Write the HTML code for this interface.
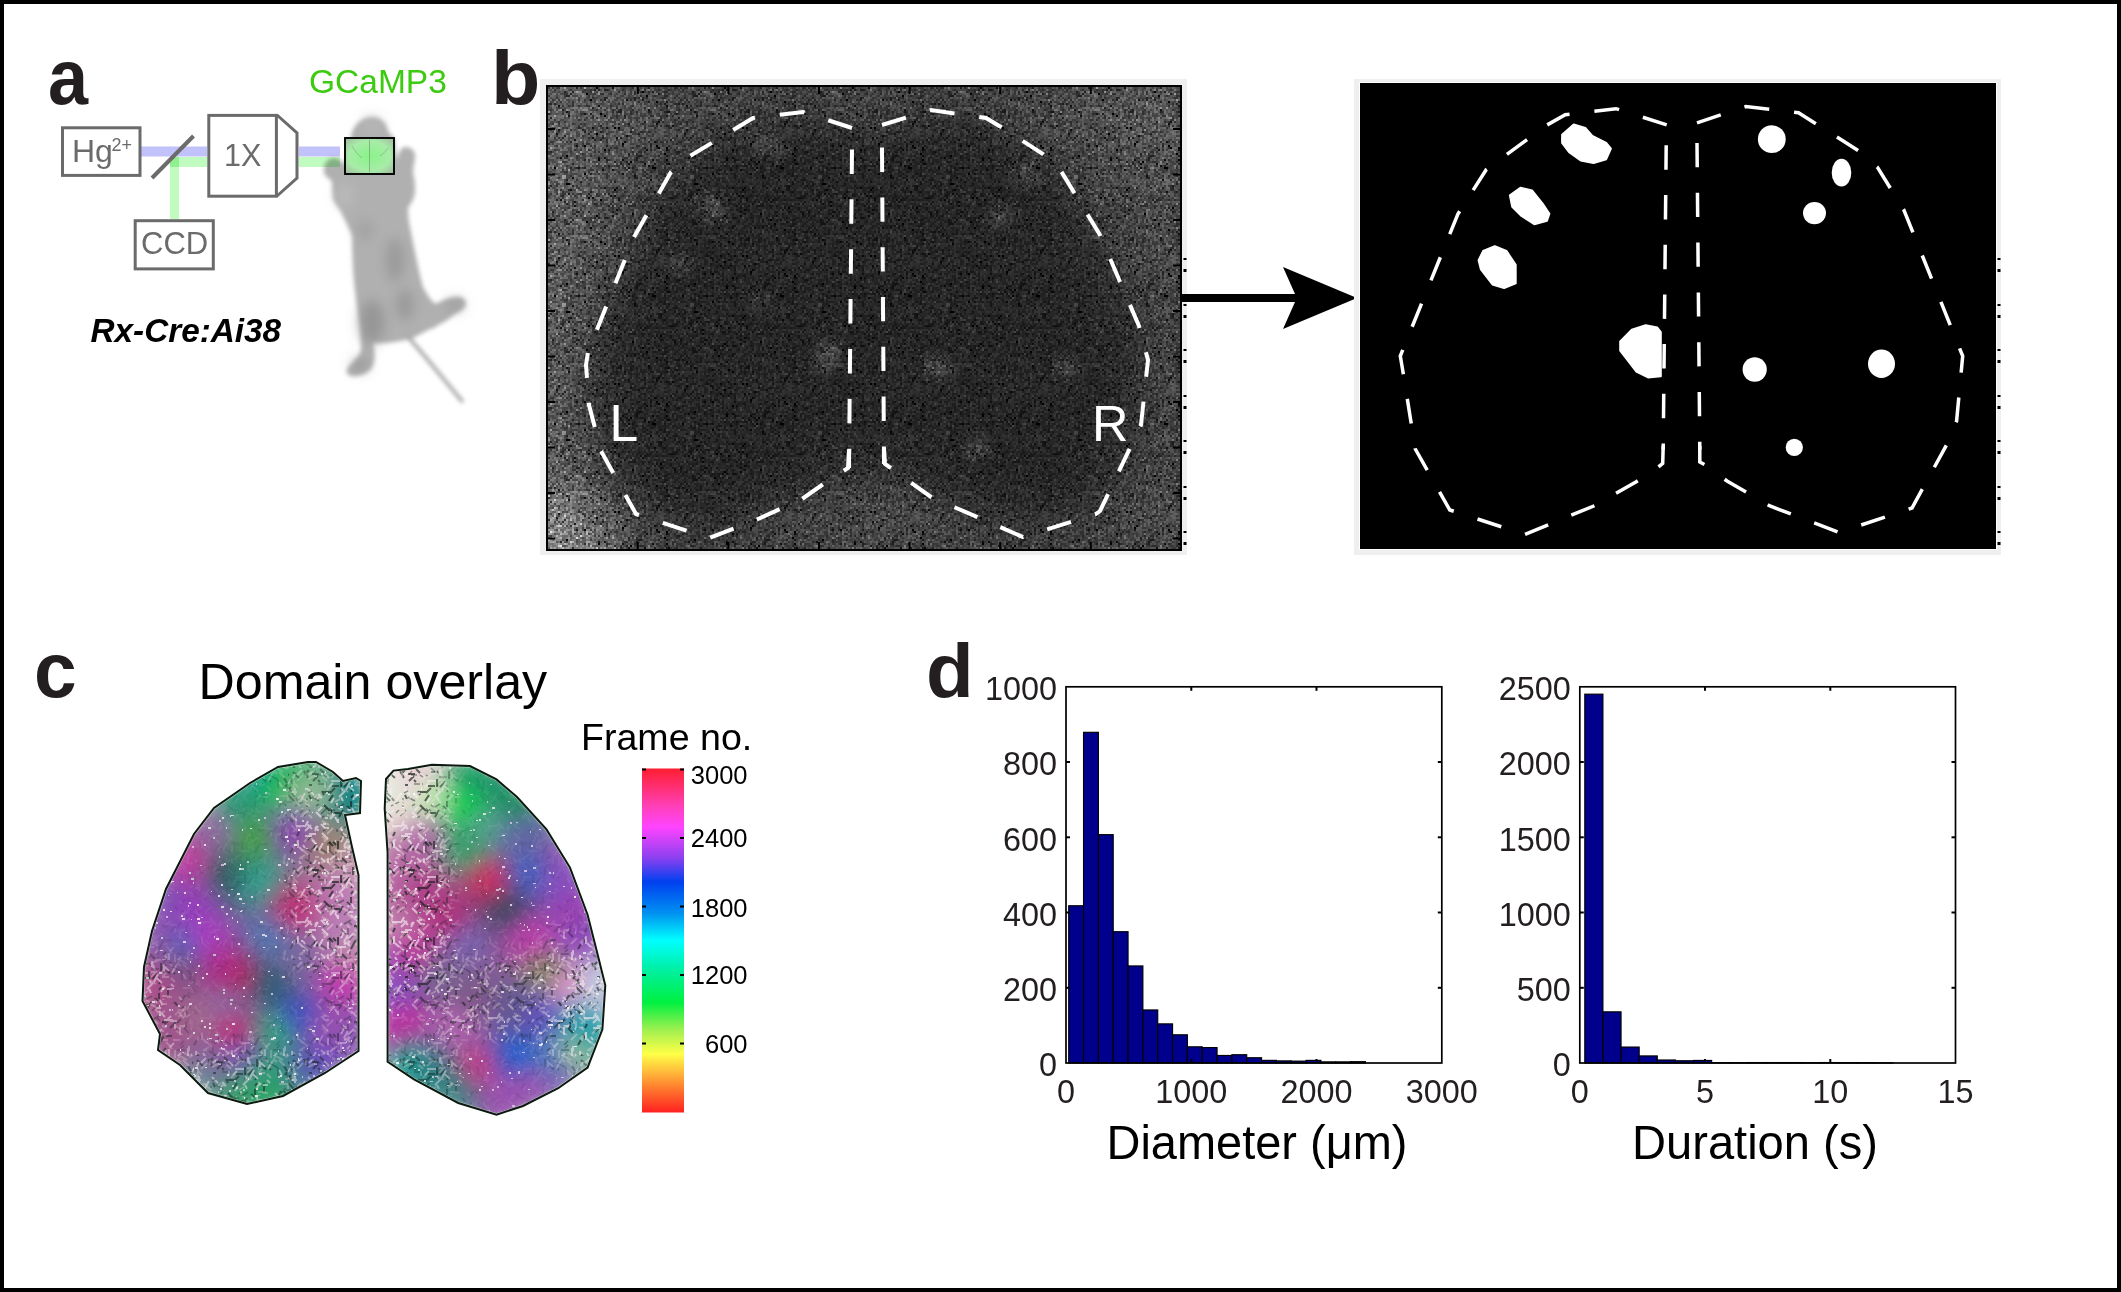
<!DOCTYPE html><html><head><meta charset="utf-8"><style>html,body{margin:0;padding:0;background:#fff;width:2121px;height:1292px;overflow:hidden}svg{display:block}text{font-family:"Liberation Sans",sans-serif}</style></head><body>
<svg width="2121" height="1292" viewBox="0 0 2121 1292">
<defs>
<filter id="blur3" x="-20%" y="-20%" width="140%" height="140%"><feGaussianBlur stdDeviation="2.5"/></filter>
</defs>
<rect x="0" y="0" width="2121" height="1292" fill="#fff"/>
<rect x="2" y="2" width="2117" height="1288" fill="none" stroke="#000" stroke-width="4"/>
<text transform="translate(48,103.5) scale(0.93,1)" font-size="77.5" font-weight="bold" fill="#231f20">a</text>
<filter id="mblur" x="-30%" y="-30%" width="160%" height="160%"><feGaussianBlur stdDeviation="2.2"/></filter>
<filter id="mblur2" x="-50%" y="-50%" width="200%" height="200%"><feGaussianBlur stdDeviation="6"/></filter>
<g filter="url(#mblur)"><path d="M372,117 C381,117 387,123 388,131 L394,138 L397,160 C399,152 401,147 405,147 C411,147 416,151 415,158 C414,164 413,168 413,173 C415,180 416,190 414,197 C412,203 409,206 408,208 C408,216 409,224 411,232 C414,248 419,272 423,287 C428,296 432,302 436,304 C442,300 450,297 456,297 C462,296 466,299 466,304 C465,309 460,312 457,313 C450,318 445,322 440,324 C436,327 432,329 430,329 L413,338 C400,342 385,344 373,343 C375,350 376,360 372,368 C367,374 358,377 352,376 C346,375 345,371 349,366 C355,360 360,355 361,350 C361,340 360,332 360,328 C358,315 356,300 355,292 C353,275 352,255 352,236 C348,225 344,219 341,212 C337,206 334,202 333,199 C332,192 332,186 332,181 C328,178 323,175 324,170 C324,165 326,161 330,159 C336,156 341,160 345,165 L352,132 C355,124 362,117 372,117 Z" fill="#b0b0b0"/><path d="M408,337 C422,352 440,375 462,401" fill="none" stroke="#a4a4a4" stroke-width="3.5" stroke-linecap="round"/><g filter="url(#mblur2)"><ellipse cx="372" cy="322" rx="12" ry="22" fill="#959595"/><ellipse cx="405" cy="305" rx="9" ry="16" fill="#9a9a9a"/><ellipse cx="360" cy="365" rx="8" ry="6" fill="#959595"/><ellipse cx="455" cy="305" rx="8" ry="5" fill="#989898"/><ellipse cx="345" cy="195" rx="7" ry="12" fill="#bcbcbc"/><ellipse cx="372" cy="125" rx="9" ry="7" fill="#b8b8b8"/><ellipse cx="395" cy="260" rx="9" ry="22" fill="#9a9a9a"/><ellipse cx="365" cy="230" rx="8" ry="10" fill="#a0a0a0"/></g></g>
<rect x="141" y="146.5" width="66" height="10" fill="#c2c2fa"/>
<rect x="299" y="146.5" width="41" height="10" fill="#c2c2fa" style="mix-blend-mode:multiply"/>
<rect x="170" y="157" width="37" height="10" fill="#c0fcc0"/>
<rect x="299" y="157" width="41" height="10" fill="#c0fcc0" style="mix-blend-mode:multiply"/>
<rect x="170" y="157" width="9" height="62" fill="#c0fcc0"/>
<rect x="170" y="157" width="9" height="10" fill="#90f090"/>
<rect x="62.5" y="127.8" width="77.5" height="47.6" fill="none" stroke="#6b6b6b" stroke-width="3"/>
<line x1="152" y1="178" x2="193.5" y2="136" stroke="#6b6b6b" stroke-width="4"/>
<rect x="208.8" y="115.4" width="67.6" height="80.8" fill="#fff" stroke="#6b6b6b" stroke-width="3"/>
<path d="M277,115 L297,133 L297,178 L277,196" fill="none" stroke="#6b6b6b" stroke-width="3" stroke-linejoin="miter"/>
<rect x="135.2" y="220.7" width="78.1" height="48.2" fill="#fff" stroke="#6b6b6b" stroke-width="3"/>
<text x="72" y="162" font-size="32" fill="#6b6b6b">Hg</text>
<text x="111.5" y="151" font-size="18" fill="#6b6b6b">2+</text>
<text x="224" y="165.8" font-size="30.5" fill="#6b6b6b">1X</text>
<text x="141" y="253.5" font-size="31" fill="#6b6b6b">CCD</text>
<defs><radialGradient id="bbox" cx="0.5" cy="0.5" r="0.7"><stop offset="0" stop-color="#88f488"/><stop offset="0.6" stop-color="#a8eca8"/><stop offset="1" stop-color="#a0b4a0"/></radialGradient></defs>
<rect x="345" y="138" width="49" height="36" fill="url(#bbox)"/>
<line x1="369.5" y1="140" x2="369.5" y2="172" stroke="#7a9a7a" stroke-width="0.7"/><path d="M352,146 C355,151 358,155 362,158 M388,148 C385,152 383,154 380,156" stroke="#80a080" stroke-width="0.6" fill="none"/>
<rect x="345" y="138" width="49" height="36" fill="none" stroke="#000" stroke-width="1.9"/>
<text x="309" y="92.7" font-size="33.5" fill="#3ccb10">GCaMP3</text>
<text x="90.5" y="342" font-size="33.3" font-weight="bold" font-style="italic" fill="#000">Rx-Cre:Ai38</text>
<text transform="translate(491,103.5) scale(1.07,1)" font-size="75.5" font-weight="bold" fill="#231f20">b</text>
<defs><pattern id="npat" x="548" y="87" width="128" height="128" patternUnits="userSpaceOnUse"><rect width="128" height="128" fill="#808080"/><path fill="rgb(0,0,0)" d="M48 0h2v2h-2zM94 4h2v2h-2zM38 6h2v2h-2zM98 8h2v2h-2zM42 12h2v2h-2zM108 14h2v2h-2zM52 26h2v2h-2zM56 28h2v2h-2zM66 40h2v2h-2zM70 40h2v2h-2zM48 46h2v2h-2zM74 56h2v2h-2zM36 58h2v2h-2zM108 58h2v2h-2zM110 60h2v2h-2zM118 60h2v2h-2zM56 62h2v2h-2zM116 66h2v2h-2zM18 68h2v2h-2zM50 72h2v2h-2zM118 72h2v2h-2zM82 74h2v2h-2zM6 80h2v2h-2zM104 80h4v2h-4zM36 86h2v2h-2zM18 96h4v2h-4zM66 102h2v2h-2zM40 110h2v2h-2zM52 112h2v2h-2zM112 120h2v2h-2zM84 126h2v2h-2z"/><path fill="rgb(26,26,26)" d="M64 0h2v2h-2zM78 12h2v2h-2zM10 18h2v2h-2zM50 18h2v2h-2zM118 18h2v2h-2zM100 22h2v2h-2zM18 24h2v2h-2zM120 24h2v2h-2zM36 26h2v2h-2zM20 28h2v2h-2zM110 34h2v2h-2zM108 36h2v2h-2zM124 38h2v2h-2zM44 40h2v2h-2zM58 40h2v2h-2zM10 42h2v2h-2zM8 46h2v2h-2zM78 48h2v2h-2zM44 50h2v2h-2zM68 50h2v2h-2zM26 52h2v2h-2zM76 54h2v2h-2zM106 54h2v2h-2zM28 58h2v2h-2zM98 62h2v2h-2zM118 62h2v2h-2zM12 70h2v2h-2zM50 70h2v2h-2zM56 70h2v2h-2zM74 72h2v2h-2zM104 72h2v2h-2zM80 76h2v2h-2zM96 76h2v2h-2zM120 76h2v2h-2zM100 78h2v2h-2zM30 80h2v2h-2zM80 80h2v2h-2zM54 82h2v2h-2zM64 82h2v2h-2zM74 86h2v2h-2zM86 88h2v2h-2zM24 90h2v2h-2zM102 92h2v2h-2zM56 100h2v2h-2zM68 100h2v2h-2zM22 102h2v2h-2zM106 104h2v2h-2zM20 106h2v2h-2zM62 108h2v2h-2zM66 108h2v2h-2zM44 110h2v2h-2zM12 112h2v2h-2zM70 112h2v2h-2zM26 114h2v2h-2zM26 118h2v2h-2zM68 122h2v2h-2zM126 126h2v2h-2z"/><path fill="rgb(51,51,51)" d="M28 0h2v2h-2zM100 0h2v2h-2zM46 2h2v2h-2zM50 2h2v2h-2zM56 2h4v2h-4zM16 4h2v2h-2zM24 4h2v2h-2zM104 4h2v2h-2zM22 6h2v2h-2zM110 6h2v2h-2zM18 8h4v2h-4zM56 10h2v2h-2zM86 10h2v2h-2zM56 12h2v2h-2zM86 12h2v2h-2zM94 12h2v2h-2zM100 14h2v2h-2zM118 14h2v2h-2zM2 16h2v2h-2zM6 16h2v2h-2zM116 16h2v2h-2zM44 20h2v2h-2zM14 22h2v2h-2zM72 22h2v2h-2zM70 24h4v2h-4zM100 24h2v2h-2zM118 24h2v2h-2zM0 26h2v2h-2zM42 26h2v2h-2zM76 28h2v2h-2zM118 28h2v2h-2zM2 30h2v2h-2zM96 34h2v2h-2zM80 36h2v2h-2zM52 38h2v2h-2zM118 38h2v2h-2zM30 40h2v2h-2zM34 42h2v2h-2zM36 44h2v2h-2zM52 44h2v2h-2zM82 44h2v2h-2zM40 46h2v2h-2zM90 46h2v2h-2zM0 48h2v2h-2zM16 48h2v2h-2zM14 50h2v2h-2zM54 50h2v2h-2zM72 50h2v2h-2zM46 52h2v2h-2zM52 52h2v2h-2zM122 52h2v2h-2zM22 54h2v2h-2zM58 58h2v2h-2zM74 58h2v2h-2zM102 58h2v2h-2zM96 60h2v2h-2zM60 62h2v2h-2zM2 64h2v2h-2zM80 66h2v2h-2zM90 68h4v2h-4zM118 68h2v2h-2zM88 70h2v2h-2zM36 72h2v2h-2zM58 72h2v2h-2zM88 72h2v2h-2zM66 74h2v2h-2zM78 74h2v2h-2zM24 76h2v2h-2zM72 76h2v2h-2zM106 76h2v2h-2zM118 76h2v2h-2zM60 78h2v2h-2zM104 78h2v2h-2zM22 80h2v2h-2zM28 80h2v2h-2zM36 80h2v2h-2zM84 80h2v2h-2zM42 86h2v2h-2zM86 90h4v2h-4zM18 92h2v2h-2zM32 94h2v2h-2zM66 94h2v2h-2zM116 96h2v2h-2zM2 98h2v2h-2zM24 98h2v2h-2zM112 98h2v2h-2zM76 100h2v2h-2zM90 100h2v2h-2zM102 100h2v2h-2zM112 100h2v2h-2zM20 102h2v2h-2zM42 104h2v2h-2zM116 104h2v2h-2zM40 106h2v2h-2zM60 106h2v2h-2zM14 108h2v2h-2zM70 110h2v2h-2zM122 110h4v2h-4zM8 112h2v2h-2zM92 112h2v2h-2zM96 112h2v2h-2zM16 114h2v2h-2zM94 114h2v2h-2zM18 116h2v2h-2zM46 116h2v2h-2zM76 116h2v2h-2zM60 118h2v2h-2zM72 118h2v2h-2zM108 120h2v2h-2zM4 124h2v2h-2zM28 124h4v2h-4zM40 124h2v2h-2zM64 124h2v2h-2zM112 124h2v2h-2zM68 126h2v2h-2z"/><path fill="rgb(76,76,76)" d="M0 0h2v2h-2zM4 0h2v2h-2zM8 0h4v2h-4zM32 0h2v2h-2zM84 0h2v2h-2zM126 0h2v2h-2zM6 2h2v2h-2zM22 2h2v2h-2zM36 2h2v2h-2zM42 2h2v2h-2zM60 2h2v2h-2zM74 2h2v2h-2zM90 2h2v2h-2zM96 2h2v2h-2zM110 2h2v2h-2zM120 2h2v2h-2zM34 4h2v2h-2zM42 4h2v2h-2zM70 4h2v2h-2zM86 4h2v2h-2zM92 4h2v2h-2zM100 4h2v2h-2zM116 4h4v2h-4zM16 6h4v2h-4zM46 6h2v2h-2zM52 6h4v2h-4zM62 6h2v2h-2zM76 6h2v2h-2zM86 6h2v2h-2zM0 8h2v2h-2zM16 8h2v2h-2zM40 8h2v2h-2zM92 8h2v2h-2zM106 8h2v2h-2zM116 8h4v2h-4zM8 10h2v2h-2zM44 10h2v2h-2zM58 10h2v2h-2zM90 10h2v2h-2zM94 10h2v2h-2zM98 10h2v2h-2zM114 10h4v2h-4zM126 10h2v2h-2zM4 12h2v2h-2zM10 12h2v2h-2zM30 12h2v2h-2zM36 12h2v2h-2zM52 12h2v2h-2zM82 12h2v2h-2zM12 14h2v2h-2zM24 14h2v2h-2zM90 14h2v2h-2zM0 16h2v2h-2zM24 16h2v2h-2zM70 16h2v2h-2zM74 16h2v2h-2zM112 16h2v2h-2zM126 16h2v2h-2zM14 18h2v2h-2zM20 18h2v2h-2zM24 18h2v2h-2zM30 18h2v2h-2zM38 18h4v2h-4zM62 18h2v2h-2zM84 18h2v2h-2zM108 18h2v2h-2zM10 20h2v2h-2zM68 20h2v2h-2zM96 20h2v2h-2zM118 20h2v2h-2zM2 22h2v2h-2zM48 22h2v2h-2zM56 22h2v2h-2zM64 22h2v2h-2zM70 22h2v2h-2zM84 22h2v2h-2zM112 22h2v2h-2zM20 24h2v2h-2zM64 24h2v2h-2zM68 24h2v2h-2zM82 24h2v2h-2zM88 24h2v2h-2zM102 24h2v2h-2zM116 24h2v2h-2zM14 26h2v2h-2zM20 26h2v2h-2zM32 26h4v2h-4zM82 26h2v2h-2zM126 26h2v2h-2zM44 28h2v2h-2zM68 28h2v2h-2zM102 28h4v2h-4zM124 28h2v2h-2zM38 30h2v2h-2zM44 30h2v2h-2zM48 30h2v2h-2zM62 30h2v2h-2zM68 30h2v2h-2zM76 30h2v2h-2zM112 30h2v2h-2zM6 32h2v2h-2zM30 32h2v2h-2zM36 32h2v2h-2zM88 32h2v2h-2zM110 32h4v2h-4zM126 32h2v2h-2zM10 34h2v2h-2zM16 34h2v2h-2zM104 34h2v2h-2zM108 34h2v2h-2zM114 34h2v2h-2zM4 36h2v2h-2zM10 36h2v2h-2zM24 36h2v2h-2zM32 36h2v2h-2zM36 36h2v2h-2zM70 36h2v2h-2zM94 36h2v2h-2zM30 38h2v2h-2zM64 38h2v2h-2zM80 38h2v2h-2zM104 38h2v2h-2zM108 38h2v2h-2zM112 38h2v2h-2zM120 38h2v2h-2zM14 40h2v2h-2zM18 40h2v2h-2zM32 40h2v2h-2zM54 40h2v2h-2zM84 40h2v2h-2zM96 40h2v2h-2zM106 40h2v2h-2zM120 40h4v2h-4zM2 42h2v2h-2zM22 42h2v2h-2zM36 42h2v2h-2zM70 42h2v2h-2zM10 44h2v2h-2zM42 44h2v2h-2zM54 44h2v2h-2zM92 44h4v2h-4zM100 44h2v2h-2zM58 46h2v2h-2zM8 48h2v2h-2zM34 48h2v2h-2zM48 48h2v2h-2zM54 48h2v2h-2zM80 48h2v2h-2zM6 50h2v2h-2zM10 50h2v2h-2zM40 50h2v2h-2zM96 50h2v2h-2zM12 52h2v2h-2zM58 52h2v2h-2zM68 52h2v2h-2zM90 52h2v2h-2zM2 54h4v2h-4zM18 54h2v2h-2zM58 54h2v2h-2zM100 54h2v2h-2zM108 54h2v2h-2zM112 54h2v2h-2zM118 54h2v2h-2zM0 56h2v2h-2zM28 56h2v2h-2zM34 56h2v2h-2zM38 56h4v2h-4zM102 56h2v2h-2zM8 58h2v2h-2zM26 58h2v2h-2zM34 58h2v2h-2zM42 58h2v2h-2zM46 58h2v2h-2zM88 58h4v2h-4zM120 58h2v2h-2zM62 60h2v2h-2zM66 60h4v2h-4zM84 60h2v2h-2zM108 60h2v2h-2zM6 62h2v2h-2zM26 62h2v2h-2zM32 62h2v2h-2zM40 62h2v2h-2zM102 62h2v2h-2zM120 62h2v2h-2zM126 62h2v2h-2zM0 64h2v2h-2zM22 64h2v2h-2zM46 64h2v2h-2zM50 64h2v2h-2zM56 64h2v2h-2zM60 64h2v2h-2zM84 64h2v2h-2zM90 64h4v2h-4zM96 64h2v2h-2zM0 66h2v2h-2zM34 66h2v2h-2zM88 66h2v2h-2zM14 68h2v2h-2zM28 68h2v2h-2zM42 68h2v2h-2zM80 68h2v2h-2zM88 68h2v2h-2zM110 68h2v2h-2zM8 70h2v2h-2zM16 70h4v2h-4zM28 70h2v2h-2zM76 70h4v2h-4zM40 72h2v2h-2zM60 72h2v2h-2zM86 72h2v2h-2zM108 72h2v2h-2zM124 72h2v2h-2zM14 74h4v2h-4zM58 74h2v2h-2zM72 74h2v2h-2zM92 74h4v2h-4zM116 74h2v2h-2zM0 76h2v2h-2zM18 78h2v2h-2zM48 78h2v2h-2zM56 78h2v2h-2zM68 78h4v2h-4zM74 78h2v2h-2zM86 78h2v2h-2zM96 78h2v2h-2zM26 80h2v2h-2zM34 80h2v2h-2zM54 80h2v2h-2zM60 80h2v2h-2zM76 80h2v2h-2zM116 80h2v2h-2zM14 82h2v2h-2zM24 82h2v2h-2zM42 82h4v2h-4zM78 82h2v2h-2zM88 82h2v2h-2zM94 82h2v2h-2zM106 82h2v2h-2zM126 82h2v2h-2zM16 84h4v2h-4zM40 84h2v2h-2zM48 84h2v2h-2zM70 84h2v2h-2zM84 84h2v2h-2zM96 84h2v2h-2zM102 84h2v2h-2zM50 86h2v2h-2zM58 86h2v2h-2zM86 86h2v2h-2zM98 86h2v2h-2zM112 86h2v2h-2zM116 86h2v2h-2zM22 88h2v2h-2zM58 88h2v2h-2zM96 88h2v2h-2zM102 88h2v2h-2zM108 88h2v2h-2zM116 88h2v2h-2zM120 88h2v2h-2zM10 90h2v2h-2zM38 90h2v2h-2zM58 90h2v2h-2zM80 90h2v2h-2zM98 90h2v2h-2zM0 92h2v2h-2zM28 92h2v2h-2zM42 92h2v2h-2zM110 92h2v2h-2zM118 92h2v2h-2zM126 92h2v2h-2zM62 94h2v2h-2zM116 94h2v2h-2zM8 96h2v2h-2zM40 96h2v2h-2zM126 96h2v2h-2zM8 98h2v2h-2zM28 98h2v2h-2zM50 98h2v2h-2zM86 98h4v2h-4zM94 98h2v2h-2zM110 98h2v2h-2zM0 100h2v2h-2zM30 100h2v2h-2zM52 100h2v2h-2zM64 100h2v2h-2zM110 100h2v2h-2zM8 102h2v2h-2zM12 102h2v2h-2zM98 102h2v2h-2zM110 102h4v2h-4zM118 102h2v2h-2zM14 104h2v2h-2zM64 104h2v2h-2zM68 104h2v2h-2zM76 104h2v2h-2zM100 104h2v2h-2zM114 104h2v2h-2zM2 106h2v2h-2zM8 106h2v2h-2zM14 106h4v2h-4zM24 106h2v2h-2zM30 106h4v2h-4zM48 106h2v2h-2zM56 106h2v2h-2zM0 108h2v2h-2zM12 108h2v2h-2zM26 108h2v2h-2zM38 108h2v2h-2zM42 108h2v2h-2zM48 108h4v2h-4zM74 108h2v2h-2zM80 108h2v2h-2zM90 108h2v2h-2zM108 108h2v2h-2zM126 108h2v2h-2zM14 110h2v2h-2zM64 110h2v2h-2zM88 110h2v2h-2zM98 110h2v2h-2zM102 110h2v2h-2zM120 110h2v2h-2zM126 110h2v2h-2zM34 112h2v2h-2zM46 112h2v2h-2zM98 112h4v2h-4zM108 112h2v2h-2zM114 112h2v2h-2zM0 114h2v2h-2zM24 114h2v2h-2zM64 114h2v2h-2zM78 114h2v2h-2zM82 114h2v2h-2zM24 116h2v2h-2zM48 116h2v2h-2zM52 116h2v2h-2zM62 116h2v2h-2zM86 116h2v2h-2zM122 116h2v2h-2zM126 116h2v2h-2zM10 118h2v2h-2zM34 118h4v2h-4zM48 118h2v2h-2zM64 118h2v2h-2zM80 118h8v2h-8zM94 118h2v2h-2zM100 118h2v2h-2zM114 118h2v2h-2zM20 120h2v2h-2zM64 120h2v2h-2zM70 120h2v2h-2zM94 120h2v2h-2zM104 120h2v2h-2zM122 120h2v2h-2zM16 122h2v2h-2zM24 122h2v2h-2zM32 122h2v2h-2zM54 122h2v2h-2zM60 122h2v2h-2zM70 122h4v2h-4zM106 122h2v2h-2zM110 122h2v2h-2zM122 122h2v2h-2zM14 124h2v2h-2zM34 124h2v2h-2zM98 124h4v2h-4zM114 124h2v2h-2zM124 124h4v2h-4zM4 126h2v2h-2zM24 126h4v2h-4zM50 126h2v2h-2zM56 126h2v2h-2zM74 126h2v2h-2zM106 126h2v2h-2z"/><path fill="rgb(102,102,102)" d="M46 0h2v2h-2zM50 0h2v2h-2zM56 0h2v2h-2zM74 0h4v2h-4zM82 0h2v2h-2zM92 0h2v2h-2zM96 0h4v2h-4zM106 0h2v2h-2zM110 0h2v2h-2zM116 0h4v2h-4zM2 2h2v2h-2zM20 2h2v2h-2zM34 2h2v2h-2zM38 2h4v2h-4zM44 2h2v2h-2zM52 2h2v2h-2zM76 2h2v2h-2zM82 2h2v2h-2zM106 2h4v2h-4zM112 2h2v2h-2zM118 2h2v2h-2zM122 2h2v2h-2zM126 2h2v2h-2zM4 4h4v2h-4zM10 4h2v2h-2zM18 4h2v2h-2zM36 4h6v2h-6zM48 4h2v2h-2zM62 4h2v2h-2zM76 4h2v2h-2zM82 4h2v2h-2zM96 4h2v2h-2zM108 4h2v2h-2zM114 4h2v2h-2zM124 4h2v2h-2zM2 6h2v2h-2zM8 6h2v2h-2zM12 6h4v2h-4zM40 6h6v2h-6zM60 6h2v2h-2zM68 6h2v2h-2zM82 6h2v2h-2zM100 6h2v2h-2zM112 6h2v2h-2zM116 6h2v2h-2zM120 6h2v2h-2zM124 6h2v2h-2zM8 8h2v2h-2zM24 8h6v2h-6zM44 8h2v2h-2zM50 8h2v2h-2zM66 8h2v2h-2zM72 8h4v2h-4zM80 8h2v2h-2zM104 8h2v2h-2zM108 8h2v2h-2zM2 10h2v2h-2zM16 10h2v2h-2zM30 10h2v2h-2zM38 10h4v2h-4zM46 10h4v2h-4zM68 10h4v2h-4zM78 10h8v2h-8zM88 10h2v2h-2zM96 10h2v2h-2zM112 10h2v2h-2zM6 12h2v2h-2zM18 12h4v2h-4zM40 12h2v2h-2zM46 12h2v2h-2zM54 12h2v2h-2zM66 12h4v2h-4zM74 12h2v2h-2zM104 12h2v2h-2zM120 12h2v2h-2zM2 14h4v2h-4zM8 14h2v2h-2zM20 14h2v2h-2zM36 14h2v2h-2zM42 14h2v2h-2zM46 14h2v2h-2zM54 14h2v2h-2zM60 14h2v2h-2zM64 14h2v2h-2zM74 14h2v2h-2zM96 14h4v2h-4zM112 14h4v2h-4zM122 14h4v2h-4zM8 16h2v2h-2zM18 16h2v2h-2zM38 16h2v2h-2zM48 16h2v2h-2zM52 16h4v2h-4zM62 16h2v2h-2zM66 16h2v2h-2zM92 16h2v2h-2zM96 16h2v2h-2zM106 16h6v2h-6zM0 18h2v2h-2zM22 18h2v2h-2zM32 18h2v2h-2zM36 18h2v2h-2zM64 18h2v2h-2zM68 18h2v2h-2zM76 18h2v2h-2zM82 18h2v2h-2zM112 18h2v2h-2zM122 18h2v2h-2zM0 20h4v2h-4zM8 20h2v2h-2zM12 20h2v2h-2zM16 20h2v2h-2zM52 20h2v2h-2zM58 20h2v2h-2zM62 20h2v2h-2zM76 20h2v2h-2zM80 20h4v2h-4zM114 20h4v2h-4zM0 22h2v2h-2zM4 22h2v2h-2zM8 22h2v2h-2zM16 22h2v2h-2zM24 22h2v2h-2zM42 22h6v2h-6zM66 22h2v2h-2zM78 22h2v2h-2zM82 22h2v2h-2zM90 22h2v2h-2zM114 22h2v2h-2zM118 22h2v2h-2zM2 24h2v2h-2zM14 24h2v2h-2zM28 24h2v2h-2zM32 24h4v2h-4zM52 24h2v2h-2zM58 24h2v2h-2zM76 24h2v2h-2zM84 24h2v2h-2zM126 24h2v2h-2zM2 26h2v2h-2zM8 26h2v2h-2zM38 26h2v2h-2zM54 26h2v2h-2zM58 26h2v2h-2zM64 26h2v2h-2zM68 26h2v2h-2zM72 26h2v2h-2zM76 26h4v2h-4zM84 26h2v2h-2zM88 26h2v2h-2zM92 26h2v2h-2zM96 26h2v2h-2zM100 26h4v2h-4zM108 26h4v2h-4zM116 26h2v2h-2zM122 26h2v2h-2zM28 28h2v2h-2zM32 28h2v2h-2zM52 28h2v2h-2zM64 28h4v2h-4zM70 28h2v2h-2zM80 28h2v2h-2zM92 28h6v2h-6zM110 28h8v2h-8zM16 30h2v2h-2zM20 30h2v2h-2zM28 30h2v2h-2zM42 30h2v2h-2zM64 30h2v2h-2zM80 30h4v2h-4zM86 30h6v2h-6zM94 30h2v2h-2zM100 30h2v2h-2zM116 30h2v2h-2zM0 32h2v2h-2zM12 32h4v2h-4zM32 32h2v2h-2zM60 32h2v2h-2zM70 32h2v2h-2zM74 32h2v2h-2zM82 32h2v2h-2zM104 32h2v2h-2zM122 32h2v2h-2zM2 34h4v2h-4zM8 34h2v2h-2zM58 34h2v2h-2zM62 34h6v2h-6zM74 34h2v2h-2zM82 34h2v2h-2zM90 34h2v2h-2zM106 34h2v2h-2zM124 34h4v2h-4zM0 36h4v2h-4zM26 36h2v2h-2zM34 36h2v2h-2zM50 36h2v2h-2zM54 36h2v2h-2zM58 36h2v2h-2zM66 36h2v2h-2zM76 36h4v2h-4zM92 36h2v2h-2zM96 36h2v2h-2zM126 36h2v2h-2zM0 38h2v2h-2zM10 38h2v2h-2zM16 38h2v2h-2zM20 38h2v2h-2zM34 38h4v2h-4zM46 38h2v2h-2zM50 38h2v2h-2zM76 38h2v2h-2zM88 38h2v2h-2zM96 38h2v2h-2zM100 38h4v2h-4zM116 38h2v2h-2zM126 38h2v2h-2zM4 40h4v2h-4zM16 40h2v2h-2zM28 40h2v2h-2zM38 40h4v2h-4zM46 40h4v2h-4zM52 40h2v2h-2zM60 40h2v2h-2zM82 40h2v2h-2zM0 42h2v2h-2zM12 42h2v2h-2zM26 42h2v2h-2zM40 42h2v2h-2zM44 42h2v2h-2zM48 42h2v2h-2zM54 42h4v2h-4zM72 42h4v2h-4zM82 42h2v2h-2zM86 42h2v2h-2zM4 44h2v2h-2zM8 44h2v2h-2zM28 44h2v2h-2zM60 44h6v2h-6zM68 44h2v2h-2zM84 44h4v2h-4zM96 44h2v2h-2zM102 44h2v2h-2zM106 44h2v2h-2zM116 44h2v2h-2zM18 46h4v2h-4zM28 46h4v2h-4zM46 46h2v2h-2zM60 46h2v2h-2zM74 46h2v2h-2zM84 46h6v2h-6zM98 46h2v2h-2zM104 46h2v2h-2zM28 48h4v2h-4zM36 48h2v2h-2zM42 48h2v2h-2zM66 48h2v2h-2zM76 48h2v2h-2zM82 48h2v2h-2zM90 48h2v2h-2zM100 48h2v2h-2zM104 48h2v2h-2zM116 48h4v2h-4zM20 50h6v2h-6zM34 50h2v2h-2zM42 50h2v2h-2zM48 50h6v2h-6zM56 50h4v2h-4zM78 50h2v2h-2zM82 50h2v2h-2zM92 50h4v2h-4zM124 50h4v2h-4zM6 52h4v2h-4zM20 52h2v2h-2zM40 52h2v2h-2zM48 52h4v2h-4zM78 52h2v2h-2zM96 52h2v2h-2zM102 52h2v2h-2zM108 52h4v2h-4zM126 52h2v2h-2zM14 54h2v2h-2zM34 54h2v2h-2zM38 54h2v2h-2zM54 54h2v2h-2zM66 54h2v2h-2zM70 54h2v2h-2zM78 54h2v2h-2zM92 54h2v2h-2zM114 54h2v2h-2zM124 54h2v2h-2zM4 56h2v2h-2zM16 56h2v2h-2zM20 56h2v2h-2zM26 56h2v2h-2zM58 56h2v2h-2zM70 56h2v2h-2zM82 56h4v2h-4zM94 56h4v2h-4zM114 56h2v2h-2zM124 56h2v2h-2zM6 58h2v2h-2zM12 58h4v2h-4zM64 58h2v2h-2zM68 58h2v2h-2zM114 58h2v2h-2zM0 60h2v2h-2zM14 60h2v2h-2zM20 60h4v2h-4zM28 60h2v2h-2zM36 60h2v2h-2zM44 60h4v2h-4zM54 60h2v2h-2zM82 60h2v2h-2zM88 60h2v2h-2zM94 60h2v2h-2zM102 60h2v2h-2zM122 60h2v2h-2zM8 62h4v2h-4zM20 62h4v2h-4zM28 62h2v2h-2zM42 62h2v2h-2zM46 62h2v2h-2zM68 62h2v2h-2zM72 62h2v2h-2zM76 62h2v2h-2zM92 62h4v2h-4zM106 62h2v2h-2zM4 64h2v2h-2zM14 64h6v2h-6zM30 64h2v2h-2zM68 64h2v2h-2zM76 64h2v2h-2zM82 64h2v2h-2zM112 64h2v2h-2zM118 64h4v2h-4zM126 64h2v2h-2zM2 66h2v2h-2zM6 66h2v2h-2zM14 66h4v2h-4zM22 66h4v2h-4zM32 66h2v2h-2zM36 66h2v2h-2zM42 66h2v2h-2zM52 66h4v2h-4zM60 66h2v2h-2zM72 66h2v2h-2zM84 66h2v2h-2zM92 66h2v2h-2zM98 66h2v2h-2zM112 66h2v2h-2zM122 66h2v2h-2zM4 68h2v2h-2zM16 68h2v2h-2zM22 68h2v2h-2zM30 68h2v2h-2zM34 68h4v2h-4zM46 68h2v2h-2zM50 68h2v2h-2zM54 68h2v2h-2zM70 68h2v2h-2zM74 68h2v2h-2zM94 68h2v2h-2zM106 68h2v2h-2zM120 68h2v2h-2zM10 70h2v2h-2zM30 70h8v2h-8zM48 70h2v2h-2zM52 70h2v2h-2zM58 70h2v2h-2zM74 70h2v2h-2zM86 70h2v2h-2zM90 70h2v2h-2zM96 70h4v2h-4zM112 70h2v2h-2zM116 70h2v2h-2zM124 70h4v2h-4zM0 72h6v2h-6zM20 72h2v2h-2zM24 72h2v2h-2zM28 72h4v2h-4zM34 72h2v2h-2zM62 72h2v2h-2zM68 72h2v2h-2zM76 72h2v2h-2zM96 72h2v2h-2zM110 72h2v2h-2zM116 72h2v2h-2zM0 74h2v2h-2zM4 74h4v2h-4zM18 74h2v2h-2zM40 74h2v2h-2zM44 74h6v2h-6zM76 74h2v2h-2zM86 74h6v2h-6zM96 74h2v2h-2zM102 74h2v2h-2zM110 74h4v2h-4zM118 74h4v2h-4zM8 76h2v2h-2zM50 76h2v2h-2zM68 76h2v2h-2zM74 76h2v2h-2zM78 76h2v2h-2zM112 76h4v2h-4zM122 76h2v2h-2zM126 76h2v2h-2zM6 78h4v2h-4zM20 78h2v2h-2zM30 78h2v2h-2zM36 78h2v2h-2zM44 78h2v2h-2zM50 78h4v2h-4zM58 78h2v2h-2zM62 78h6v2h-6zM78 78h2v2h-2zM84 78h2v2h-2zM94 78h2v2h-2zM102 78h2v2h-2zM110 78h2v2h-2zM116 78h2v2h-2zM2 80h2v2h-2zM18 80h2v2h-2zM32 80h2v2h-2zM42 80h2v2h-2zM50 80h4v2h-4zM58 80h2v2h-2zM70 80h2v2h-2zM74 80h2v2h-2zM86 80h2v2h-2zM100 80h4v2h-4zM108 80h2v2h-2zM120 80h4v2h-4zM4 82h4v2h-4zM18 82h2v2h-2zM22 82h2v2h-2zM30 82h2v2h-2zM40 82h2v2h-2zM48 82h2v2h-2zM56 82h2v2h-2zM60 82h2v2h-2zM66 82h4v2h-4zM76 82h2v2h-2zM84 82h4v2h-4zM98 82h8v2h-8zM110 82h2v2h-2zM114 82h6v2h-6zM124 82h2v2h-2zM0 84h4v2h-4zM12 84h4v2h-4zM22 84h2v2h-2zM36 84h2v2h-2zM60 84h2v2h-2zM80 84h2v2h-2zM86 84h2v2h-2zM94 84h2v2h-2zM104 84h2v2h-2zM110 84h4v2h-4zM116 84h2v2h-2zM124 84h2v2h-2zM4 86h6v2h-6zM16 86h4v2h-4zM22 86h8v2h-8zM46 86h2v2h-2zM54 86h4v2h-4zM66 86h2v2h-2zM70 86h4v2h-4zM78 86h2v2h-2zM82 86h2v2h-2zM94 86h2v2h-2zM110 86h2v2h-2zM114 86h2v2h-2zM18 88h4v2h-4zM30 88h4v2h-4zM38 88h2v2h-2zM60 88h2v2h-2zM78 88h2v2h-2zM84 88h2v2h-2zM88 88h2v2h-2zM94 88h2v2h-2zM114 88h2v2h-2zM0 90h2v2h-2zM18 90h4v2h-4zM34 90h2v2h-2zM42 90h2v2h-2zM46 90h2v2h-2zM74 90h2v2h-2zM92 90h2v2h-2zM100 90h2v2h-2zM108 90h2v2h-2zM112 90h2v2h-2zM118 90h4v2h-4zM126 90h2v2h-2zM16 92h2v2h-2zM36 92h2v2h-2zM40 92h2v2h-2zM46 92h2v2h-2zM62 92h2v2h-2zM66 92h2v2h-2zM92 92h2v2h-2zM124 92h2v2h-2zM2 94h2v2h-2zM6 94h4v2h-4zM16 94h4v2h-4zM26 94h2v2h-2zM46 94h6v2h-6zM86 94h2v2h-2zM90 94h2v2h-2zM100 94h2v2h-2zM120 94h4v2h-4zM126 94h2v2h-2zM4 96h2v2h-2zM10 96h2v2h-2zM16 96h2v2h-2zM22 96h2v2h-2zM32 96h2v2h-2zM60 96h2v2h-2zM74 96h2v2h-2zM80 96h2v2h-2zM86 96h2v2h-2zM90 96h4v2h-4zM96 96h2v2h-2zM100 96h2v2h-2zM6 98h2v2h-2zM16 98h2v2h-2zM32 98h2v2h-2zM38 98h4v2h-4zM58 98h2v2h-2zM70 98h2v2h-2zM78 98h2v2h-2zM104 98h2v2h-2zM108 98h2v2h-2zM114 98h2v2h-2zM124 98h2v2h-2zM4 100h4v2h-4zM28 100h2v2h-2zM42 100h2v2h-2zM46 100h4v2h-4zM54 100h2v2h-2zM58 100h6v2h-6zM66 100h2v2h-2zM72 100h2v2h-2zM98 100h2v2h-2zM6 102h2v2h-2zM24 102h4v2h-4zM32 102h2v2h-2zM42 102h2v2h-2zM50 102h2v2h-2zM58 102h4v2h-4zM68 102h6v2h-6zM96 102h2v2h-2zM102 102h2v2h-2zM6 104h4v2h-4zM16 104h6v2h-6zM34 104h4v2h-4zM44 104h2v2h-2zM50 104h2v2h-2zM58 104h4v2h-4zM66 104h2v2h-2zM78 104h2v2h-2zM84 104h2v2h-2zM90 104h2v2h-2zM98 104h2v2h-2zM104 104h2v2h-2zM122 104h4v2h-4zM0 106h2v2h-2zM12 106h2v2h-2zM28 106h2v2h-2zM50 106h4v2h-4zM74 106h2v2h-2zM82 106h2v2h-2zM90 106h2v2h-2zM100 106h2v2h-2zM106 106h2v2h-2zM114 106h2v2h-2zM118 106h2v2h-2zM124 106h2v2h-2zM6 108h2v2h-2zM22 108h2v2h-2zM28 108h2v2h-2zM32 108h2v2h-2zM64 108h2v2h-2zM72 108h2v2h-2zM76 108h2v2h-2zM86 108h2v2h-2zM92 108h2v2h-2zM96 108h2v2h-2zM102 108h4v2h-4zM114 108h2v2h-2zM118 108h2v2h-2zM124 108h2v2h-2zM0 110h2v2h-2zM10 110h2v2h-2zM28 110h2v2h-2zM38 110h2v2h-2zM54 110h2v2h-2zM58 110h2v2h-2zM68 110h2v2h-2zM72 110h2v2h-2zM84 110h2v2h-2zM90 110h6v2h-6zM100 110h2v2h-2zM112 110h2v2h-2zM16 112h2v2h-2zM22 112h4v2h-4zM44 112h2v2h-2zM54 112h6v2h-6zM64 112h2v2h-2zM78 112h4v2h-4zM88 112h2v2h-2zM104 112h4v2h-4zM110 112h2v2h-2zM116 112h4v2h-4zM122 112h4v2h-4zM20 114h2v2h-2zM28 114h2v2h-2zM44 114h2v2h-2zM52 114h4v2h-4zM72 114h4v2h-4zM88 114h4v2h-4zM96 114h2v2h-2zM20 116h2v2h-2zM28 116h2v2h-2zM32 116h2v2h-2zM38 116h2v2h-2zM44 116h2v2h-2zM54 116h6v2h-6zM66 116h4v2h-4zM84 116h2v2h-2zM90 116h2v2h-2zM106 116h6v2h-6zM118 116h2v2h-2zM6 118h2v2h-2zM20 118h2v2h-2zM24 118h2v2h-2zM28 118h2v2h-2zM46 118h2v2h-2zM50 118h4v2h-4zM58 118h2v2h-2zM68 118h2v2h-2zM92 118h2v2h-2zM96 118h2v2h-2zM102 118h2v2h-2zM108 118h2v2h-2zM112 118h2v2h-2zM116 118h2v2h-2zM2 120h2v2h-2zM8 120h2v2h-2zM12 120h8v2h-8zM32 120h2v2h-2zM36 120h2v2h-2zM42 120h2v2h-2zM54 120h2v2h-2zM62 120h2v2h-2zM80 120h2v2h-2zM90 120h2v2h-2zM100 120h2v2h-2zM118 120h4v2h-4zM2 122h6v2h-6zM26 122h4v2h-4zM50 122h2v2h-2zM56 122h2v2h-2zM62 122h4v2h-4zM82 122h4v2h-4zM102 122h2v2h-2zM112 122h6v2h-6zM6 124h2v2h-2zM24 124h2v2h-2zM52 124h2v2h-2zM62 124h2v2h-2zM66 124h2v2h-2zM72 124h2v2h-2zM78 124h2v2h-2zM84 124h2v2h-2zM118 124h2v2h-2zM10 126h2v2h-2zM14 126h2v2h-2zM32 126h4v2h-4zM42 126h2v2h-2zM66 126h2v2h-2zM92 126h2v2h-2zM98 126h2v2h-2zM112 126h2v2h-2z"/><path fill="rgb(153,153,153)" d="M2 0h2v2h-2zM14 0h2v2h-2zM26 0h2v2h-2zM30 0h2v2h-2zM42 0h2v2h-2zM52 0h2v2h-2zM68 0h2v2h-2zM88 0h2v2h-2zM94 0h2v2h-2zM102 0h4v2h-4zM112 0h2v2h-2zM120 0h2v2h-2zM124 0h2v2h-2zM4 2h2v2h-2zM12 2h2v2h-2zM16 2h4v2h-4zM48 2h2v2h-2zM54 2h2v2h-2zM62 2h2v2h-2zM78 2h2v2h-2zM86 2h4v2h-4zM92 2h2v2h-2zM0 4h2v2h-2zM20 4h2v2h-2zM52 4h4v2h-4zM64 4h6v2h-6zM72 4h2v2h-2zM80 4h2v2h-2zM112 4h2v2h-2zM120 4h2v2h-2zM126 4h2v2h-2zM4 6h2v2h-2zM10 6h2v2h-2zM20 6h2v2h-2zM24 6h2v2h-2zM28 6h4v2h-4zM36 6h2v2h-2zM48 6h2v2h-2zM56 6h4v2h-4zM64 6h2v2h-2zM70 6h4v2h-4zM88 6h2v2h-2zM94 6h4v2h-4zM102 6h4v2h-4zM2 8h4v2h-4zM12 8h4v2h-4zM30 8h2v2h-2zM42 8h2v2h-2zM46 8h2v2h-2zM56 8h2v2h-2zM64 8h2v2h-2zM68 8h4v2h-4zM76 8h4v2h-4zM90 8h2v2h-2zM100 8h4v2h-4zM124 8h2v2h-2zM0 10h2v2h-2zM12 10h2v2h-2zM20 10h4v2h-4zM26 10h2v2h-2zM34 10h4v2h-4zM42 10h2v2h-2zM62 10h2v2h-2zM66 10h2v2h-2zM74 10h2v2h-2zM100 10h2v2h-2zM106 10h2v2h-2zM120 10h4v2h-4zM2 12h2v2h-2zM28 12h2v2h-2zM32 12h4v2h-4zM48 12h4v2h-4zM64 12h2v2h-2zM70 12h2v2h-2zM88 12h2v2h-2zM96 12h2v2h-2zM102 12h2v2h-2zM108 12h4v2h-4zM118 12h2v2h-2zM126 12h2v2h-2zM14 14h2v2h-2zM18 14h2v2h-2zM40 14h2v2h-2zM50 14h4v2h-4zM62 14h2v2h-2zM68 14h2v2h-2zM76 14h8v2h-8zM92 14h4v2h-4zM102 14h4v2h-4zM116 14h2v2h-2zM120 14h2v2h-2zM16 16h2v2h-2zM26 16h2v2h-2zM30 16h2v2h-2zM34 16h4v2h-4zM40 16h2v2h-2zM58 16h2v2h-2zM72 16h2v2h-2zM80 16h2v2h-2zM90 16h2v2h-2zM104 16h2v2h-2zM120 16h2v2h-2zM8 18h2v2h-2zM12 18h2v2h-2zM16 18h2v2h-2zM26 18h2v2h-2zM52 18h2v2h-2zM70 18h4v2h-4zM80 18h2v2h-2zM88 18h2v2h-2zM114 18h2v2h-2zM120 18h2v2h-2zM4 20h4v2h-4zM22 20h2v2h-2zM34 20h2v2h-2zM48 20h2v2h-2zM60 20h2v2h-2zM78 20h2v2h-2zM90 20h6v2h-6zM124 20h4v2h-4zM26 22h2v2h-2zM32 22h2v2h-2zM54 22h2v2h-2zM58 22h2v2h-2zM68 22h2v2h-2zM74 22h2v2h-2zM86 22h4v2h-4zM98 22h2v2h-2zM104 22h2v2h-2zM108 22h2v2h-2zM126 22h2v2h-2zM22 24h2v2h-2zM30 24h2v2h-2zM38 24h4v2h-4zM46 24h2v2h-2zM56 24h2v2h-2zM60 24h2v2h-2zM66 24h2v2h-2zM78 24h2v2h-2zM90 24h2v2h-2zM108 24h2v2h-2zM16 26h4v2h-4zM24 26h4v2h-4zM44 26h2v2h-2zM48 26h2v2h-2zM60 26h2v2h-2zM66 26h2v2h-2zM86 26h2v2h-2zM98 26h2v2h-2zM104 26h4v2h-4zM124 26h2v2h-2zM0 28h6v2h-6zM8 28h6v2h-6zM22 28h2v2h-2zM36 28h4v2h-4zM42 28h2v2h-2zM46 28h2v2h-2zM62 28h2v2h-2zM74 28h2v2h-2zM78 28h2v2h-2zM86 28h2v2h-2zM90 28h2v2h-2zM100 28h2v2h-2zM120 28h2v2h-2zM0 30h2v2h-2zM6 30h2v2h-2zM10 30h6v2h-6zM34 30h2v2h-2zM50 30h2v2h-2zM56 30h2v2h-2zM96 30h2v2h-2zM102 30h4v2h-4zM118 30h2v2h-2zM126 30h2v2h-2zM2 32h4v2h-4zM8 32h4v2h-4zM20 32h4v2h-4zM34 32h2v2h-2zM52 32h2v2h-2zM80 32h2v2h-2zM84 32h4v2h-4zM90 32h2v2h-2zM96 32h2v2h-2zM100 32h4v2h-4zM108 32h2v2h-2zM118 32h4v2h-4zM0 34h2v2h-2zM22 34h2v2h-2zM32 34h2v2h-2zM36 34h2v2h-2zM54 34h2v2h-2zM92 34h4v2h-4zM100 34h4v2h-4zM112 34h2v2h-2zM12 36h2v2h-2zM22 36h2v2h-2zM42 36h2v2h-2zM48 36h2v2h-2zM56 36h2v2h-2zM60 36h2v2h-2zM68 36h2v2h-2zM84 36h4v2h-4zM98 36h4v2h-4zM112 36h4v2h-4zM120 36h2v2h-2zM2 38h2v2h-2zM6 38h2v2h-2zM14 38h2v2h-2zM18 38h2v2h-2zM22 38h4v2h-4zM32 38h2v2h-2zM40 38h4v2h-4zM54 38h4v2h-4zM60 38h4v2h-4zM66 38h2v2h-2zM70 38h2v2h-2zM84 38h4v2h-4zM98 38h2v2h-2zM114 38h2v2h-2zM122 38h2v2h-2zM0 40h2v2h-2zM8 40h2v2h-2zM12 40h2v2h-2zM24 40h2v2h-2zM62 40h4v2h-4zM76 40h2v2h-2zM80 40h2v2h-2zM86 40h4v2h-4zM98 40h6v2h-6zM114 40h2v2h-2zM18 42h2v2h-2zM32 42h2v2h-2zM38 42h2v2h-2zM52 42h2v2h-2zM58 42h2v2h-2zM62 42h2v2h-2zM78 42h2v2h-2zM90 42h2v2h-2zM108 42h2v2h-2zM112 42h2v2h-2zM124 42h2v2h-2zM22 44h6v2h-6zM34 44h2v2h-2zM38 44h2v2h-2zM58 44h2v2h-2zM66 44h2v2h-2zM70 44h2v2h-2zM74 44h2v2h-2zM78 44h4v2h-4zM88 44h2v2h-2zM104 44h2v2h-2zM114 44h2v2h-2zM124 44h2v2h-2zM2 46h2v2h-2zM6 46h2v2h-2zM16 46h2v2h-2zM24 46h2v2h-2zM32 46h2v2h-2zM42 46h4v2h-4zM52 46h4v2h-4zM62 46h2v2h-2zM66 46h2v2h-2zM70 46h4v2h-4zM92 46h2v2h-2zM100 46h4v2h-4zM106 46h4v2h-4zM116 46h4v2h-4zM126 46h2v2h-2zM4 48h2v2h-2zM10 48h6v2h-6zM26 48h2v2h-2zM40 48h2v2h-2zM52 48h2v2h-2zM68 48h2v2h-2zM72 48h2v2h-2zM86 48h2v2h-2zM96 48h2v2h-2zM108 48h8v2h-8zM122 48h6v2h-6zM2 50h4v2h-4zM8 50h2v2h-2zM16 50h4v2h-4zM26 50h2v2h-2zM30 50h2v2h-2zM64 50h4v2h-4zM86 50h2v2h-2zM98 50h4v2h-4zM106 50h4v2h-4zM112 50h2v2h-2zM10 52h2v2h-2zM14 52h2v2h-2zM18 52h2v2h-2zM22 52h2v2h-2zM28 52h4v2h-4zM36 52h2v2h-2zM44 52h2v2h-2zM64 52h2v2h-2zM72 52h2v2h-2zM98 52h2v2h-2zM106 52h2v2h-2zM112 52h2v2h-2zM120 52h2v2h-2zM26 54h2v2h-2zM42 54h2v2h-2zM50 54h2v2h-2zM62 54h2v2h-2zM88 54h2v2h-2zM94 54h2v2h-2zM98 54h2v2h-2zM102 54h4v2h-4zM110 54h2v2h-2zM120 54h2v2h-2zM126 54h2v2h-2zM6 56h2v2h-2zM24 56h2v2h-2zM36 56h2v2h-2zM48 56h8v2h-8zM60 56h2v2h-2zM72 56h2v2h-2zM76 56h2v2h-2zM80 56h2v2h-2zM90 56h2v2h-2zM100 56h2v2h-2zM112 56h2v2h-2zM120 56h4v2h-4zM0 58h6v2h-6zM18 58h4v2h-4zM32 58h2v2h-2zM38 58h4v2h-4zM44 58h2v2h-2zM50 58h2v2h-2zM54 58h2v2h-2zM78 58h10v2h-10zM106 58h2v2h-2zM110 58h4v2h-4zM118 58h2v2h-2zM124 58h2v2h-2zM6 60h2v2h-2zM10 60h4v2h-4zM26 60h2v2h-2zM30 60h2v2h-2zM34 60h2v2h-2zM40 60h2v2h-2zM48 60h2v2h-2zM72 60h2v2h-2zM78 60h4v2h-4zM92 60h2v2h-2zM100 60h2v2h-2zM112 60h2v2h-2zM116 60h2v2h-2zM120 60h2v2h-2zM124 60h4v2h-4zM0 62h4v2h-4zM14 62h6v2h-6zM24 62h2v2h-2zM34 62h2v2h-2zM52 62h2v2h-2zM66 62h2v2h-2zM80 62h2v2h-2zM88 62h2v2h-2zM100 62h2v2h-2zM104 62h2v2h-2zM108 62h2v2h-2zM122 62h2v2h-2zM26 64h2v2h-2zM34 64h2v2h-2zM42 64h2v2h-2zM48 64h2v2h-2zM52 64h2v2h-2zM62 64h2v2h-2zM80 64h2v2h-2zM86 64h4v2h-4zM94 64h2v2h-2zM98 64h4v2h-4zM122 64h2v2h-2zM10 66h2v2h-2zM20 66h2v2h-2zM30 66h2v2h-2zM44 66h2v2h-2zM50 66h2v2h-2zM56 66h2v2h-2zM66 66h2v2h-2zM74 66h4v2h-4zM102 66h2v2h-2zM110 66h2v2h-2zM32 68h2v2h-2zM68 68h2v2h-2zM96 68h2v2h-2zM100 68h2v2h-2zM114 68h2v2h-2zM122 68h2v2h-2zM2 70h6v2h-6zM14 70h2v2h-2zM42 70h2v2h-2zM60 70h2v2h-2zM68 70h4v2h-4zM80 70h2v2h-2zM92 70h2v2h-2zM100 70h2v2h-2zM104 70h2v2h-2zM110 70h2v2h-2zM118 70h2v2h-2zM10 72h2v2h-2zM18 72h2v2h-2zM22 72h2v2h-2zM26 72h2v2h-2zM32 72h2v2h-2zM42 72h4v2h-4zM56 72h2v2h-2zM66 72h2v2h-2zM90 72h2v2h-2zM94 72h2v2h-2zM98 72h2v2h-2zM106 72h2v2h-2zM112 72h2v2h-2zM120 72h2v2h-2zM20 74h4v2h-4zM34 74h2v2h-2zM38 74h2v2h-2zM54 74h2v2h-2zM64 74h2v2h-2zM122 74h2v2h-2zM126 74h2v2h-2zM2 76h2v2h-2zM6 76h2v2h-2zM12 76h2v2h-2zM18 76h4v2h-4zM32 76h2v2h-2zM38 76h6v2h-6zM54 76h2v2h-2zM64 76h2v2h-2zM76 76h2v2h-2zM90 76h6v2h-6zM102 76h4v2h-4zM108 76h2v2h-2zM116 76h2v2h-2zM2 78h2v2h-2zM10 78h2v2h-2zM26 78h2v2h-2zM34 78h2v2h-2zM82 78h2v2h-2zM88 78h2v2h-2zM92 78h2v2h-2zM118 78h2v2h-2zM0 80h2v2h-2zM38 80h4v2h-4zM44 80h2v2h-2zM66 80h2v2h-2zM72 80h2v2h-2zM94 80h6v2h-6zM118 80h2v2h-2zM8 82h4v2h-4zM16 82h2v2h-2zM28 82h2v2h-2zM32 82h4v2h-4zM46 82h2v2h-2zM62 82h2v2h-2zM82 82h2v2h-2zM90 82h4v2h-4zM108 82h2v2h-2zM8 84h4v2h-4zM20 84h2v2h-2zM24 84h6v2h-6zM32 84h2v2h-2zM38 84h2v2h-2zM42 84h2v2h-2zM46 84h2v2h-2zM52 84h2v2h-2zM56 84h2v2h-2zM62 84h4v2h-4zM72 84h6v2h-6zM88 84h4v2h-4zM98 84h4v2h-4zM108 84h2v2h-2zM122 84h2v2h-2zM126 84h2v2h-2zM12 86h2v2h-2zM52 86h2v2h-2zM60 86h2v2h-2zM64 86h2v2h-2zM68 86h2v2h-2zM84 86h2v2h-2zM102 86h6v2h-6zM0 88h2v2h-2zM4 88h4v2h-4zM28 88h2v2h-2zM46 88h4v2h-4zM54 88h2v2h-2zM66 88h2v2h-2zM76 88h2v2h-2zM90 88h4v2h-4zM98 88h2v2h-2zM106 88h2v2h-2zM112 88h2v2h-2zM4 90h4v2h-4zM26 90h2v2h-2zM30 90h4v2h-4zM62 90h2v2h-2zM70 90h2v2h-2zM76 90h2v2h-2zM90 90h2v2h-2zM110 90h2v2h-2zM114 90h2v2h-2zM122 90h2v2h-2zM4 92h4v2h-4zM10 92h6v2h-6zM20 92h2v2h-2zM26 92h2v2h-2zM50 92h2v2h-2zM56 92h2v2h-2zM72 92h4v2h-4zM82 92h2v2h-2zM86 92h2v2h-2zM90 92h2v2h-2zM120 92h4v2h-4zM20 94h4v2h-4zM36 94h2v2h-2zM44 94h2v2h-2zM52 94h2v2h-2zM60 94h2v2h-2zM72 94h2v2h-2zM76 94h6v2h-6zM88 94h2v2h-2zM98 94h2v2h-2zM102 94h2v2h-2zM110 94h2v2h-2zM26 96h2v2h-2zM34 96h4v2h-4zM48 96h2v2h-2zM56 96h4v2h-4zM66 96h4v2h-4zM84 96h2v2h-2zM94 96h2v2h-2zM98 96h2v2h-2zM108 96h4v2h-4zM122 96h2v2h-2zM10 98h2v2h-2zM14 98h2v2h-2zM20 98h2v2h-2zM30 98h2v2h-2zM60 98h4v2h-4zM76 98h2v2h-2zM80 98h6v2h-6zM92 98h2v2h-2zM98 98h2v2h-2zM102 98h2v2h-2zM126 98h2v2h-2zM2 100h2v2h-2zM8 100h6v2h-6zM20 100h2v2h-2zM32 100h2v2h-2zM36 100h6v2h-6zM80 100h2v2h-2zM88 100h2v2h-2zM92 100h2v2h-2zM96 100h2v2h-2zM114 100h2v2h-2zM122 100h2v2h-2zM2 102h4v2h-4zM16 102h2v2h-2zM52 102h4v2h-4zM64 102h2v2h-2zM92 102h2v2h-2zM106 102h4v2h-4zM116 102h2v2h-2zM126 102h2v2h-2zM4 104h2v2h-2zM12 104h2v2h-2zM46 104h2v2h-2zM52 104h2v2h-2zM56 104h2v2h-2zM74 104h2v2h-2zM82 104h2v2h-2zM110 104h2v2h-2zM4 106h4v2h-4zM22 106h2v2h-2zM44 106h2v2h-2zM62 106h2v2h-2zM70 106h2v2h-2zM78 106h4v2h-4zM86 106h2v2h-2zM94 106h2v2h-2zM110 106h4v2h-4zM10 108h2v2h-2zM18 108h2v2h-2zM46 108h2v2h-2zM56 108h2v2h-2zM60 108h2v2h-2zM98 108h2v2h-2zM106 108h2v2h-2zM110 108h4v2h-4zM120 108h4v2h-4zM4 110h2v2h-2zM12 110h2v2h-2zM16 110h2v2h-2zM30 110h8v2h-8zM42 110h2v2h-2zM52 110h2v2h-2zM56 110h2v2h-2zM82 110h2v2h-2zM86 110h2v2h-2zM96 110h2v2h-2zM104 110h2v2h-2zM116 110h2v2h-2zM0 112h6v2h-6zM18 112h2v2h-2zM26 112h6v2h-6zM42 112h2v2h-2zM68 112h2v2h-2zM2 114h2v2h-2zM8 114h4v2h-4zM14 114h2v2h-2zM22 114h2v2h-2zM32 114h2v2h-2zM40 114h2v2h-2zM46 114h2v2h-2zM60 114h2v2h-2zM80 114h2v2h-2zM106 114h2v2h-2zM112 114h12v2h-12zM126 114h2v2h-2zM0 116h8v2h-8zM12 116h2v2h-2zM26 116h2v2h-2zM34 116h2v2h-2zM50 116h2v2h-2zM60 116h2v2h-2zM64 116h2v2h-2zM72 116h2v2h-2zM78 116h2v2h-2zM94 116h2v2h-2zM100 116h2v2h-2zM112 116h2v2h-2zM42 118h2v2h-2zM54 118h2v2h-2zM78 118h2v2h-2zM98 118h2v2h-2zM104 118h2v2h-2zM122 118h6v2h-6zM6 120h2v2h-2zM22 120h4v2h-4zM28 120h4v2h-4zM34 120h2v2h-2zM40 120h2v2h-2zM58 120h2v2h-2zM72 120h4v2h-4zM82 120h4v2h-4zM96 120h4v2h-4zM110 120h2v2h-2zM114 120h2v2h-2zM0 122h2v2h-2zM8 122h2v2h-2zM34 122h2v2h-2zM38 122h4v2h-4zM46 122h2v2h-2zM58 122h2v2h-2zM74 122h2v2h-2zM94 122h2v2h-2zM98 122h4v2h-4zM118 122h2v2h-2zM8 124h2v2h-2zM18 124h4v2h-4zM32 124h2v2h-2zM36 124h2v2h-2zM56 124h6v2h-6zM74 124h2v2h-2zM82 124h2v2h-2zM90 124h2v2h-2zM94 124h2v2h-2zM102 124h2v2h-2zM106 124h6v2h-6zM116 124h2v2h-2zM122 124h2v2h-2zM20 126h2v2h-2zM28 126h2v2h-2zM38 126h2v2h-2zM46 126h4v2h-4zM52 126h2v2h-2zM60 126h2v2h-2zM64 126h2v2h-2zM70 126h4v2h-4zM80 126h2v2h-2zM90 126h2v2h-2zM96 126h2v2h-2zM104 126h2v2h-2zM124 126h2v2h-2z"/><path fill="rgb(178,178,178)" d="M12 0h2v2h-2zM66 0h2v2h-2zM70 0h2v2h-2zM86 0h2v2h-2zM98 2h2v2h-2zM104 2h2v2h-2zM114 2h2v2h-2zM22 4h2v2h-2zM26 4h2v2h-2zM32 4h2v2h-2zM78 4h2v2h-2zM84 4h2v2h-2zM88 4h2v2h-2zM106 4h2v2h-2zM6 6h2v2h-2zM32 6h4v2h-4zM78 6h2v2h-2zM84 6h2v2h-2zM90 6h2v2h-2zM106 6h2v2h-2zM22 8h2v2h-2zM36 8h2v2h-2zM86 8h2v2h-2zM18 10h2v2h-2zM24 10h2v2h-2zM60 10h2v2h-2zM64 10h2v2h-2zM102 10h2v2h-2zM8 12h2v2h-2zM12 12h2v2h-2zM16 12h2v2h-2zM58 12h2v2h-2zM62 12h2v2h-2zM112 12h2v2h-2zM122 12h2v2h-2zM0 14h2v2h-2zM6 14h2v2h-2zM28 14h2v2h-2zM32 14h2v2h-2zM56 14h2v2h-2zM72 14h2v2h-2zM44 16h2v2h-2zM60 16h2v2h-2zM82 16h2v2h-2zM94 16h2v2h-2zM100 16h2v2h-2zM122 16h2v2h-2zM4 18h2v2h-2zM44 18h4v2h-4zM78 18h2v2h-2zM86 18h2v2h-2zM90 18h2v2h-2zM94 18h4v2h-4zM110 18h2v2h-2zM24 20h6v2h-6zM36 20h4v2h-4zM54 20h4v2h-4zM64 20h4v2h-4zM70 20h2v2h-2zM84 20h2v2h-2zM88 20h2v2h-2zM98 20h2v2h-2zM6 22h2v2h-2zM10 22h2v2h-2zM20 22h2v2h-2zM30 22h2v2h-2zM94 22h2v2h-2zM8 24h2v2h-2zM24 24h2v2h-2zM42 24h2v2h-2zM54 24h2v2h-2zM80 24h2v2h-2zM94 24h4v2h-4zM104 24h2v2h-2zM112 24h2v2h-2zM22 26h2v2h-2zM40 26h2v2h-2zM46 26h2v2h-2zM62 26h2v2h-2zM70 26h2v2h-2zM90 26h2v2h-2zM112 26h2v2h-2zM14 28h2v2h-2zM48 28h4v2h-4zM60 28h2v2h-2zM84 28h2v2h-2zM126 28h2v2h-2zM4 30h2v2h-2zM22 30h2v2h-2zM26 30h2v2h-2zM30 30h2v2h-2zM40 30h2v2h-2zM46 30h2v2h-2zM78 30h2v2h-2zM92 30h2v2h-2zM106 30h2v2h-2zM42 32h2v2h-2zM48 32h2v2h-2zM56 32h2v2h-2zM78 32h2v2h-2zM92 32h2v2h-2zM98 32h2v2h-2zM68 34h4v2h-4zM78 34h2v2h-2zM122 34h2v2h-2zM8 36h2v2h-2zM18 36h2v2h-2zM52 36h2v2h-2zM64 36h2v2h-2zM82 36h2v2h-2zM90 36h2v2h-2zM106 36h2v2h-2zM124 36h2v2h-2zM68 38h2v2h-2zM94 38h2v2h-2zM110 38h2v2h-2zM22 40h2v2h-2zM36 40h2v2h-2zM50 40h2v2h-2zM78 40h2v2h-2zM92 40h2v2h-2zM104 40h2v2h-2zM110 40h4v2h-4zM124 40h2v2h-2zM6 42h2v2h-2zM16 42h2v2h-2zM20 42h2v2h-2zM30 42h2v2h-2zM64 42h4v2h-4zM76 42h2v2h-2zM80 42h2v2h-2zM92 42h2v2h-2zM114 42h4v2h-4zM122 42h2v2h-2zM32 44h2v2h-2zM110 44h4v2h-4zM122 44h2v2h-2zM126 44h2v2h-2zM4 46h2v2h-2zM14 46h2v2h-2zM22 46h2v2h-2zM26 46h2v2h-2zM34 46h2v2h-2zM56 46h2v2h-2zM64 46h2v2h-2zM78 46h2v2h-2zM82 46h2v2h-2zM112 46h4v2h-4zM124 46h2v2h-2zM2 48h2v2h-2zM18 48h2v2h-2zM32 48h2v2h-2zM46 48h2v2h-2zM62 48h2v2h-2zM84 48h2v2h-2zM88 48h2v2h-2zM94 48h2v2h-2zM106 48h2v2h-2zM80 50h2v2h-2zM88 50h4v2h-4zM104 50h2v2h-2zM116 50h4v2h-4zM122 50h2v2h-2zM60 52h2v2h-2zM66 52h2v2h-2zM84 52h2v2h-2zM88 52h2v2h-2zM94 52h2v2h-2zM8 54h2v2h-2zM16 54h2v2h-2zM24 54h2v2h-2zM28 54h2v2h-2zM36 54h2v2h-2zM60 54h2v2h-2zM64 54h2v2h-2zM68 54h2v2h-2zM72 54h2v2h-2zM80 54h2v2h-2zM84 54h2v2h-2zM44 56h2v2h-2zM64 56h2v2h-2zM68 56h2v2h-2zM78 56h2v2h-2zM10 58h2v2h-2zM24 58h2v2h-2zM48 58h2v2h-2zM76 58h2v2h-2zM100 58h2v2h-2zM104 58h2v2h-2zM126 58h2v2h-2zM4 60h2v2h-2zM16 60h2v2h-2zM24 60h2v2h-2zM42 60h2v2h-2zM52 60h2v2h-2zM104 60h2v2h-2zM114 60h2v2h-2zM12 62h2v2h-2zM44 62h2v2h-2zM110 62h2v2h-2zM8 64h2v2h-2zM40 64h2v2h-2zM74 64h2v2h-2zM104 64h4v2h-4zM4 66h2v2h-2zM12 66h2v2h-2zM38 66h2v2h-2zM78 66h2v2h-2zM82 66h2v2h-2zM94 66h2v2h-2zM104 66h2v2h-2zM108 66h2v2h-2zM0 68h2v2h-2zM76 68h4v2h-4zM112 68h2v2h-2zM24 70h2v2h-2zM38 70h4v2h-4zM66 70h2v2h-2zM72 70h2v2h-2zM84 70h2v2h-2zM108 70h2v2h-2zM122 70h2v2h-2zM16 72h2v2h-2zM38 72h2v2h-2zM46 72h2v2h-2zM72 72h2v2h-2zM122 72h2v2h-2zM28 74h2v2h-2zM60 74h4v2h-4zM80 74h2v2h-2zM84 74h2v2h-2zM106 74h2v2h-2zM14 76h2v2h-2zM44 76h2v2h-2zM52 76h2v2h-2zM70 76h2v2h-2zM98 76h2v2h-2zM0 78h2v2h-2zM4 78h2v2h-2zM28 78h2v2h-2zM32 78h2v2h-2zM42 78h2v2h-2zM54 78h2v2h-2zM72 78h2v2h-2zM98 78h2v2h-2zM120 78h2v2h-2zM4 80h2v2h-2zM68 80h2v2h-2zM78 80h2v2h-2zM114 80h2v2h-2zM124 80h2v2h-2zM12 82h2v2h-2zM36 82h2v2h-2zM96 82h2v2h-2zM122 82h2v2h-2zM44 84h2v2h-2zM66 84h2v2h-2zM92 84h2v2h-2zM34 86h2v2h-2zM38 86h2v2h-2zM76 86h2v2h-2zM88 86h2v2h-2zM108 86h2v2h-2zM120 86h2v2h-2zM124 86h2v2h-2zM8 88h2v2h-2zM26 88h2v2h-2zM34 88h2v2h-2zM40 88h4v2h-4zM50 88h2v2h-2zM62 88h2v2h-2zM104 88h2v2h-2zM2 90h2v2h-2zM36 90h2v2h-2zM78 90h2v2h-2zM94 90h4v2h-4zM104 90h2v2h-2zM116 90h2v2h-2zM124 90h2v2h-2zM32 92h2v2h-2zM38 92h2v2h-2zM44 92h2v2h-2zM52 92h2v2h-2zM70 92h2v2h-2zM76 92h2v2h-2zM98 92h2v2h-2zM106 92h4v2h-4zM116 92h2v2h-2zM0 94h2v2h-2zM10 94h2v2h-2zM14 94h2v2h-2zM24 94h2v2h-2zM64 94h2v2h-2zM84 94h2v2h-2zM94 94h2v2h-2zM106 94h4v2h-4zM6 96h2v2h-2zM12 96h2v2h-2zM24 96h2v2h-2zM46 96h2v2h-2zM54 96h2v2h-2zM62 96h2v2h-2zM70 96h2v2h-2zM78 96h2v2h-2zM102 96h6v2h-6zM22 98h2v2h-2zM48 98h2v2h-2zM72 98h4v2h-4zM90 98h2v2h-2zM106 98h2v2h-2zM26 100h2v2h-2zM84 100h2v2h-2zM94 100h2v2h-2zM100 100h2v2h-2zM106 100h4v2h-4zM124 100h2v2h-2zM10 102h2v2h-2zM38 102h2v2h-2zM46 102h4v2h-4zM56 102h2v2h-2zM82 102h2v2h-2zM90 102h2v2h-2zM120 102h6v2h-6zM28 104h2v2h-2zM48 104h2v2h-2zM88 104h2v2h-2zM96 104h2v2h-2zM126 104h2v2h-2zM10 106h2v2h-2zM18 106h2v2h-2zM58 106h2v2h-2zM84 106h2v2h-2zM98 106h2v2h-2zM102 106h2v2h-2zM108 106h2v2h-2zM8 108h2v2h-2zM24 108h2v2h-2zM30 108h2v2h-2zM44 108h2v2h-2zM20 110h2v2h-2zM48 110h4v2h-4zM62 110h2v2h-2zM114 110h2v2h-2zM14 112h2v2h-2zM38 112h2v2h-2zM50 112h2v2h-2zM60 112h2v2h-2zM76 112h2v2h-2zM94 112h2v2h-2zM6 114h2v2h-2zM30 114h2v2h-2zM34 114h4v2h-4zM56 114h4v2h-4zM68 114h2v2h-2zM92 114h2v2h-2zM108 114h2v2h-2zM8 116h2v2h-2zM22 116h2v2h-2zM42 116h2v2h-2zM74 116h2v2h-2zM80 116h2v2h-2zM88 116h2v2h-2zM96 116h2v2h-2zM38 118h2v2h-2zM62 118h2v2h-2zM74 118h2v2h-2zM4 120h2v2h-2zM10 120h2v2h-2zM26 120h2v2h-2zM50 120h4v2h-4zM106 120h2v2h-2zM14 122h2v2h-2zM20 122h4v2h-4zM30 122h2v2h-2zM108 122h2v2h-2zM126 122h2v2h-2zM2 124h2v2h-2zM16 124h2v2h-2zM38 124h2v2h-2zM96 124h2v2h-2zM104 124h2v2h-2zM8 126h2v2h-2zM36 126h2v2h-2zM40 126h2v2h-2zM44 126h2v2h-2zM62 126h2v2h-2zM78 126h2v2h-2zM82 126h2v2h-2zM110 126h2v2h-2zM118 126h4v2h-4z"/><path fill="rgb(204,204,204)" d="M94 2h2v2h-2zM100 2h2v2h-2zM30 4h2v2h-2zM50 4h2v2h-2zM108 6h2v2h-2zM34 8h2v2h-2zM122 8h2v2h-2zM28 10h2v2h-2zM92 10h2v2h-2zM76 12h2v2h-2zM48 14h2v2h-2zM86 14h2v2h-2zM76 16h2v2h-2zM126 18h2v2h-2zM32 20h2v2h-2zM42 20h2v2h-2zM50 20h2v2h-2zM120 20h2v2h-2zM12 22h2v2h-2zM18 22h2v2h-2zM34 22h6v2h-6zM60 22h2v2h-2zM122 22h4v2h-4zM74 24h2v2h-2zM74 26h2v2h-2zM18 28h2v2h-2zM106 28h2v2h-2zM60 30h2v2h-2zM98 30h2v2h-2zM108 30h2v2h-2zM120 30h2v2h-2zM58 32h2v2h-2zM64 32h2v2h-2zM72 32h2v2h-2zM114 32h2v2h-2zM84 34h2v2h-2zM6 36h2v2h-2zM46 36h2v2h-2zM62 36h2v2h-2zM4 38h2v2h-2zM10 40h2v2h-2zM94 40h2v2h-2zM98 42h2v2h-2zM6 44h2v2h-2zM80 46h2v2h-2zM96 46h2v2h-2zM22 48h2v2h-2zM56 48h2v2h-2zM74 48h2v2h-2zM70 50h2v2h-2zM100 52h2v2h-2zM10 54h4v2h-4zM116 54h2v2h-2zM62 56h2v2h-2zM94 58h2v2h-2zM38 60h2v2h-2zM38 62h2v2h-2zM84 62h2v2h-2zM112 62h2v2h-2zM64 64h2v2h-2zM114 64h2v2h-2zM58 66h2v2h-2zM86 66h2v2h-2zM124 68h2v2h-2zM22 70h2v2h-2zM102 70h2v2h-2zM126 72h2v2h-2zM10 74h2v2h-2zM42 74h2v2h-2zM56 76h2v2h-2zM100 76h2v2h-2zM12 78h2v2h-2zM76 78h2v2h-2zM114 78h2v2h-2zM8 80h2v2h-2zM16 80h2v2h-2zM64 80h2v2h-2zM90 80h2v2h-2zM50 84h2v2h-2zM78 84h2v2h-2zM44 88h2v2h-2zM16 90h2v2h-2zM50 90h2v2h-2zM8 92h2v2h-2zM100 92h2v2h-2zM104 92h2v2h-2zM112 92h2v2h-2zM12 94h2v2h-2zM118 94h2v2h-2zM0 96h2v2h-2zM96 98h2v2h-2zM14 100h2v2h-2zM0 102h2v2h-2zM36 102h2v2h-2zM44 102h2v2h-2zM94 102h2v2h-2zM30 104h4v2h-4zM46 106h2v2h-2zM66 106h2v2h-2zM104 106h2v2h-2zM126 106h2v2h-2zM20 108h2v2h-2zM34 108h2v2h-2zM58 108h2v2h-2zM78 110h2v2h-2zM66 112h2v2h-2zM18 114h2v2h-2zM42 114h2v2h-2zM66 114h2v2h-2zM100 114h2v2h-2zM14 116h2v2h-2zM124 116h2v2h-2zM106 118h2v2h-2zM86 122h4v2h-4zM104 122h2v2h-2zM86 124h2v2h-2zM86 126h2v2h-2z"/><path fill="rgb(230,230,230)" d="M16 0h2v2h-2zM66 2h2v2h-2zM28 4h2v2h-2zM44 4h2v2h-2zM50 6h2v2h-2zM114 6h2v2h-2zM116 12h2v2h-2zM86 16h2v2h-2zM100 20h2v2h-2zM106 20h2v2h-2zM0 24h2v2h-2zM120 26h2v2h-2zM6 28h2v2h-2zM110 30h2v2h-2zM50 32h2v2h-2zM76 32h2v2h-2zM98 34h2v2h-2zM74 36h2v2h-2zM122 36h2v2h-2zM84 42h2v2h-2zM16 44h2v2h-2zM46 44h2v2h-2zM72 44h2v2h-2zM32 52h2v2h-2zM124 52h2v2h-2zM52 54h2v2h-2zM2 60h2v2h-2zM32 64h2v2h-2zM28 66h2v2h-2zM64 66h2v2h-2zM12 74h2v2h-2zM100 74h2v2h-2zM48 76h2v2h-2zM66 76h2v2h-2zM92 80h2v2h-2zM20 82h2v2h-2zM80 82h2v2h-2zM2 86h2v2h-2zM118 86h2v2h-2zM14 88h4v2h-4zM14 90h2v2h-2zM112 96h2v2h-2zM74 100h2v2h-2zM28 102h2v2h-2zM10 104h2v2h-2zM54 106h2v2h-2zM36 108h2v2h-2zM18 110h2v2h-2zM36 112h2v2h-2zM84 114h2v2h-2zM82 116h2v2h-2zM116 116h2v2h-2zM8 118h2v2h-2zM66 118h2v2h-2z"/><path fill="rgb(255,255,255)" d="M36 0h2v2h-2zM40 116h2v2h-2z"/></pattern></defs>
<defs>
<clipPath id="clipG"><rect x="548" y="87" width="632" height="462"/></clipPath>
<filter id="bigblur" x="-50%" y="-50%" width="200%" height="200%"><feGaussianBlur stdDeviation="24"/></filter>
<filter id="hugeblur" x="-50%" y="-50%" width="200%" height="200%"><feGaussianBlur stdDeviation="45"/></filter>
<filter id="midblur" x="-100%" y="-100%" width="300%" height="300%"><feGaussianBlur stdDeviation="7"/></filter>
</defs>
<rect x="540" y="79" width="647" height="476" fill="#efefef"/>
<rect x="546" y="85" width="636" height="466" fill="#000"/>
<g clip-path="url(#clipG)" style="isolation:isolate">
<defs><linearGradient id="lband" x1="0" y1="0" x2="1" y2="0"><stop offset="0" stop-color="#5c5c5c"/><stop offset="1" stop-color="#5c5c5c" stop-opacity="0"/></linearGradient><radialGradient id="blc" cx="548" cy="549" r="90" gradientUnits="userSpaceOnUse"><stop offset="0" stop-color="#8e8e8e"/><stop offset="1" stop-color="#8e8e8e" stop-opacity="0"/></radialGradient><radialGradient id="trc" cx="1180" cy="87" r="160" gradientUnits="userSpaceOnUse"><stop offset="0" stop-color="#565656"/><stop offset="1" stop-color="#565656" stop-opacity="0"/></radialGradient></defs>
<rect x="548" y="87" width="632" height="462" fill="#464646"/>
<rect x="548" y="87" width="120" height="462" fill="url(#lband)"/>
<rect x="548" y="87" width="632" height="462" fill="url(#trc)"/>
<rect x="548" y="87" width="632" height="462" fill="url(#blc)"/>
<g filter="url(#bigblur)"><path d="M852,128 L803,112 L753,118 L690,156 L671,172 L634,237 L588,352 L586,365 L589,405 L601,451 L636,514 L709,538 L757,519.5 L802,499 L822,485 L848,468 L849,450 L852,147 Z" fill="#282828"/><path d="M882,125 L931,110 L986,118 L1001,127 L1043,154 L1061,171 L1100,235 L1139,326 L1148,360 L1141,425 L1100,511 L1096,514 L1023,537 L931,497 L885,464 L884,448 L882,147 Z" fill="#282828"/><rect x="850" y="130" width="34" height="350" fill="#282828"/></g>
<ellipse cx="713" cy="209" rx="17" ry="9" transform="rotate(35 713 209)" fill="#4e4e4e" filter="url(#midblur)"/>
<ellipse cx="680" cy="264" rx="10" ry="7" transform="rotate(30 680 264)" fill="#4e4e4e" filter="url(#midblur)"/>
<ellipse cx="768" cy="146" rx="16" ry="8" transform="rotate(10 768 146)" fill="#4e4e4e" filter="url(#midblur)"/>
<ellipse cx="827" cy="356" rx="11" ry="16" transform="rotate(20 827 356)" fill="#4e4e4e" filter="url(#midblur)"/>
<ellipse cx="938" cy="367" rx="15" ry="9" transform="rotate(15 938 367)" fill="#4e4e4e" filter="url(#midblur)"/>
<ellipse cx="1000" cy="216" rx="13" ry="8" transform="rotate(-20 1000 216)" fill="#4e4e4e" filter="url(#midblur)"/>
<ellipse cx="1067" cy="367" rx="11" ry="8" transform="rotate(0 1067 367)" fill="#4e4e4e" filter="url(#midblur)"/>
<ellipse cx="978" cy="448" rx="10" ry="9" transform="rotate(0 978 448)" fill="#4e4e4e" filter="url(#midblur)"/>
<ellipse cx="1026" cy="172" rx="12" ry="8" transform="rotate(-10 1026 172)" fill="#4e4e4e" filter="url(#midblur)"/>
<ellipse cx="760" cy="300" rx="8" ry="6" transform="rotate(0 760 300)" fill="#4e4e4e" filter="url(#midblur)"/>
<rect x="548" y="87" width="632" height="462" fill="url(#npat)" style="mix-blend-mode:overlay"/>
</g>
<path d="M548 128.9h7M1180 128.9h-7M548 174.4h7M1180 174.4h-7M548 219.9h7M1180 219.9h-7M548 265.4h7M1180 265.4h-7M548 310.9h7M1180 310.9h-7M548 356.4h7M1180 356.4h-7M548 401.9h7M1180 401.9h-7M548 447.4h7M1180 447.4h-7M548 492.9h7M1180 492.9h-7M548 538.4h7M1180 538.4h-7M637.8 549v-7M637.8 87v7M728.4 549v-7M728.4 87v7M819.0 549v-7M819.0 87v7M909.6 549v-7M909.6 87v7M1000.2 549v-7M1000.2 87v7M1090.8 549v-7M1090.8 87v7" stroke="#000" stroke-width="2" fill="none"/>
<path d="M1183.5 258h3v2h-3zM1183.5 269h3v3h-3zM1183.5 304h3v2h-3zM1183.5 315h3v3h-3zM1183.5 349h3v2h-3zM1183.5 360h3v3h-3zM1183.5 395h3v2h-3zM1183.5 406h3v3h-3zM1183.5 440h3v2h-3zM1183.5 451h3v3h-3zM1183.5 486h3v2h-3zM1183.5 497h3v3h-3zM1183.5 531h3v2h-3zM1183.5 542h3v3h-3z" fill="#000"/>
<path d="M852,128 L803,112 L753,118 L690,156 L671,172 L634,237 L588,352 L586,365 L589,405 L601,451 L636,514 L709,538 L757,519.5 L802,499 L822,485 L848,468 L849,450" fill="none" stroke="#fff" stroke-width="4" stroke-dasharray="25 25" stroke-dashoffset="0"/>
<path d="M852,149.4 L849,468" fill="none" stroke="#fff" stroke-width="4" stroke-dasharray="24.5 25.4"/>
<path d="M882,125 L931,110 L986,118 L1001,127 L1043,154 L1061,171 L1100,235 L1139,326 L1148,360 L1141,425 L1100,511 L1096,514 L1023,537 L931,497 L885,464 L884,448" fill="none" stroke="#fff" stroke-width="4" stroke-dasharray="25 25" stroke-dashoffset="0"/>
<path d="M882,147.6 L884,464" fill="none" stroke="#fff" stroke-width="4" stroke-dasharray="24.3 25.5"/>
<text x="609.5" y="440.7" font-size="51.5" fill="#fff">L</text>
<text x="1092" y="440.7" font-size="50.5" fill="#fff">R</text>
<path d="M1182,294 L1295,294 L1283,267 L1357,298 L1283,329 L1295,302 L1182,302 Z" fill="#000"/>
<rect x="1354" y="79" width="647" height="476" fill="#efefef"/>
<rect x="1359" y="82" width="638" height="468" fill="#fff"/>
<rect x="1360" y="83" width="636" height="466" fill="#000"/>
<polygon points="1562.1,134.8 1573.7,124.4 1585.3,127.9 1592.3,136 1606.2,143 1610.9,148.7 1606.2,159.2 1593.5,163.1 1580.7,160.4 1569.1,152.2 1562.1,143" fill="#fff" stroke="#fff" stroke-width="2" stroke-linejoin="round"/>
<polygon points="1509.9,195.2 1520.4,187.7 1532,190.5 1542.4,203.3 1549.4,213.7 1547,220.7 1534.3,224.2 1521.5,216 1512.2,206.8" fill="#fff" stroke="#fff" stroke-width="2" stroke-linejoin="round"/>
<polygon points="1478.6,260.2 1483.2,250.9 1494.8,246.2 1506.4,250.9 1515.7,264.8 1515.7,283.4 1504.1,288 1492.5,284.5 1480.9,269.5" fill="#fff" stroke="#fff" stroke-width="2" stroke-linejoin="round"/>
<polygon points="1620.2,341.4 1631.8,329.8 1645.7,325.2 1657.3,327.5 1660.8,332.1 1660.8,376.2 1648,377.4 1636.4,371.6 1620.2,350.7" fill="#fff" stroke="#fff" stroke-width="2" stroke-linejoin="round"/>
<ellipse cx="1771.8" cy="139.2" rx="13.9" ry="13.9" fill="#fff"/>
<ellipse cx="1841.5" cy="172.7" rx="9.8" ry="13.9" fill="#fff"/>
<ellipse cx="1814.5" cy="213.1" rx="11.5" ry="11.1" fill="#fff"/>
<ellipse cx="1754.7" cy="369.5" rx="12.1" ry="12.2" fill="#fff"/>
<ellipse cx="1881.5" cy="363.8" rx="13.5" ry="14.2" fill="#fff"/>
<ellipse cx="1794.3" cy="447.4" rx="8.6" ry="8.6" fill="#fff"/>
<path d="M1997.5 258h3v2h-3zM1997.5 269h3v3h-3zM1997.5 304h3v2h-3zM1997.5 315h3v3h-3zM1997.5 349h3v2h-3zM1997.5 360h3v3h-3zM1997.5 395h3v2h-3zM1997.5 406h3v3h-3zM1997.5 440h3v2h-3zM1997.5 451h3v3h-3zM1997.5 486h3v2h-3zM1997.5 497h3v3h-3zM1997.5 531h3v2h-3zM1997.5 542h3v3h-3z" fill="#000"/>
<path d="M1666.7,124.9 L1616,108.7 L1565.3,114.7 L1547,125 L1486.3,169.5 L1457.9,214 L1400.3,356 L1403,372 L1415.3,449 L1449.8,510 L1524.8,534.4 L1593.7,506 L1636.3,481.7 L1657.5,467.7 L1662.7,463.4 L1663.2,446" fill="none" stroke="#fff" stroke-width="3.5" stroke-dasharray="25 25"/>
<path d="M1666.2,145.3 L1663.2,449.5" fill="none" stroke="#fff" stroke-width="3.5" stroke-dasharray="24.5 25.2"/>
<path d="M1697,122.8 L1745.8,106.6 L1798.5,112.7 L1859.3,151.2 L1877.5,167.4 L1903.9,210 L1962.7,356 L1956.6,421 L1946.5,445 L1912,508 L1839,532.4 L1770,506 L1727,481 L1706.4,465.7 L1699.8,462 L1699.8,446" fill="none" stroke="#fff" stroke-width="3.5" stroke-dasharray="25 25"/>
<path d="M1697,143 L1699.8,449.5" fill="none" stroke="#fff" stroke-width="3.5" stroke-dasharray="24.2 25.6"/>
<text transform="translate(34,696.5) scale(0.99,1)" font-size="77.5" font-weight="bold" fill="#231f20">c</text>
<text x="198.5" y="699.3" font-size="50.2" fill="#000">Domain overlay</text>
<text x="581" y="749.8" font-size="37.6" fill="#000">Frame no.</text>
<defs>
<clipPath id="clipHL"><path d="M308,762 L278,767 L250,783 L214,808 L194,834 L166,889 L152,931 L144,967 L142.5,1001 L160,1034 L158,1050 L180,1065 L208,1093 L247,1104 L283,1096 L325,1073 L358.5,1051 L358.5,875 L352,847 L345,815 L360,813 L361,781 L356,778 L343,781 L333,772 L316,762 Z"/></clipPath>
<clipPath id="clipHR"><path d="M386,779 L393.5,770.6 L408,769 L432,764.7 L470,766 L496.5,779.4 L517,797 L546.5,829.4 L570,867.6 L587.6,914.7 L596.5,950 L605.3,985.3 L602.4,1029.4 L587.6,1067.6 L558.2,1088.2 L523,1106 L496.5,1114.7 L458.2,1103 L414,1079.4 L387.6,1061.8 L387.6,853 L384.7,808.8 Z"/></clipPath>
<filter id="cblur" x="-50%" y="-50%" width="200%" height="200%"><feGaussianBlur stdDeviation="10"/></filter>
</defs>
<defs>
<clipPath id="clipHL"><path d="M308,762 L278,767 L250,783 L214,808 L194,834 L166,889 L152,931 L144,967 L142.5,1001 L160,1034 L158,1050 L180,1065 L208,1093 L247,1104 L283,1096 L325,1073 L358.5,1051 L358.5,875 L352,847 L345,815 L360,813 L361,781 L356,778 L343,781 L333,772 L316,762 Z"/></clipPath>
<clipPath id="clipHR"><path d="M386,779 L393.5,770.6 L408,769 L432,764.7 L470,766 L496.5,779.4 L517,797 L546.5,829.4 L570,867.6 L587.6,914.7 L596.5,950 L605.3,985.3 L602.4,1029.4 L587.6,1067.6 L558.2,1088.2 L523,1106 L496.5,1114.7 L458.2,1103 L414,1079.4 L387.6,1061.8 L387.6,853 L384.7,808.8 Z"/></clipPath>
<filter id="cblur" x="-20%" y="-20%" width="140%" height="140%"><feGaussianBlur stdDeviation="4"/></filter>
<filter id="tblur" x="-50%" y="-50%" width="200%" height="200%"><feGaussianBlur stdDeviation="10"/></filter>
<pattern id="tex" x="0" y="0" width="96" height="96" patternUnits="userSpaceOnUse"><path d="M92 10l3 5M70 5l-3 3M65 21l-2 3M47 20l-5 5M34 23l2 4M68 76l-3 5M80 62l-6 6M92 35l2 3M21 17l3 0M3 19l-2 2M63 33l0 6M85 59l-4 4M44 18l7 0M36 37l6 6M53 11l0 8M65 3l0 8M89 35l-4 7M2 44l6 6M11 64l-2 4M23 95l-2 3M2 22l-2 2M88 68l5 5M45 27l-4 6M45 74l3 3M90 62l0 6M1 6l-5 5M16 3l4 7M54 90l5 5M86 47l9 0M66 62l6 0M5 80l-3 5M5 4l6 6M67 61l3 3M8 30l2 3M95 16l-2 3M21 2l-4 4M41 74l4 4M70 88l-3 3M86 96l4 4M30 8l-5 5M30 12l2 2M67 77l-4 8M24 6l7 0M68 76l8 0M7 74l3 5M0 27l6 6M55 42l-4 7M75 2l-2 2M26 78l4 4M31 29l-3 3M65 27l-2 3M53 3l2 2M79 42l2 4M2 51l3 3M32 1l5 5M70 9l4 4M61 14l-5 5M76 11l3 3M44 42l-3 5M90 51l4 8M0 12l-4 7M5 94l2 3M23 68l-4 4M21 27l2 4M50 73l0 8M34 24l9 0M59 38l3 3M47 4l4 0M72 27l0 9M46 45l6 0" stroke="#0c1c12" stroke-width="2" fill="none"/><path d="M60 71l-4 7M63 51l6 6M62 86l-3 3M83 37l3 3M1 21l-3 3M15 77l2 3M43 13l9 0M20 21l6 6M28 92l-3 5M60 17l6 6M93 86l0 5M40 90l0 5M29 58l-2 3M68 6l0 5M46 30l-3 5M17 25l-4 7M34 39l-4 4M35 56l3 0M68 60l9 0M73 89l0 9M49 86l-3 3M10 72l0 8M4 91l0 4M49 35l0 4M89 52l0 5M29 77l-3 6M66 96l4 0M8 58l9 0M23 57l-6 6M62 14l-4 8M3 47l6 6M94 54l-3 3M10 42l-3 3M28 44l6 6M94 44l-3 5M30 26l4 4M11 79l4 4M60 48l5 0M47 49l3 5M35 75l-4 7M56 3l2 4M68 27l-3 5M69 92l4 4M56 1l0 6M31 26l2 4M62 77l-3 4M33 90l4 4M84 66l0 9M50 51l0 4M90 46l-4 6M64 40l3 6M50 90l2 4M74 61l7 0M19 56l5 5M21 66l7 0M95 94l3 3M11 93l3 5M3 45l3 5M7 20l0 7M0 39l-3 3M83 66l6 0M53 29l2 4M33 56l6 6M40 78l0 7M45 15l-4 4M92 93l0 7M79 64l0 5M54 59l-2 3M84 54l4 4M47 46l-5 5M92 88l0 7M71 29l5 0M31 94l0 6M14 2l-5 5M24 4l-3 3M1 51l-3 3M75 24l3 3M69 27l-4 4M50 83l8 0M2 12l-2 4M32 28l-4 4M34 65l6 6M3 24l6 0M85 52l-2 2M57 66l-4 8M46 88l-4 4M66 69l-6 6M80 6l-4 7M75 56l-5 5M87 14l3 5M85 93l-4 4M56 78l2 2M26 8l3 0M32 41l-2 2M67 5l6 6M59 79l3 3M95 68l4 4M59 40l2 3M20 53l-3 6M7 6l-3 6M38 60l3 0M30 58l-3 5M36 5l5 5M55 65l2 4M53 21l2 2M24 72l4 4M78 83l-4 4M17 68l7 0M55 3l4 7M57 23l-6 6" stroke="#f6ecf2" stroke-width="2" fill="none"/></pattern>
<pattern id="tex2" x="40" y="30" width="96" height="96" patternUnits="userSpaceOnUse" patternTransform="rotate(90)"><path d="M92 10l3 5M70 5l-3 3M65 21l-2 3M47 20l-5 5M34 23l2 4M68 76l-3 5M80 62l-6 6M92 35l2 3M21 17l3 0M3 19l-2 2M63 33l0 6M85 59l-4 4M44 18l7 0M36 37l6 6M53 11l0 8M65 3l0 8M89 35l-4 7M2 44l6 6M11 64l-2 4M23 95l-2 3M2 22l-2 2M88 68l5 5M45 27l-4 6M45 74l3 3M90 62l0 6M1 6l-5 5M16 3l4 7M54 90l5 5M86 47l9 0M66 62l6 0M5 80l-3 5M5 4l6 6M67 61l3 3M8 30l2 3M95 16l-2 3M21 2l-4 4M41 74l4 4M70 88l-3 3M86 96l4 4M30 8l-5 5M30 12l2 2M67 77l-4 8M24 6l7 0M68 76l8 0M7 74l3 5M0 27l6 6M55 42l-4 7M75 2l-2 2M26 78l4 4M31 29l-3 3M65 27l-2 3M53 3l2 2M79 42l2 4M2 51l3 3M32 1l5 5M70 9l4 4M61 14l-5 5M76 11l3 3M44 42l-3 5M90 51l4 8M0 12l-4 7M5 94l2 3M23 68l-4 4M21 27l2 4M50 73l0 8M34 24l9 0M59 38l3 3M47 4l4 0M72 27l0 9M46 45l6 0" stroke="#0c1c12" stroke-width="1.6" fill="none"/><path d="M60 71l-4 7M63 51l6 6M62 86l-3 3M83 37l3 3M1 21l-3 3M15 77l2 3M43 13l9 0M20 21l6 6M28 92l-3 5M60 17l6 6M93 86l0 5M40 90l0 5M29 58l-2 3M68 6l0 5M46 30l-3 5M17 25l-4 7M34 39l-4 4M35 56l3 0M68 60l9 0M73 89l0 9M49 86l-3 3M10 72l0 8M4 91l0 4M49 35l0 4M89 52l0 5M29 77l-3 6M66 96l4 0M8 58l9 0M23 57l-6 6M62 14l-4 8M3 47l6 6M94 54l-3 3M10 42l-3 3M28 44l6 6M94 44l-3 5M30 26l4 4M11 79l4 4M60 48l5 0M47 49l3 5M35 75l-4 7M56 3l2 4M68 27l-3 5M69 92l4 4M56 1l0 6M31 26l2 4M62 77l-3 4M33 90l4 4M84 66l0 9M50 51l0 4M90 46l-4 6M64 40l3 6M50 90l2 4M74 61l7 0M19 56l5 5M21 66l7 0M95 94l3 3M11 93l3 5M3 45l3 5M7 20l0 7M0 39l-3 3M83 66l6 0M53 29l2 4M33 56l6 6M40 78l0 7M45 15l-4 4M92 93l0 7M79 64l0 5M54 59l-2 3M84 54l4 4M47 46l-5 5M92 88l0 7M71 29l5 0M31 94l0 6M14 2l-5 5M24 4l-3 3M1 51l-3 3M75 24l3 3M69 27l-4 4M50 83l8 0M2 12l-2 4M32 28l-4 4M34 65l6 6M3 24l6 0M85 52l-2 2M57 66l-4 8M46 88l-4 4M66 69l-6 6M80 6l-4 7M75 56l-5 5M87 14l3 5M85 93l-4 4M56 78l2 2M26 8l3 0M32 41l-2 2M67 5l6 6M59 79l3 3M95 68l4 4M59 40l2 3M20 53l-3 6M7 6l-3 6M38 60l3 0M30 58l-3 5M36 5l5 5M55 65l2 4M53 21l2 2M24 72l4 4M78 83l-4 4M17 68l7 0M55 3l4 7M57 23l-6 6" stroke="#f0e4d8" stroke-width="2" fill="none"/></pattern>
<mask id="mtex" maskUnits="userSpaceOnUse" x="100" y="740" width="540" height="400"><g filter="url(#tblur)"><rect x="130" y="740" width="500" height="400" fill="#1a1a1a"/><rect x="300" y="770" width="60" height="190" fill="#fff"/><rect x="330" y="960" width="30" height="90" fill="#aaa"/><rect x="135" y="960" width="40" height="90" fill="#ccc"/><rect x="160" y="1050" width="170" height="60" fill="#bbb"/><rect x="270" y="755" width="80" height="35" fill="#999"/><rect x="378" y="760" width="62" height="240" fill="#fff"/><rect x="430" y="960" width="110" height="70" fill="#aaa"/><rect x="555" y="940" width="55" height="120" fill="#eee"/><rect x="385" y="1050" width="70" height="45" fill="#aaa"/></g></mask>
</defs>
<g clip-path="url(#clipHL)">
<g filter="url(#cblur)">
<rect x="306" y="746" width="9" height="9" fill="#49ab79"/><rect x="270" y="755" width="9" height="9" fill="#1daa6e"/><rect x="279" y="755" width="9" height="9" fill="#2aaf68"/><rect x="288" y="755" width="9" height="9" fill="#31af68"/><rect x="297" y="755" width="9" height="9" fill="#3db06e"/><rect x="306" y="755" width="9" height="9" fill="#50af7a"/><rect x="315" y="755" width="9" height="9" fill="#58aa84"/><rect x="324" y="755" width="9" height="9" fill="#4a9e86"/><rect x="252" y="764" width="9" height="9" fill="#0c918d"/><rect x="261" y="764" width="9" height="9" fill="#0c9a82"/><rect x="270" y="764" width="9" height="9" fill="#15b065"/><rect x="279" y="764" width="9" height="9" fill="#2ab064"/><rect x="288" y="764" width="9" height="9" fill="#2db065"/><rect x="297" y="764" width="9" height="9" fill="#3db16d"/><rect x="306" y="764" width="9" height="9" fill="#60b280"/><rect x="315" y="764" width="9" height="9" fill="#6daf8b"/><rect x="324" y="764" width="9" height="9" fill="#50a08a"/><rect x="333" y="764" width="9" height="9" fill="#258b83"/><rect x="342" y="764" width="9" height="9" fill="#168481"/><rect x="351" y="764" width="9" height="9" fill="#148381"/><rect x="243" y="773" width="9" height="9" fill="#0e928b"/><rect x="252" y="773" width="9" height="9" fill="#0b908f"/><rect x="261" y="773" width="9" height="9" fill="#09a474"/><rect x="270" y="773" width="9" height="9" fill="#06bd52"/><rect x="279" y="773" width="9" height="9" fill="#28b163"/><rect x="288" y="773" width="9" height="9" fill="#2eb065"/><rect x="297" y="773" width="9" height="9" fill="#5bb379"/><rect x="306" y="773" width="9" height="9" fill="#80b78d"/><rect x="315" y="773" width="9" height="9" fill="#8bba95"/><rect x="324" y="773" width="9" height="9" fill="#65a88f"/><rect x="333" y="773" width="9" height="9" fill="#188481"/><rect x="342" y="773" width="9" height="9" fill="#0f8080"/><rect x="351" y="773" width="9" height="9" fill="#0e8180"/><rect x="225" y="782" width="9" height="9" fill="#2a9976"/><rect x="234" y="782" width="9" height="9" fill="#279976"/><rect x="243" y="782" width="9" height="9" fill="#1b977e"/><rect x="252" y="782" width="9" height="9" fill="#0d9982"/><rect x="261" y="782" width="9" height="9" fill="#05b859"/><rect x="270" y="782" width="9" height="9" fill="#04bf50"/><rect x="279" y="782" width="9" height="9" fill="#28b762"/><rect x="288" y="782" width="9" height="9" fill="#76b585"/><rect x="297" y="782" width="9" height="9" fill="#92b791"/><rect x="306" y="782" width="9" height="9" fill="#92bb95"/><rect x="315" y="782" width="9" height="9" fill="#99bf99"/><rect x="324" y="782" width="9" height="9" fill="#84b696"/><rect x="333" y="782" width="9" height="9" fill="#148381"/><rect x="342" y="782" width="9" height="9" fill="#0e8080"/><rect x="351" y="782" width="9" height="9" fill="#098080"/><rect x="360" y="782" width="9" height="9" fill="#098180"/><rect x="216" y="791" width="9" height="9" fill="#33967b"/><rect x="225" y="791" width="9" height="9" fill="#299975"/><rect x="234" y="791" width="9" height="9" fill="#289974"/><rect x="243" y="791" width="9" height="9" fill="#279a75"/><rect x="252" y="791" width="9" height="9" fill="#1aa173"/><rect x="261" y="791" width="9" height="9" fill="#0fb35f"/><rect x="270" y="791" width="9" height="9" fill="#12b95a"/><rect x="279" y="791" width="9" height="9" fill="#45b571"/><rect x="288" y="791" width="9" height="9" fill="#89b68e"/><rect x="297" y="791" width="9" height="9" fill="#92b791"/><rect x="306" y="791" width="9" height="9" fill="#93ba95"/><rect x="315" y="791" width="9" height="9" fill="#98bf99"/><rect x="324" y="791" width="9" height="9" fill="#83b595"/><rect x="333" y="791" width="9" height="9" fill="#148682"/><rect x="342" y="791" width="9" height="9" fill="#008080"/><rect x="351" y="791" width="9" height="9" fill="#008080"/><rect x="360" y="791" width="9" height="9" fill="#048180"/><rect x="207" y="800" width="9" height="9" fill="#61848e"/><rect x="216" y="800" width="9" height="9" fill="#37947f"/><rect x="225" y="800" width="9" height="9" fill="#2a997a"/><rect x="234" y="800" width="9" height="9" fill="#299976"/><rect x="243" y="800" width="9" height="9" fill="#2b9976"/><rect x="252" y="800" width="9" height="9" fill="#2a9c73"/><rect x="261" y="800" width="9" height="9" fill="#28a56d"/><rect x="270" y="800" width="9" height="9" fill="#35a870"/><rect x="279" y="800" width="9" height="9" fill="#5ca581"/><rect x="288" y="800" width="9" height="9" fill="#7fab8e"/><rect x="297" y="800" width="9" height="9" fill="#8bb092"/><rect x="306" y="800" width="9" height="9" fill="#8cb394"/><rect x="315" y="800" width="9" height="9" fill="#8ab696"/><rect x="324" y="800" width="9" height="9" fill="#66a790"/><rect x="333" y="800" width="9" height="9" fill="#158783"/><rect x="342" y="800" width="9" height="9" fill="#008080"/><rect x="351" y="800" width="9" height="9" fill="#008080"/><rect x="360" y="800" width="9" height="9" fill="#058180"/><rect x="198" y="809" width="9" height="9" fill="#8a6e9b"/><rect x="207" y="809" width="9" height="9" fill="#8b6f9b"/><rect x="216" y="809" width="9" height="9" fill="#5d868d"/><rect x="225" y="809" width="9" height="9" fill="#2b997c"/><rect x="234" y="809" width="9" height="9" fill="#2d987b"/><rect x="243" y="809" width="9" height="9" fill="#349775"/><rect x="252" y="809" width="9" height="9" fill="#3a986e"/><rect x="261" y="809" width="9" height="9" fill="#449674"/><rect x="270" y="809" width="9" height="9" fill="#5d8a89"/><rect x="279" y="809" width="9" height="9" fill="#76719b"/><rect x="288" y="809" width="9" height="9" fill="#8269a2"/><rect x="297" y="809" width="9" height="9" fill="#8679a0"/><rect x="306" y="809" width="9" height="9" fill="#86939a"/><rect x="315" y="809" width="9" height="9" fill="#7d9e93"/><rect x="324" y="809" width="9" height="9" fill="#5f988b"/><rect x="333" y="809" width="9" height="9" fill="#2d8a84"/><rect x="342" y="809" width="9" height="9" fill="#108381"/><rect x="351" y="809" width="9" height="9" fill="#0c8281"/><rect x="360" y="809" width="9" height="9" fill="#138382"/><rect x="189" y="818" width="9" height="9" fill="#8d699c"/><rect x="198" y="818" width="9" height="9" fill="#91699e"/><rect x="207" y="818" width="9" height="9" fill="#99679f"/><rect x="216" y="818" width="9" height="9" fill="#98689e"/><rect x="225" y="818" width="9" height="9" fill="#63838e"/><rect x="234" y="818" width="9" height="9" fill="#459279"/><rect x="243" y="818" width="9" height="9" fill="#42995c"/><rect x="252" y="818" width="9" height="9" fill="#449a55"/><rect x="261" y="818" width="9" height="9" fill="#509069"/><rect x="270" y="818" width="9" height="9" fill="#726a94"/><rect x="279" y="818" width="9" height="9" fill="#8648ab"/><rect x="288" y="818" width="9" height="9" fill="#8941ae"/><rect x="297" y="818" width="9" height="9" fill="#8947ac"/><rect x="306" y="818" width="9" height="9" fill="#8864a0"/><rect x="315" y="818" width="9" height="9" fill="#8a848e"/><rect x="324" y="818" width="9" height="9" fill="#828b84"/><rect x="333" y="818" width="9" height="9" fill="#6a8a82"/><rect x="342" y="818" width="9" height="9" fill="#498783"/><rect x="351" y="818" width="9" height="9" fill="#388685"/><rect x="180" y="827" width="9" height="9" fill="#9d5a9d"/><rect x="189" y="827" width="9" height="9" fill="#93639d"/><rect x="198" y="827" width="9" height="9" fill="#8d679e"/><rect x="207" y="827" width="9" height="9" fill="#89679f"/><rect x="216" y="827" width="9" height="9" fill="#8b679f"/><rect x="225" y="827" width="9" height="9" fill="#7f7494"/><rect x="234" y="827" width="9" height="9" fill="#50945e"/><rect x="243" y="827" width="9" height="9" fill="#429f43"/><rect x="252" y="827" width="9" height="9" fill="#429f43"/><rect x="261" y="827" width="9" height="9" fill="#4c9655"/><rect x="270" y="827" width="9" height="9" fill="#766494"/><rect x="279" y="827" width="9" height="9" fill="#8841ae"/><rect x="288" y="827" width="9" height="9" fill="#8a3eaf"/><rect x="297" y="827" width="9" height="9" fill="#8a40ae"/><rect x="306" y="827" width="9" height="9" fill="#8f5d9d"/><rect x="315" y="827" width="9" height="9" fill="#9a7f7c"/><rect x="324" y="827" width="9" height="9" fill="#9c8375"/><rect x="333" y="827" width="9" height="9" fill="#988577"/><rect x="342" y="827" width="9" height="9" fill="#8a8981"/><rect x="351" y="827" width="9" height="9" fill="#788a8a"/><rect x="180" y="836" width="9" height="9" fill="#b1479c"/><rect x="189" y="836" width="9" height="9" fill="#a7509c"/><rect x="198" y="836" width="9" height="9" fill="#92629d"/><rect x="207" y="836" width="9" height="9" fill="#89679e"/><rect x="216" y="836" width="9" height="9" fill="#87699c"/><rect x="225" y="836" width="9" height="9" fill="#76798a"/><rect x="234" y="836" width="9" height="9" fill="#4a9851"/><rect x="243" y="836" width="9" height="9" fill="#419f42"/><rect x="252" y="836" width="9" height="9" fill="#419f42"/><rect x="261" y="836" width="9" height="9" fill="#48994f"/><rect x="270" y="836" width="9" height="9" fill="#706f8a"/><rect x="279" y="836" width="9" height="9" fill="#8646aa"/><rect x="288" y="836" width="9" height="9" fill="#8940ae"/><rect x="297" y="836" width="9" height="9" fill="#8a46ab"/><rect x="306" y="836" width="9" height="9" fill="#976d8d"/><rect x="315" y="836" width="9" height="9" fill="#9f8272"/><rect x="324" y="836" width="9" height="9" fill="#9f8371"/><rect x="333" y="836" width="9" height="9" fill="#9f8372"/><rect x="342" y="836" width="9" height="9" fill="#9e867e"/><rect x="351" y="836" width="9" height="9" fill="#9f8c92"/><rect x="171" y="845" width="9" height="9" fill="#b73f9e"/><rect x="180" y="845" width="9" height="9" fill="#bd3d9b"/><rect x="189" y="845" width="9" height="9" fill="#bc3e9a"/><rect x="198" y="845" width="9" height="9" fill="#aa4c9a"/><rect x="207" y="845" width="9" height="9" fill="#8a6197"/><rect x="216" y="845" width="9" height="9" fill="#756a8d"/><rect x="225" y="845" width="9" height="9" fill="#5e787a"/><rect x="234" y="845" width="9" height="9" fill="#498e59"/><rect x="243" y="845" width="9" height="9" fill="#439b48"/><rect x="252" y="845" width="9" height="9" fill="#439c49"/><rect x="261" y="845" width="9" height="9" fill="#4a955a"/><rect x="270" y="845" width="9" height="9" fill="#667d83"/><rect x="279" y="845" width="9" height="9" fill="#7d599e"/><rect x="288" y="845" width="9" height="9" fill="#874fa6"/><rect x="297" y="845" width="9" height="9" fill="#8e5a9f"/><rect x="306" y="845" width="9" height="9" fill="#9a7882"/><rect x="315" y="845" width="9" height="9" fill="#9f8372"/><rect x="324" y="845" width="9" height="9" fill="#a08371"/><rect x="333" y="845" width="9" height="9" fill="#a08474"/><rect x="342" y="845" width="9" height="9" fill="#ab8a8c"/><rect x="351" y="845" width="9" height="9" fill="#b891a4"/><rect x="360" y="845" width="9" height="9" fill="#ba93ab"/><rect x="171" y="854" width="9" height="9" fill="#b43ea2"/><rect x="180" y="854" width="9" height="9" fill="#bf3c9a"/><rect x="189" y="854" width="9" height="9" fill="#bf3c9a"/><rect x="198" y="854" width="9" height="9" fill="#b44299"/><rect x="207" y="854" width="9" height="9" fill="#7f588a"/><rect x="216" y="854" width="9" height="9" fill="#476371"/><rect x="225" y="854" width="9" height="9" fill="#356667"/><rect x="234" y="854" width="9" height="9" fill="#367165"/><rect x="243" y="854" width="9" height="9" fill="#3d8965"/><rect x="252" y="854" width="9" height="9" fill="#3e946b"/><rect x="261" y="854" width="9" height="9" fill="#439376"/><rect x="270" y="854" width="9" height="9" fill="#568884"/><rect x="279" y="854" width="9" height="9" fill="#6f7292"/><rect x="288" y="854" width="9" height="9" fill="#826799"/><rect x="297" y="854" width="9" height="9" fill="#926d95"/><rect x="306" y="854" width="9" height="9" fill="#9c7a85"/><rect x="315" y="854" width="9" height="9" fill="#a0817a"/><rect x="324" y="854" width="9" height="9" fill="#a28379"/><rect x="333" y="854" width="9" height="9" fill="#ab8789"/><rect x="342" y="854" width="9" height="9" fill="#c093ab"/><rect x="351" y="854" width="9" height="9" fill="#c597b3"/><rect x="360" y="854" width="9" height="9" fill="#c596b2"/><rect x="162" y="863" width="9" height="9" fill="#af3fa6"/><rect x="171" y="863" width="9" height="9" fill="#b03ea6"/><rect x="180" y="863" width="9" height="9" fill="#b73da0"/><rect x="189" y="863" width="9" height="9" fill="#bc3d9b"/><rect x="198" y="863" width="9" height="9" fill="#ac4498"/><rect x="207" y="863" width="9" height="9" fill="#60597b"/><rect x="216" y="863" width="9" height="9" fill="#2d6063"/><rect x="225" y="863" width="9" height="9" fill="#276060"/><rect x="234" y="863" width="9" height="9" fill="#2a6462"/><rect x="243" y="863" width="9" height="9" fill="#318779"/><rect x="252" y="863" width="9" height="9" fill="#319b88"/><rect x="261" y="863" width="9" height="9" fill="#349b89"/><rect x="270" y="863" width="9" height="9" fill="#43938a"/><rect x="279" y="863" width="9" height="9" fill="#63818d"/><rect x="288" y="863" width="9" height="9" fill="#827292"/><rect x="297" y="863" width="9" height="9" fill="#967294"/><rect x="306" y="863" width="9" height="9" fill="#a27892"/><rect x="315" y="863" width="9" height="9" fill="#aa7c94"/><rect x="324" y="863" width="9" height="9" fill="#b07f9b"/><rect x="333" y="863" width="9" height="9" fill="#bb88a8"/><rect x="342" y="863" width="9" height="9" fill="#c696b3"/><rect x="351" y="863" width="9" height="9" fill="#c798b5"/><rect x="360" y="863" width="9" height="9" fill="#c798b4"/><rect x="162" y="872" width="9" height="9" fill="#a842a9"/><rect x="171" y="872" width="9" height="9" fill="#ae3fa6"/><rect x="180" y="872" width="9" height="9" fill="#ae40a5"/><rect x="189" y="872" width="9" height="9" fill="#ad42a1"/><rect x="198" y="872" width="9" height="9" fill="#964b98"/><rect x="207" y="872" width="9" height="9" fill="#505b76"/><rect x="216" y="872" width="9" height="9" fill="#2b6062"/><rect x="225" y="872" width="9" height="9" fill="#276060"/><rect x="234" y="872" width="9" height="9" fill="#296463"/><rect x="243" y="872" width="9" height="9" fill="#2f9586"/><rect x="252" y="872" width="9" height="9" fill="#2e9f8c"/><rect x="261" y="872" width="9" height="9" fill="#2f9f8c"/><rect x="270" y="872" width="9" height="9" fill="#3c978c"/><rect x="279" y="872" width="9" height="9" fill="#65808c"/><rect x="288" y="872" width="9" height="9" fill="#8e6a8e"/><rect x="297" y="872" width="9" height="9" fill="#a06792"/><rect x="306" y="872" width="9" height="9" fill="#ac719d"/><rect x="315" y="872" width="9" height="9" fill="#b477a7"/><rect x="324" y="872" width="9" height="9" fill="#b777ad"/><rect x="333" y="872" width="9" height="9" fill="#b97aae"/><rect x="342" y="872" width="9" height="9" fill="#c390b3"/><rect x="351" y="872" width="9" height="9" fill="#c797b4"/><rect x="360" y="872" width="9" height="9" fill="#c697b4"/><rect x="153" y="881" width="9" height="9" fill="#7f4fae"/><rect x="162" y="881" width="9" height="9" fill="#7c50af"/><rect x="171" y="881" width="9" height="9" fill="#874cae"/><rect x="180" y="881" width="9" height="9" fill="#9846ac"/><rect x="189" y="881" width="9" height="9" fill="#9a45ab"/><rect x="198" y="881" width="9" height="9" fill="#8a4ba0"/><rect x="207" y="881" width="9" height="9" fill="#5b5882"/><rect x="216" y="881" width="9" height="9" fill="#346069"/><rect x="225" y="881" width="9" height="9" fill="#2b6264"/><rect x="234" y="881" width="9" height="9" fill="#2e6f6d"/><rect x="243" y="881" width="9" height="9" fill="#309888"/><rect x="252" y="881" width="9" height="9" fill="#2f9f8c"/><rect x="261" y="881" width="9" height="9" fill="#309e8c"/><rect x="270" y="881" width="9" height="9" fill="#47918d"/><rect x="279" y="881" width="9" height="9" fill="#866789"/><rect x="288" y="881" width="9" height="9" fill="#a74b83"/><rect x="297" y="881" width="9" height="9" fill="#ae4e89"/><rect x="306" y="881" width="9" height="9" fill="#b2669c"/><rect x="315" y="881" width="9" height="9" fill="#b775ab"/><rect x="324" y="881" width="9" height="9" fill="#b876ae"/><rect x="333" y="881" width="9" height="9" fill="#b876ae"/><rect x="342" y="881" width="9" height="9" fill="#bb7cb1"/><rect x="351" y="881" width="9" height="9" fill="#c189b3"/><rect x="360" y="881" width="9" height="9" fill="#c28eb3"/><rect x="153" y="890" width="9" height="9" fill="#7951af"/><rect x="162" y="890" width="9" height="9" fill="#7751b0"/><rect x="171" y="890" width="9" height="9" fill="#7950b0"/><rect x="180" y="890" width="9" height="9" fill="#8f44b7"/><rect x="189" y="890" width="9" height="9" fill="#963fba"/><rect x="198" y="890" width="9" height="9" fill="#9143b3"/><rect x="207" y="890" width="9" height="9" fill="#764f9b"/><rect x="216" y="890" width="9" height="9" fill="#505d7f"/><rect x="225" y="890" width="9" height="9" fill="#3e6774"/><rect x="234" y="890" width="9" height="9" fill="#3b787c"/><rect x="243" y="890" width="9" height="9" fill="#379188"/><rect x="252" y="890" width="9" height="9" fill="#35998c"/><rect x="261" y="890" width="9" height="9" fill="#40948d"/><rect x="270" y="890" width="9" height="9" fill="#77708a"/><rect x="279" y="890" width="9" height="9" fill="#af3b7b"/><rect x="288" y="890" width="9" height="9" fill="#bb2f77"/><rect x="297" y="890" width="9" height="9" fill="#ba347b"/><rect x="306" y="890" width="9" height="9" fill="#b75190"/><rect x="315" y="890" width="9" height="9" fill="#b771a9"/><rect x="324" y="890" width="9" height="9" fill="#b876af"/><rect x="333" y="890" width="9" height="9" fill="#bb79b1"/><rect x="342" y="890" width="9" height="9" fill="#bf7db5"/><rect x="351" y="890" width="9" height="9" fill="#bf7eb5"/><rect x="360" y="890" width="9" height="9" fill="#be82b4"/><rect x="153" y="899" width="9" height="9" fill="#7b50b0"/><rect x="162" y="899" width="9" height="9" fill="#7950b0"/><rect x="171" y="899" width="9" height="9" fill="#8449b5"/><rect x="180" y="899" width="9" height="9" fill="#993cbf"/><rect x="189" y="899" width="9" height="9" fill="#993cbf"/><rect x="198" y="899" width="9" height="9" fill="#973ebc"/><rect x="207" y="899" width="9" height="9" fill="#8a47ae"/><rect x="216" y="899" width="9" height="9" fill="#725499"/><rect x="225" y="899" width="9" height="9" fill="#5c638b"/><rect x="234" y="899" width="9" height="9" fill="#507289"/><rect x="243" y="899" width="9" height="9" fill="#4b818c"/><rect x="252" y="899" width="9" height="9" fill="#4f858f"/><rect x="261" y="899" width="9" height="9" fill="#6a758e"/><rect x="270" y="899" width="9" height="9" fill="#a24881"/><rect x="279" y="899" width="9" height="9" fill="#bd2c76"/><rect x="288" y="899" width="9" height="9" fill="#bf2974"/><rect x="297" y="899" width="9" height="9" fill="#bf2b75"/><rect x="306" y="899" width="9" height="9" fill="#ba3e83"/><rect x="315" y="899" width="9" height="9" fill="#b869a4"/><rect x="324" y="899" width="9" height="9" fill="#bb78b0"/><rect x="333" y="899" width="9" height="9" fill="#bf7db5"/><rect x="342" y="899" width="9" height="9" fill="#bf7db6"/><rect x="351" y="899" width="9" height="9" fill="#bf7db6"/><rect x="360" y="899" width="9" height="9" fill="#bd7fb4"/><rect x="144" y="908" width="9" height="9" fill="#8651af"/><rect x="153" y="908" width="9" height="9" fill="#8550b0"/><rect x="162" y="908" width="9" height="9" fill="#854eb2"/><rect x="171" y="908" width="9" height="9" fill="#9043b9"/><rect x="180" y="908" width="9" height="9" fill="#993cbf"/><rect x="189" y="908" width="9" height="9" fill="#993cbf"/><rect x="198" y="908" width="9" height="9" fill="#983ebd"/><rect x="207" y="908" width="9" height="9" fill="#9344b5"/><rect x="216" y="908" width="9" height="9" fill="#884caa"/><rect x="225" y="908" width="9" height="9" fill="#77589d"/><rect x="234" y="908" width="9" height="9" fill="#696696"/><rect x="243" y="908" width="9" height="9" fill="#627096"/><rect x="252" y="908" width="9" height="9" fill="#657098"/><rect x="261" y="908" width="9" height="9" fill="#796597"/><rect x="270" y="908" width="9" height="9" fill="#a34686"/><rect x="279" y="908" width="9" height="9" fill="#bc2c76"/><rect x="288" y="908" width="9" height="9" fill="#bf2974"/><rect x="297" y="908" width="9" height="9" fill="#be2a75"/><rect x="306" y="908" width="9" height="9" fill="#ba3c81"/><rect x="315" y="908" width="9" height="9" fill="#b764a0"/><rect x="324" y="908" width="9" height="9" fill="#ba78b0"/><rect x="333" y="908" width="9" height="9" fill="#bc7db5"/><rect x="342" y="908" width="9" height="9" fill="#bd7db6"/><rect x="351" y="908" width="9" height="9" fill="#bc7eb5"/><rect x="360" y="908" width="9" height="9" fill="#bb7eb4"/><rect x="144" y="917" width="9" height="9" fill="#8951af"/><rect x="153" y="917" width="9" height="9" fill="#8951af"/><rect x="162" y="917" width="9" height="9" fill="#8951b0"/><rect x="171" y="917" width="9" height="9" fill="#894cb5"/><rect x="180" y="917" width="9" height="9" fill="#9142bc"/><rect x="189" y="917" width="9" height="9" fill="#9740bd"/><rect x="198" y="917" width="9" height="9" fill="#9d40bc"/><rect x="207" y="917" width="9" height="9" fill="#9f41ba"/><rect x="216" y="917" width="9" height="9" fill="#9845b3"/><rect x="225" y="917" width="9" height="9" fill="#8a4fa7"/><rect x="234" y="917" width="9" height="9" fill="#785da0"/><rect x="243" y="917" width="9" height="9" fill="#6869a1"/><rect x="252" y="917" width="9" height="9" fill="#606fa6"/><rect x="261" y="917" width="9" height="9" fill="#606fa8"/><rect x="270" y="917" width="9" height="9" fill="#7564a0"/><rect x="279" y="917" width="9" height="9" fill="#a64287"/><rect x="288" y="917" width="9" height="9" fill="#b8317a"/><rect x="297" y="917" width="9" height="9" fill="#b8347c"/><rect x="306" y="917" width="9" height="9" fill="#b3488b"/><rect x="315" y="917" width="9" height="9" fill="#b469a4"/><rect x="324" y="917" width="9" height="9" fill="#b77ab2"/><rect x="333" y="917" width="9" height="9" fill="#b87eb7"/><rect x="342" y="917" width="9" height="9" fill="#b87fb7"/><rect x="351" y="917" width="9" height="9" fill="#b87fb6"/><rect x="360" y="917" width="9" height="9" fill="#b97fb5"/><rect x="144" y="926" width="9" height="9" fill="#8952af"/><rect x="153" y="926" width="9" height="9" fill="#8a51af"/><rect x="162" y="926" width="9" height="9" fill="#8951af"/><rect x="171" y="926" width="9" height="9" fill="#7955b4"/><rect x="180" y="926" width="9" height="9" fill="#7254ba"/><rect x="189" y="926" width="9" height="9" fill="#9644bd"/><rect x="198" y="926" width="9" height="9" fill="#aa3dbf"/><rect x="207" y="926" width="9" height="9" fill="#a93dbe"/><rect x="216" y="926" width="9" height="9" fill="#a340b7"/><rect x="225" y="926" width="9" height="9" fill="#9548ab"/><rect x="234" y="926" width="9" height="9" fill="#7f57a2"/><rect x="243" y="926" width="9" height="9" fill="#6669a6"/><rect x="252" y="926" width="9" height="9" fill="#5774ac"/><rect x="261" y="926" width="9" height="9" fill="#5376af"/><rect x="270" y="926" width="9" height="9" fill="#5475ae"/><rect x="279" y="926" width="9" height="9" fill="#6b6aa5"/><rect x="288" y="926" width="9" height="9" fill="#945696"/><rect x="297" y="926" width="9" height="9" fill="#a15091"/><rect x="306" y="926" width="9" height="9" fill="#a55d9a"/><rect x="315" y="926" width="9" height="9" fill="#af70a9"/><rect x="324" y="926" width="9" height="9" fill="#b67db4"/><rect x="333" y="926" width="9" height="9" fill="#b87fb7"/><rect x="342" y="926" width="9" height="9" fill="#b87fb7"/><rect x="351" y="926" width="9" height="9" fill="#b87fb6"/><rect x="360" y="926" width="9" height="9" fill="#b980b4"/><rect x="135" y="935" width="9" height="9" fill="#8954a9"/><rect x="144" y="935" width="9" height="9" fill="#8853ac"/><rect x="153" y="935" width="9" height="9" fill="#8853ad"/><rect x="162" y="935" width="9" height="9" fill="#8257ac"/><rect x="171" y="935" width="9" height="9" fill="#5e5eb9"/><rect x="180" y="935" width="9" height="9" fill="#5360be"/><rect x="189" y="935" width="9" height="9" fill="#8a49be"/><rect x="198" y="935" width="9" height="9" fill="#ac3cbf"/><rect x="207" y="935" width="9" height="9" fill="#ab3cbf"/><rect x="216" y="935" width="9" height="9" fill="#a63eb6"/><rect x="225" y="935" width="9" height="9" fill="#9d43a5"/><rect x="234" y="935" width="9" height="9" fill="#88509d"/><rect x="243" y="935" width="9" height="9" fill="#6866a4"/><rect x="252" y="935" width="9" height="9" fill="#5574ad"/><rect x="261" y="935" width="9" height="9" fill="#5177af"/><rect x="270" y="935" width="9" height="9" fill="#5277af"/><rect x="279" y="935" width="9" height="9" fill="#5b72ab"/><rect x="288" y="935" width="9" height="9" fill="#7667a1"/><rect x="297" y="935" width="9" height="9" fill="#84649e"/><rect x="306" y="935" width="9" height="9" fill="#9167a1"/><rect x="315" y="935" width="9" height="9" fill="#a772aa"/><rect x="324" y="935" width="9" height="9" fill="#b67db2"/><rect x="333" y="935" width="9" height="9" fill="#b980b4"/><rect x="342" y="935" width="9" height="9" fill="#ba82b3"/><rect x="351" y="935" width="9" height="9" fill="#bc84b0"/><rect x="360" y="935" width="9" height="9" fill="#bc83b0"/><rect x="135" y="944" width="9" height="9" fill="#8c56a3"/><rect x="144" y="944" width="9" height="9" fill="#8858a4"/><rect x="153" y="944" width="9" height="9" fill="#855ca1"/><rect x="162" y="944" width="9" height="9" fill="#845da0"/><rect x="171" y="944" width="9" height="9" fill="#615fb5"/><rect x="180" y="944" width="9" height="9" fill="#5061bf"/><rect x="189" y="944" width="9" height="9" fill="#6c56bb"/><rect x="198" y="944" width="9" height="9" fill="#a53fbc"/><rect x="207" y="944" width="9" height="9" fill="#a93db8"/><rect x="216" y="944" width="9" height="9" fill="#a93aa4"/><rect x="225" y="944" width="9" height="9" fill="#a43994"/><rect x="234" y="944" width="9" height="9" fill="#98428e"/><rect x="243" y="944" width="9" height="9" fill="#7b5897"/><rect x="252" y="944" width="9" height="9" fill="#5b6fa8"/><rect x="261" y="944" width="9" height="9" fill="#5375ae"/><rect x="270" y="944" width="9" height="9" fill="#5475ad"/><rect x="279" y="944" width="9" height="9" fill="#656da5"/><rect x="288" y="944" width="9" height="9" fill="#7767a0"/><rect x="297" y="944" width="9" height="9" fill="#7b67a0"/><rect x="306" y="944" width="9" height="9" fill="#8267a1"/><rect x="315" y="944" width="9" height="9" fill="#9c6ea7"/><rect x="324" y="944" width="9" height="9" fill="#b57bae"/><rect x="333" y="944" width="9" height="9" fill="#bd83ae"/><rect x="342" y="944" width="9" height="9" fill="#bf87ad"/><rect x="351" y="944" width="9" height="9" fill="#bf87ad"/><rect x="360" y="944" width="9" height="9" fill="#be85ae"/><rect x="135" y="953" width="9" height="9" fill="#96569b"/><rect x="144" y="953" width="9" height="9" fill="#8e599d"/><rect x="153" y="953" width="9" height="9" fill="#865c9f"/><rect x="162" y="953" width="9" height="9" fill="#855d9f"/><rect x="171" y="953" width="9" height="9" fill="#785b9e"/><rect x="180" y="953" width="9" height="9" fill="#6b589c"/><rect x="189" y="953" width="9" height="9" fill="#7354a0"/><rect x="198" y="953" width="9" height="9" fill="#9544a4"/><rect x="207" y="953" width="9" height="9" fill="#aa3394"/><rect x="216" y="953" width="9" height="9" fill="#ae2e8c"/><rect x="225" y="953" width="9" height="9" fill="#ab2e86"/><rect x="234" y="953" width="9" height="9" fill="#a62f78"/><rect x="243" y="953" width="9" height="9" fill="#983b7b"/><rect x="252" y="953" width="9" height="9" fill="#72578f"/><rect x="261" y="953" width="9" height="9" fill="#59689a"/><rect x="270" y="953" width="9" height="9" fill="#5b6a9d"/><rect x="279" y="953" width="9" height="9" fill="#72679e"/><rect x="288" y="953" width="9" height="9" fill="#7a679f"/><rect x="297" y="953" width="9" height="9" fill="#7a679f"/><rect x="306" y="953" width="9" height="9" fill="#7d67a0"/><rect x="315" y="953" width="9" height="9" fill="#9468a5"/><rect x="324" y="953" width="9" height="9" fill="#b26fac"/><rect x="333" y="953" width="9" height="9" fill="#bd7dad"/><rect x="342" y="953" width="9" height="9" fill="#bf85ad"/><rect x="351" y="953" width="9" height="9" fill="#bf85ad"/><rect x="360" y="953" width="9" height="9" fill="#be82ad"/><rect x="135" y="962" width="9" height="9" fill="#a35091"/><rect x="144" y="962" width="9" height="9" fill="#a35091"/><rect x="153" y="962" width="9" height="9" fill="#995596"/><rect x="162" y="962" width="9" height="9" fill="#885897"/><rect x="171" y="962" width="9" height="9" fill="#7a5484"/><rect x="180" y="962" width="9" height="9" fill="#785380"/><rect x="189" y="962" width="9" height="9" fill="#7b5286"/><rect x="198" y="962" width="9" height="9" fill="#994091"/><rect x="207" y="962" width="9" height="9" fill="#ae2d8a"/><rect x="216" y="962" width="9" height="9" fill="#af2b8a"/><rect x="225" y="962" width="9" height="9" fill="#ae2a7f"/><rect x="234" y="962" width="9" height="9" fill="#ae2467"/><rect x="243" y="962" width="9" height="9" fill="#a82869"/><rect x="252" y="962" width="9" height="9" fill="#794779"/><rect x="261" y="962" width="9" height="9" fill="#415a7a"/><rect x="270" y="962" width="9" height="9" fill="#415f80"/><rect x="279" y="962" width="9" height="9" fill="#6a6597"/><rect x="288" y="962" width="9" height="9" fill="#79679f"/><rect x="297" y="962" width="9" height="9" fill="#7a679f"/><rect x="306" y="962" width="9" height="9" fill="#7d66a0"/><rect x="315" y="962" width="9" height="9" fill="#985ea6"/><rect x="324" y="962" width="9" height="9" fill="#b652ac"/><rect x="333" y="962" width="9" height="9" fill="#bd52ad"/><rect x="342" y="962" width="9" height="9" fill="#be62ad"/><rect x="351" y="962" width="9" height="9" fill="#be71ad"/><rect x="360" y="962" width="9" height="9" fill="#bc74ad"/><rect x="135" y="971" width="9" height="9" fill="#aa4d8c"/><rect x="144" y="971" width="9" height="9" fill="#ad4a8a"/><rect x="153" y="971" width="9" height="9" fill="#ae498a"/><rect x="162" y="971" width="9" height="9" fill="#9d4f8c"/><rect x="171" y="971" width="9" height="9" fill="#7d5384"/><rect x="180" y="971" width="9" height="9" fill="#795381"/><rect x="189" y="971" width="9" height="9" fill="#7e5185"/><rect x="198" y="971" width="9" height="9" fill="#99408c"/><rect x="207" y="971" width="9" height="9" fill="#ad2e8a"/><rect x="216" y="971" width="9" height="9" fill="#af2c89"/><rect x="225" y="971" width="9" height="9" fill="#ae2772"/><rect x="234" y="971" width="9" height="9" fill="#af2264"/><rect x="243" y="971" width="9" height="9" fill="#ac2466"/><rect x="252" y="971" width="9" height="9" fill="#5d4d73"/><rect x="261" y="971" width="9" height="9" fill="#275c70"/><rect x="270" y="971" width="9" height="9" fill="#275d71"/><rect x="279" y="971" width="9" height="9" fill="#435f81"/><rect x="288" y="971" width="9" height="9" fill="#6e6599"/><rect x="297" y="971" width="9" height="9" fill="#77659e"/><rect x="306" y="971" width="9" height="9" fill="#8261a1"/><rect x="315" y="971" width="9" height="9" fill="#a651aa"/><rect x="324" y="971" width="9" height="9" fill="#bc40ac"/><rect x="333" y="971" width="9" height="9" fill="#bf3cad"/><rect x="342" y="971" width="9" height="9" fill="#bf3ead"/><rect x="351" y="971" width="9" height="9" fill="#bd49ad"/><rect x="360" y="971" width="9" height="9" fill="#bb5aad"/><rect x="135" y="980" width="9" height="9" fill="#a94f8b"/><rect x="144" y="980" width="9" height="9" fill="#ab4e8b"/><rect x="153" y="980" width="9" height="9" fill="#ae498a"/><rect x="162" y="980" width="9" height="9" fill="#a84c8b"/><rect x="171" y="980" width="9" height="9" fill="#8f528a"/><rect x="180" y="980" width="9" height="9" fill="#835387"/><rect x="189" y="980" width="9" height="9" fill="#88528a"/><rect x="198" y="980" width="9" height="9" fill="#98498e"/><rect x="207" y="980" width="9" height="9" fill="#a33e8d"/><rect x="216" y="980" width="9" height="9" fill="#a43c8a"/><rect x="225" y="980" width="9" height="9" fill="#a73378"/><rect x="234" y="980" width="9" height="9" fill="#ac2769"/><rect x="243" y="980" width="9" height="9" fill="#a12d6b"/><rect x="252" y="980" width="9" height="9" fill="#455472"/><rect x="261" y="980" width="9" height="9" fill="#255c70"/><rect x="270" y="980" width="9" height="9" fill="#255d70"/><rect x="279" y="980" width="9" height="9" fill="#325d78"/><rect x="288" y="980" width="9" height="9" fill="#556090"/><rect x="297" y="980" width="9" height="9" fill="#6c5f9d"/><rect x="306" y="980" width="9" height="9" fill="#8359a5"/><rect x="315" y="980" width="9" height="9" fill="#aa4aac"/><rect x="324" y="980" width="9" height="9" fill="#bd3ead"/><rect x="333" y="980" width="9" height="9" fill="#bf3bad"/><rect x="342" y="980" width="9" height="9" fill="#bf3cad"/><rect x="351" y="980" width="9" height="9" fill="#bd40ad"/><rect x="360" y="980" width="9" height="9" fill="#b94cad"/><rect x="135" y="989" width="9" height="9" fill="#a8518b"/><rect x="144" y="989" width="9" height="9" fill="#a8528b"/><rect x="153" y="989" width="9" height="9" fill="#a9508b"/><rect x="162" y="989" width="9" height="9" fill="#a74f8b"/><rect x="171" y="989" width="9" height="9" fill="#9b528c"/><rect x="180" y="989" width="9" height="9" fill="#93578d"/><rect x="189" y="989" width="9" height="9" fill="#95598e"/><rect x="198" y="989" width="9" height="9" fill="#985892"/><rect x="207" y="989" width="9" height="9" fill="#965b98"/><rect x="216" y="989" width="9" height="9" fill="#91619c"/><rect x="225" y="989" width="9" height="9" fill="#91609a"/><rect x="234" y="989" width="9" height="9" fill="#984e8a"/><rect x="243" y="989" width="9" height="9" fill="#8a477d"/><rect x="252" y="989" width="9" height="9" fill="#4c5677"/><rect x="261" y="989" width="9" height="9" fill="#2c5c72"/><rect x="270" y="989" width="9" height="9" fill="#2b5d74"/><rect x="279" y="989" width="9" height="9" fill="#375d82"/><rect x="288" y="989" width="9" height="9" fill="#4a5b9b"/><rect x="297" y="989" width="9" height="9" fill="#5858a8"/><rect x="306" y="989" width="9" height="9" fill="#7155ac"/><rect x="315" y="989" width="9" height="9" fill="#9b4cad"/><rect x="324" y="989" width="9" height="9" fill="#b741ad"/><rect x="333" y="989" width="9" height="9" fill="#bd3dad"/><rect x="342" y="989" width="9" height="9" fill="#bd3ead"/><rect x="351" y="989" width="9" height="9" fill="#ba42ad"/><rect x="360" y="989" width="9" height="9" fill="#b44bae"/><rect x="135" y="998" width="9" height="9" fill="#a8518c"/><rect x="144" y="998" width="9" height="9" fill="#a8518b"/><rect x="153" y="998" width="9" height="9" fill="#a8518b"/><rect x="162" y="998" width="9" height="9" fill="#a5528c"/><rect x="171" y="998" width="9" height="9" fill="#9e578d"/><rect x="180" y="998" width="9" height="9" fill="#9c5f8e"/><rect x="189" y="998" width="9" height="9" fill="#9d638e"/><rect x="198" y="998" width="9" height="9" fill="#9c6390"/><rect x="207" y="998" width="9" height="9" fill="#93649a"/><rect x="216" y="998" width="9" height="9" fill="#8d669f"/><rect x="225" y="998" width="9" height="9" fill="#8d679f"/><rect x="234" y="998" width="9" height="9" fill="#8f629b"/><rect x="243" y="998" width="9" height="9" fill="#87588d"/><rect x="252" y="998" width="9" height="9" fill="#615b82"/><rect x="261" y="998" width="9" height="9" fill="#44617f"/><rect x="270" y="998" width="9" height="9" fill="#3d6387"/><rect x="279" y="998" width="9" height="9" fill="#405da0"/><rect x="288" y="998" width="9" height="9" fill="#4154b5"/><rect x="297" y="998" width="9" height="9" fill="#4452b9"/><rect x="306" y="998" width="9" height="9" fill="#5753b5"/><rect x="315" y="998" width="9" height="9" fill="#7e50b1"/><rect x="324" y="998" width="9" height="9" fill="#9f4baf"/><rect x="333" y="998" width="9" height="9" fill="#af47af"/><rect x="342" y="998" width="9" height="9" fill="#b146af"/><rect x="351" y="998" width="9" height="9" fill="#ae49af"/><rect x="360" y="998" width="9" height="9" fill="#a84eae"/><rect x="135" y="1007" width="9" height="9" fill="#a6528c"/><rect x="144" y="1007" width="9" height="9" fill="#a6528c"/><rect x="153" y="1007" width="9" height="9" fill="#a4538c"/><rect x="162" y="1007" width="9" height="9" fill="#a1568d"/><rect x="171" y="1007" width="9" height="9" fill="#9e5d8d"/><rect x="180" y="1007" width="9" height="9" fill="#9f648d"/><rect x="189" y="1007" width="9" height="9" fill="#9f678d"/><rect x="198" y="1007" width="9" height="9" fill="#9f668d"/><rect x="207" y="1007" width="9" height="9" fill="#996495"/><rect x="216" y="1007" width="9" height="9" fill="#8f659e"/><rect x="225" y="1007" width="9" height="9" fill="#8f659e"/><rect x="234" y="1007" width="9" height="9" fill="#965c98"/><rect x="243" y="1007" width="9" height="9" fill="#90588f"/><rect x="252" y="1007" width="9" height="9" fill="#6e668a"/><rect x="261" y="1007" width="9" height="9" fill="#4d7889"/><rect x="270" y="1007" width="9" height="9" fill="#407a93"/><rect x="279" y="1007" width="9" height="9" fill="#3e5faf"/><rect x="288" y="1007" width="9" height="9" fill="#3c50be"/><rect x="297" y="1007" width="9" height="9" fill="#3d4fbf"/><rect x="306" y="1007" width="9" height="9" fill="#4b51bb"/><rect x="315" y="1007" width="9" height="9" fill="#7852b3"/><rect x="324" y="1007" width="9" height="9" fill="#9051b0"/><rect x="333" y="1007" width="9" height="9" fill="#9650b0"/><rect x="342" y="1007" width="9" height="9" fill="#984faf"/><rect x="351" y="1007" width="9" height="9" fill="#984faf"/><rect x="360" y="1007" width="9" height="9" fill="#9751af"/><rect x="144" y="1016" width="9" height="9" fill="#a2548d"/><rect x="153" y="1016" width="9" height="9" fill="#a0558d"/><rect x="162" y="1016" width="9" height="9" fill="#9f578d"/><rect x="171" y="1016" width="9" height="9" fill="#9f5b8d"/><rect x="180" y="1016" width="9" height="9" fill="#9f648d"/><rect x="189" y="1016" width="9" height="9" fill="#9f678d"/><rect x="198" y="1016" width="9" height="9" fill="#9f678d"/><rect x="207" y="1016" width="9" height="9" fill="#9f608e"/><rect x="216" y="1016" width="9" height="9" fill="#a54d8c"/><rect x="225" y="1016" width="9" height="9" fill="#b23a80"/><rect x="234" y="1016" width="9" height="9" fill="#b4367d"/><rect x="243" y="1016" width="9" height="9" fill="#a14784"/><rect x="252" y="1016" width="9" height="9" fill="#6c7189"/><rect x="261" y="1016" width="9" height="9" fill="#3e9283"/><rect x="270" y="1016" width="9" height="9" fill="#349882"/><rect x="279" y="1016" width="9" height="9" fill="#3a799f"/><rect x="288" y="1016" width="9" height="9" fill="#3c50be"/><rect x="297" y="1016" width="9" height="9" fill="#3c4fbf"/><rect x="306" y="1016" width="9" height="9" fill="#5351ba"/><rect x="315" y="1016" width="9" height="9" fill="#8f52b1"/><rect x="324" y="1016" width="9" height="9" fill="#9851b0"/><rect x="333" y="1016" width="9" height="9" fill="#9451b0"/><rect x="342" y="1016" width="9" height="9" fill="#8e51b0"/><rect x="351" y="1016" width="9" height="9" fill="#8d51b0"/><rect x="360" y="1016" width="9" height="9" fill="#8d52af"/><rect x="144" y="1025" width="9" height="9" fill="#9f568e"/><rect x="153" y="1025" width="9" height="9" fill="#9f558d"/><rect x="162" y="1025" width="9" height="9" fill="#9f558d"/><rect x="171" y="1025" width="9" height="9" fill="#9f558d"/><rect x="180" y="1025" width="9" height="9" fill="#9f5b8d"/><rect x="189" y="1025" width="9" height="9" fill="#9f648d"/><rect x="198" y="1025" width="9" height="9" fill="#9f648d"/><rect x="207" y="1025" width="9" height="9" fill="#a2568b"/><rect x="216" y="1025" width="9" height="9" fill="#b6357c"/><rect x="225" y="1025" width="9" height="9" fill="#bf2975"/><rect x="234" y="1025" width="9" height="9" fill="#be2a75"/><rect x="243" y="1025" width="9" height="9" fill="#ab3c7f"/><rect x="252" y="1025" width="9" height="9" fill="#687788"/><rect x="261" y="1025" width="9" height="9" fill="#349b7d"/><rect x="270" y="1025" width="9" height="9" fill="#2e9f7a"/><rect x="279" y="1025" width="9" height="9" fill="#319b80"/><rect x="288" y="1025" width="9" height="9" fill="#3d64af"/><rect x="297" y="1025" width="9" height="9" fill="#4454ba"/><rect x="306" y="1025" width="9" height="9" fill="#7453b4"/><rect x="315" y="1025" width="9" height="9" fill="#9a51b0"/><rect x="324" y="1025" width="9" height="9" fill="#9c51b0"/><rect x="333" y="1025" width="9" height="9" fill="#9351b0"/><rect x="342" y="1025" width="9" height="9" fill="#8b51b0"/><rect x="351" y="1025" width="9" height="9" fill="#8a51b0"/><rect x="360" y="1025" width="9" height="9" fill="#8a52b0"/><rect x="144" y="1034" width="9" height="9" fill="#9d578e"/><rect x="153" y="1034" width="9" height="9" fill="#9f558d"/><rect x="162" y="1034" width="9" height="9" fill="#9f548d"/><rect x="171" y="1034" width="9" height="9" fill="#9f548d"/><rect x="180" y="1034" width="9" height="9" fill="#9f558d"/><rect x="189" y="1034" width="9" height="9" fill="#9c5d8f"/><rect x="198" y="1034" width="9" height="9" fill="#996092"/><rect x="207" y="1034" width="9" height="9" fill="#9c5590"/><rect x="216" y="1034" width="9" height="9" fill="#b03a82"/><rect x="225" y="1034" width="9" height="9" fill="#bc2c78"/><rect x="234" y="1034" width="9" height="9" fill="#b6307d"/><rect x="243" y="1034" width="9" height="9" fill="#9b4891"/><rect x="252" y="1034" width="9" height="9" fill="#6a718f"/><rect x="261" y="1034" width="9" height="9" fill="#37997f"/><rect x="270" y="1034" width="9" height="9" fill="#2f9f7b"/><rect x="279" y="1034" width="9" height="9" fill="#329c7e"/><rect x="288" y="1034" width="9" height="9" fill="#418099"/><rect x="297" y="1034" width="9" height="9" fill="#5860ad"/><rect x="306" y="1034" width="9" height="9" fill="#7e54b2"/><rect x="315" y="1034" width="9" height="9" fill="#9551b1"/><rect x="324" y="1034" width="9" height="9" fill="#9851b0"/><rect x="333" y="1034" width="9" height="9" fill="#8b51b0"/><rect x="342" y="1034" width="9" height="9" fill="#8a51b0"/><rect x="351" y="1034" width="9" height="9" fill="#8a51b0"/><rect x="360" y="1034" width="9" height="9" fill="#8952b0"/><rect x="144" y="1043" width="9" height="9" fill="#9c588e"/><rect x="153" y="1043" width="9" height="9" fill="#9e568d"/><rect x="162" y="1043" width="9" height="9" fill="#9f558d"/><rect x="171" y="1043" width="9" height="9" fill="#9f548d"/><rect x="180" y="1043" width="9" height="9" fill="#9e568e"/><rect x="189" y="1043" width="9" height="9" fill="#956094"/><rect x="198" y="1043" width="9" height="9" fill="#8a659b"/><rect x="207" y="1043" width="9" height="9" fill="#89649d"/><rect x="216" y="1043" width="9" height="9" fill="#91599a"/><rect x="225" y="1043" width="9" height="9" fill="#8d4da1"/><rect x="234" y="1043" width="9" height="9" fill="#7b50ad"/><rect x="243" y="1043" width="9" height="9" fill="#7a52ab"/><rect x="252" y="1043" width="9" height="9" fill="#6d659d"/><rect x="261" y="1043" width="9" height="9" fill="#498c89"/><rect x="270" y="1043" width="9" height="9" fill="#399781"/><rect x="279" y="1043" width="9" height="9" fill="#3c9288"/><rect x="288" y="1043" width="9" height="9" fill="#4b7a9a"/><rect x="297" y="1043" width="9" height="9" fill="#5e5fab"/><rect x="306" y="1043" width="9" height="9" fill="#6f53b5"/><rect x="315" y="1043" width="9" height="9" fill="#774fbc"/><rect x="324" y="1043" width="9" height="9" fill="#774fbe"/><rect x="333" y="1043" width="9" height="9" fill="#8450b4"/><rect x="342" y="1043" width="9" height="9" fill="#8951b0"/><rect x="351" y="1043" width="9" height="9" fill="#8951b0"/><rect x="360" y="1043" width="9" height="9" fill="#8752b0"/><rect x="153" y="1052" width="9" height="9" fill="#9b598e"/><rect x="162" y="1052" width="9" height="9" fill="#9c588e"/><rect x="171" y="1052" width="9" height="9" fill="#9b598e"/><rect x="180" y="1052" width="9" height="9" fill="#946192"/><rect x="189" y="1052" width="9" height="9" fill="#856a98"/><rect x="198" y="1052" width="9" height="9" fill="#85689e"/><rect x="207" y="1052" width="9" height="9" fill="#85679f"/><rect x="216" y="1052" width="9" height="9" fill="#85659f"/><rect x="225" y="1052" width="9" height="9" fill="#7b55aa"/><rect x="234" y="1052" width="9" height="9" fill="#7751af"/><rect x="243" y="1052" width="9" height="9" fill="#7653ae"/><rect x="252" y="1052" width="9" height="9" fill="#666a9d"/><rect x="261" y="1052" width="9" height="9" fill="#468e88"/><rect x="270" y="1052" width="9" height="9" fill="#3c9383"/><rect x="279" y="1052" width="9" height="9" fill="#438b8d"/><rect x="288" y="1052" width="9" height="9" fill="#4f709e"/><rect x="297" y="1052" width="9" height="9" fill="#5759ad"/><rect x="306" y="1052" width="9" height="9" fill="#5b52b2"/><rect x="315" y="1052" width="9" height="9" fill="#714fbd"/><rect x="324" y="1052" width="9" height="9" fill="#744ebf"/><rect x="333" y="1052" width="9" height="9" fill="#784fbb"/><rect x="342" y="1052" width="9" height="9" fill="#8251b3"/><rect x="351" y="1052" width="9" height="9" fill="#8552b1"/><rect x="162" y="1061" width="9" height="9" fill="#926391"/><rect x="171" y="1061" width="9" height="9" fill="#896991"/><rect x="180" y="1061" width="9" height="9" fill="#797593"/><rect x="189" y="1061" width="9" height="9" fill="#727a94"/><rect x="198" y="1061" width="9" height="9" fill="#7d6f9b"/><rect x="207" y="1061" width="9" height="9" fill="#85679f"/><rect x="216" y="1061" width="9" height="9" fill="#84679f"/><rect x="225" y="1061" width="9" height="9" fill="#7a5ea4"/><rect x="234" y="1061" width="9" height="9" fill="#7557aa"/><rect x="243" y="1061" width="9" height="9" fill="#6d60a5"/><rect x="252" y="1061" width="9" height="9" fill="#488c8a"/><rect x="261" y="1061" width="9" height="9" fill="#319d7b"/><rect x="270" y="1061" width="9" height="9" fill="#319d7b"/><rect x="279" y="1061" width="9" height="9" fill="#3b9284"/><rect x="288" y="1061" width="9" height="9" fill="#4d739d"/><rect x="297" y="1061" width="9" height="9" fill="#5258ad"/><rect x="306" y="1061" width="9" height="9" fill="#5151af"/><rect x="315" y="1061" width="9" height="9" fill="#5751b2"/><rect x="324" y="1061" width="9" height="9" fill="#6d50bb"/><rect x="333" y="1061" width="9" height="9" fill="#7251ba"/><rect x="342" y="1061" width="9" height="9" fill="#7852b5"/><rect x="180" y="1070" width="9" height="9" fill="#698391"/><rect x="189" y="1070" width="9" height="9" fill="#648790"/><rect x="198" y="1070" width="9" height="9" fill="#648790"/><rect x="207" y="1070" width="9" height="9" fill="#727996"/><rect x="216" y="1070" width="9" height="9" fill="#777199"/><rect x="225" y="1070" width="9" height="9" fill="#687793"/><rect x="234" y="1070" width="9" height="9" fill="#5a7e8e"/><rect x="243" y="1070" width="9" height="9" fill="#4e8989"/><rect x="252" y="1070" width="9" height="9" fill="#349b7b"/><rect x="261" y="1070" width="9" height="9" fill="#2e9f7a"/><rect x="270" y="1070" width="9" height="9" fill="#2e9f79"/><rect x="279" y="1070" width="9" height="9" fill="#34977b"/><rect x="288" y="1070" width="9" height="9" fill="#4e7c9a"/><rect x="297" y="1070" width="9" height="9" fill="#536ca4"/><rect x="306" y="1070" width="9" height="9" fill="#5254ae"/><rect x="315" y="1070" width="9" height="9" fill="#5454af"/><rect x="324" y="1070" width="9" height="9" fill="#5f54b2"/><rect x="333" y="1070" width="9" height="9" fill="#6a54b4"/><rect x="189" y="1079" width="9" height="9" fill="#638890"/><rect x="198" y="1079" width="9" height="9" fill="#638890"/><rect x="207" y="1079" width="9" height="9" fill="#658590"/><rect x="216" y="1079" width="9" height="9" fill="#60868b"/><rect x="225" y="1079" width="9" height="9" fill="#409675"/><rect x="234" y="1079" width="9" height="9" fill="#349c6c"/><rect x="243" y="1079" width="9" height="9" fill="#349b6e"/><rect x="252" y="1079" width="9" height="9" fill="#309c72"/><rect x="261" y="1079" width="9" height="9" fill="#2a9f70"/><rect x="270" y="1079" width="9" height="9" fill="#209f5e"/><rect x="279" y="1079" width="9" height="9" fill="#279a64"/><rect x="288" y="1079" width="9" height="9" fill="#517c9c"/><rect x="297" y="1079" width="9" height="9" fill="#547a9f"/><rect x="306" y="1079" width="9" height="9" fill="#5372a2"/><rect x="315" y="1079" width="9" height="9" fill="#5561a9"/><rect x="198" y="1088" width="9" height="9" fill="#63878f"/><rect x="207" y="1088" width="9" height="9" fill="#61888d"/><rect x="216" y="1088" width="9" height="9" fill="#49927b"/><rect x="225" y="1088" width="9" height="9" fill="#319e69"/><rect x="234" y="1088" width="9" height="9" fill="#2e9f67"/><rect x="243" y="1088" width="9" height="9" fill="#2f9f67"/><rect x="252" y="1088" width="9" height="9" fill="#2d9d69"/><rect x="261" y="1088" width="9" height="9" fill="#209f5c"/><rect x="270" y="1088" width="9" height="9" fill="#1c9f55"/><rect x="279" y="1088" width="9" height="9" fill="#209d5a"/><rect x="288" y="1088" width="9" height="9" fill="#4c8295"/><rect x="297" y="1088" width="9" height="9" fill="#537a9f"/><rect x="306" y="1088" width="9" height="9" fill="#53779f"/><rect x="207" y="1097" width="9" height="9" fill="#5a8c87"/><rect x="216" y="1097" width="9" height="9" fill="#409774"/><rect x="225" y="1097" width="9" height="9" fill="#319e69"/><rect x="234" y="1097" width="9" height="9" fill="#2f9f67"/><rect x="243" y="1097" width="9" height="9" fill="#2f9f67"/><rect x="252" y="1097" width="9" height="9" fill="#2d9d67"/><rect x="261" y="1097" width="9" height="9" fill="#239d5e"/><rect x="270" y="1097" width="9" height="9" fill="#1f9e59"/><rect x="279" y="1097" width="9" height="9" fill="#259b61"/><rect x="288" y="1097" width="9" height="9" fill="#428b86"/><rect x="225" y="1106" width="9" height="9" fill="#349c6c"/><rect x="234" y="1106" width="9" height="9" fill="#319e69"/><rect x="243" y="1106" width="9" height="9" fill="#319d69"/><rect x="252" y="1106" width="9" height="9" fill="#309b69"/><rect x="261" y="1106" width="9" height="9" fill="#2a9b65"/>
</g>
<rect x="130" y="740" width="500" height="400" fill="url(#tex)" mask="url(#mtex)" opacity="0.65"/>
<rect x="130" y="740" width="500" height="400" fill="url(#tex2)" mask="url(#mtex)" opacity="0.4"/>
<path d="M308,762 L278,767 L250,783 L214,808 L194,834 L166,889 L152,931 L144,967 L142.5,1001 L160,1034 L158,1050 L180,1065 L208,1093 L247,1104 L283,1096 L325,1073 L358.5,1051 L358.5,875 L352,847 L345,815 L360,813 L361,781 L356,778 L343,781 L333,772 L316,762 Z" fill="none" stroke="#f4f0e0" stroke-width="3" opacity="0.6"/>
</g>
<g clip-path="url(#clipHR)">
<g filter="url(#cblur)">
<rect x="395" y="757" width="9" height="9" fill="#e8d4d8"/><rect x="404" y="757" width="9" height="9" fill="#e8cfd6"/><rect x="413" y="757" width="9" height="9" fill="#e7ccd5"/><rect x="422" y="757" width="9" height="9" fill="#e6ccd4"/><rect x="431" y="757" width="9" height="9" fill="#d9cccd"/><rect x="440" y="757" width="9" height="9" fill="#9ac1aa"/><rect x="449" y="757" width="9" height="9" fill="#42ab7b"/><rect x="458" y="757" width="9" height="9" fill="#23a26b"/><rect x="467" y="757" width="9" height="9" fill="#1ea068"/><rect x="476" y="757" width="9" height="9" fill="#1f9d69"/><rect x="386" y="766" width="9" height="9" fill="#e5e0dc"/><rect x="395" y="766" width="9" height="9" fill="#ecd5db"/><rect x="404" y="766" width="9" height="9" fill="#ecd1d9"/><rect x="413" y="766" width="9" height="9" fill="#e8cbd5"/><rect x="422" y="766" width="9" height="9" fill="#e7ccd4"/><rect x="431" y="766" width="9" height="9" fill="#dacecd"/><rect x="440" y="766" width="9" height="9" fill="#93c2a5"/><rect x="449" y="766" width="9" height="9" fill="#34a873"/><rect x="458" y="766" width="9" height="9" fill="#1da068"/><rect x="467" y="766" width="9" height="9" fill="#1ca067"/><rect x="476" y="766" width="9" height="9" fill="#1d9d68"/><rect x="485" y="766" width="9" height="9" fill="#1f936a"/><rect x="494" y="766" width="9" height="9" fill="#1f916a"/><rect x="377" y="775" width="9" height="9" fill="#deecdc"/><rect x="386" y="775" width="9" height="9" fill="#e0ebdd"/><rect x="395" y="775" width="9" height="9" fill="#ecd8dc"/><rect x="404" y="775" width="9" height="9" fill="#efd3dc"/><rect x="413" y="775" width="9" height="9" fill="#ead1d7"/><rect x="422" y="775" width="9" height="9" fill="#e2d1d0"/><rect x="431" y="775" width="9" height="9" fill="#cdd7c1"/><rect x="440" y="775" width="9" height="9" fill="#91caa0"/><rect x="449" y="775" width="9" height="9" fill="#36ad72"/><rect x="458" y="775" width="9" height="9" fill="#1da167"/><rect x="467" y="775" width="9" height="9" fill="#1ba067"/><rect x="476" y="775" width="9" height="9" fill="#1d9868"/><rect x="485" y="775" width="9" height="9" fill="#1e906a"/><rect x="494" y="775" width="9" height="9" fill="#1e906a"/><rect x="503" y="775" width="9" height="9" fill="#1d8f68"/><rect x="377" y="784" width="9" height="9" fill="#ddefdc"/><rect x="386" y="784" width="9" height="9" fill="#ddefdd"/><rect x="395" y="784" width="9" height="9" fill="#e4e7dd"/><rect x="404" y="784" width="9" height="9" fill="#ecd5db"/><rect x="413" y="784" width="9" height="9" fill="#dfdbce"/><rect x="422" y="784" width="9" height="9" fill="#c6e5b4"/><rect x="431" y="784" width="9" height="9" fill="#c1e4b0"/><rect x="440" y="784" width="9" height="9" fill="#9ad79f"/><rect x="449" y="784" width="9" height="9" fill="#38c06f"/><rect x="458" y="784" width="9" height="9" fill="#17b55f"/><rect x="467" y="784" width="9" height="9" fill="#17ab61"/><rect x="476" y="784" width="9" height="9" fill="#1d9868"/><rect x="485" y="784" width="9" height="9" fill="#1e906a"/><rect x="494" y="784" width="9" height="9" fill="#1e9069"/><rect x="503" y="784" width="9" height="9" fill="#188d63"/><rect x="512" y="784" width="9" height="9" fill="#10885b"/><rect x="377" y="793" width="9" height="9" fill="#deeddc"/><rect x="386" y="793" width="9" height="9" fill="#deeddc"/><rect x="395" y="793" width="9" height="9" fill="#e2e5da"/><rect x="404" y="793" width="9" height="9" fill="#e1ddd3"/><rect x="413" y="793" width="9" height="9" fill="#cae3b8"/><rect x="422" y="793" width="9" height="9" fill="#c2e7af"/><rect x="431" y="793" width="9" height="9" fill="#c1e7af"/><rect x="440" y="793" width="9" height="9" fill="#99dc9c"/><rect x="449" y="793" width="9" height="9" fill="#1ecc5d"/><rect x="458" y="793" width="9" height="9" fill="#02ce4d"/><rect x="467" y="793" width="9" height="9" fill="#03cc4e"/><rect x="476" y="793" width="9" height="9" fill="#15b25e"/><rect x="485" y="793" width="9" height="9" fill="#209869"/><rect x="494" y="793" width="9" height="9" fill="#1f9169"/><rect x="503" y="793" width="9" height="9" fill="#12895d"/><rect x="512" y="793" width="9" height="9" fill="#0d8859"/><rect x="521" y="793" width="9" height="9" fill="#0d8759"/><rect x="377" y="802" width="9" height="9" fill="#e3e2d8"/><rect x="386" y="802" width="9" height="9" fill="#e6dcd5"/><rect x="395" y="802" width="9" height="9" fill="#e7dad5"/><rect x="404" y="802" width="9" height="9" fill="#e4dad2"/><rect x="413" y="802" width="9" height="9" fill="#ccdfbb"/><rect x="422" y="802" width="9" height="9" fill="#c2e5b0"/><rect x="431" y="802" width="9" height="9" fill="#bce3ad"/><rect x="440" y="802" width="9" height="9" fill="#82d690"/><rect x="449" y="802" width="9" height="9" fill="#13cd56"/><rect x="458" y="802" width="9" height="9" fill="#01cf4c"/><rect x="467" y="802" width="9" height="9" fill="#02ce4d"/><rect x="476" y="802" width="9" height="9" fill="#1bbb61"/><rect x="485" y="802" width="9" height="9" fill="#34a375"/><rect x="494" y="802" width="9" height="9" fill="#2e9571"/><rect x="503" y="802" width="9" height="9" fill="#178961"/><rect x="512" y="802" width="9" height="9" fill="#0e8759"/><rect x="521" y="802" width="9" height="9" fill="#0f875a"/><rect x="530" y="802" width="9" height="9" fill="#1f8468"/><rect x="377" y="811" width="9" height="9" fill="#e4d9d4"/><rect x="386" y="811" width="9" height="9" fill="#e7d9d4"/><rect x="395" y="811" width="9" height="9" fill="#e7d9d4"/><rect x="404" y="811" width="9" height="9" fill="#e3d5d1"/><rect x="413" y="811" width="9" height="9" fill="#cec6c0"/><rect x="422" y="811" width="9" height="9" fill="#bec7b2"/><rect x="431" y="811" width="9" height="9" fill="#abc9a7"/><rect x="440" y="811" width="9" height="9" fill="#70c489"/><rect x="449" y="811" width="9" height="9" fill="#24c661"/><rect x="458" y="811" width="9" height="9" fill="#0cc954"/><rect x="467" y="811" width="9" height="9" fill="#1bbf60"/><rect x="476" y="811" width="9" height="9" fill="#4aa484"/><rect x="485" y="811" width="9" height="9" fill="#50a08a"/><rect x="494" y="811" width="9" height="9" fill="#499a85"/><rect x="503" y="811" width="9" height="9" fill="#358a79"/><rect x="512" y="811" width="9" height="9" fill="#298370"/><rect x="521" y="811" width="9" height="9" fill="#318078"/><rect x="530" y="811" width="9" height="9" fill="#4c738e"/><rect x="539" y="811" width="9" height="9" fill="#596b99"/><rect x="377" y="820" width="9" height="9" fill="#dfd1d0"/><rect x="386" y="820" width="9" height="9" fill="#e3d3d1"/><rect x="395" y="820" width="9" height="9" fill="#e1d0d0"/><rect x="404" y="820" width="9" height="9" fill="#d1b2c2"/><rect x="413" y="820" width="9" height="9" fill="#b882ae"/><rect x="422" y="820" width="9" height="9" fill="#b17ba9"/><rect x="431" y="820" width="9" height="9" fill="#a590a5"/><rect x="440" y="820" width="9" height="9" fill="#74a68d"/><rect x="449" y="820" width="9" height="9" fill="#40af72"/><rect x="458" y="820" width="9" height="9" fill="#32af6d"/><rect x="467" y="820" width="9" height="9" fill="#46a580"/><rect x="476" y="820" width="9" height="9" fill="#53a08c"/><rect x="485" y="820" width="9" height="9" fill="#549f8c"/><rect x="494" y="820" width="9" height="9" fill="#539a8d"/><rect x="503" y="820" width="9" height="9" fill="#577d96"/><rect x="512" y="820" width="9" height="9" fill="#5b6d9d"/><rect x="521" y="820" width="9" height="9" fill="#5c6b9e"/><rect x="530" y="820" width="9" height="9" fill="#5f689f"/><rect x="539" y="820" width="9" height="9" fill="#60679f"/><rect x="548" y="820" width="9" height="9" fill="#6366a0"/><rect x="377" y="829" width="9" height="9" fill="#d3bac5"/><rect x="386" y="829" width="9" height="9" fill="#d3b7c4"/><rect x="395" y="829" width="9" height="9" fill="#c9a2bc"/><rect x="404" y="829" width="9" height="9" fill="#b676ac"/><rect x="413" y="829" width="9" height="9" fill="#b066a6"/><rect x="422" y="829" width="9" height="9" fill="#af65a6"/><rect x="431" y="829" width="9" height="9" fill="#a870a4"/><rect x="440" y="829" width="9" height="9" fill="#75938d"/><rect x="449" y="829" width="9" height="9" fill="#3da070"/><rect x="458" y="829" width="9" height="9" fill="#34a06b"/><rect x="467" y="829" width="9" height="9" fill="#3fa076"/><rect x="476" y="829" width="9" height="9" fill="#519f8a"/><rect x="485" y="829" width="9" height="9" fill="#549e8c"/><rect x="494" y="829" width="9" height="9" fill="#599293"/><rect x="503" y="829" width="9" height="9" fill="#626ca3"/><rect x="512" y="829" width="9" height="9" fill="#6566a7"/><rect x="521" y="829" width="9" height="9" fill="#6466a6"/><rect x="530" y="829" width="9" height="9" fill="#6067a0"/><rect x="539" y="829" width="9" height="9" fill="#6067a0"/><rect x="548" y="829" width="9" height="9" fill="#6863a3"/><rect x="377" y="838" width="9" height="9" fill="#c396b5"/><rect x="386" y="838" width="9" height="9" fill="#c08db2"/><rect x="395" y="838" width="9" height="9" fill="#b97ead"/><rect x="404" y="838" width="9" height="9" fill="#b16ba7"/><rect x="413" y="838" width="9" height="9" fill="#b064a6"/><rect x="422" y="838" width="9" height="9" fill="#af64a6"/><rect x="431" y="838" width="9" height="9" fill="#a86ca3"/><rect x="440" y="838" width="9" height="9" fill="#679085"/><rect x="449" y="838" width="9" height="9" fill="#339f6a"/><rect x="458" y="838" width="9" height="9" fill="#2f9f67"/><rect x="467" y="838" width="9" height="9" fill="#309f69"/><rect x="476" y="838" width="9" height="9" fill="#449c79"/><rect x="485" y="838" width="9" height="9" fill="#559689"/><rect x="494" y="838" width="9" height="9" fill="#5f7f97"/><rect x="503" y="838" width="9" height="9" fill="#6468a5"/><rect x="512" y="838" width="9" height="9" fill="#6566a7"/><rect x="521" y="838" width="9" height="9" fill="#6566a7"/><rect x="530" y="838" width="9" height="9" fill="#6266a2"/><rect x="539" y="838" width="9" height="9" fill="#6664a2"/><rect x="548" y="838" width="9" height="9" fill="#8155ac"/><rect x="557" y="838" width="9" height="9" fill="#8952af"/><rect x="377" y="847" width="9" height="9" fill="#ba7aa9"/><rect x="386" y="847" width="9" height="9" fill="#b873a7"/><rect x="395" y="847" width="9" height="9" fill="#b670a6"/><rect x="404" y="847" width="9" height="9" fill="#b36ba5"/><rect x="413" y="847" width="9" height="9" fill="#b067a5"/><rect x="422" y="847" width="9" height="9" fill="#ae67a5"/><rect x="431" y="847" width="9" height="9" fill="#a0719f"/><rect x="440" y="847" width="9" height="9" fill="#619081"/><rect x="449" y="847" width="9" height="9" fill="#349e6a"/><rect x="458" y="847" width="9" height="9" fill="#2f9f67"/><rect x="467" y="847" width="9" height="9" fill="#319e68"/><rect x="476" y="847" width="9" height="9" fill="#489572"/><rect x="485" y="847" width="9" height="9" fill="#6b8185"/><rect x="494" y="847" width="9" height="9" fill="#6f6f94"/><rect x="503" y="847" width="9" height="9" fill="#6667a3"/><rect x="512" y="847" width="9" height="9" fill="#6365a8"/><rect x="521" y="847" width="9" height="9" fill="#6065a9"/><rect x="530" y="847" width="9" height="9" fill="#6262a9"/><rect x="539" y="847" width="9" height="9" fill="#755aab"/><rect x="548" y="847" width="9" height="9" fill="#8852af"/><rect x="557" y="847" width="9" height="9" fill="#8a51af"/><rect x="566" y="847" width="9" height="9" fill="#8951b0"/><rect x="377" y="856" width="9" height="9" fill="#b76fa5"/><rect x="386" y="856" width="9" height="9" fill="#b76da5"/><rect x="395" y="856" width="9" height="9" fill="#b76ca5"/><rect x="404" y="856" width="9" height="9" fill="#b66ba4"/><rect x="413" y="856" width="9" height="9" fill="#b266a1"/><rect x="422" y="856" width="9" height="9" fill="#ab659d"/><rect x="431" y="856" width="9" height="9" fill="#9b6e97"/><rect x="440" y="856" width="9" height="9" fill="#708785"/><rect x="449" y="856" width="9" height="9" fill="#459771"/><rect x="458" y="856" width="9" height="9" fill="#3b9a6b"/><rect x="467" y="856" width="9" height="9" fill="#49926e"/><rect x="476" y="856" width="9" height="9" fill="#817275"/><rect x="485" y="856" width="9" height="9" fill="#a34e73"/><rect x="494" y="856" width="9" height="9" fill="#9a5082"/><rect x="503" y="856" width="9" height="9" fill="#6f5da0"/><rect x="512" y="856" width="9" height="9" fill="#4f61b4"/><rect x="521" y="856" width="9" height="9" fill="#4561ba"/><rect x="530" y="856" width="9" height="9" fill="#4c60b8"/><rect x="539" y="856" width="9" height="9" fill="#6d59b3"/><rect x="548" y="856" width="9" height="9" fill="#8552b1"/><rect x="557" y="856" width="9" height="9" fill="#8851b1"/><rect x="566" y="856" width="9" height="9" fill="#8851b2"/><rect x="377" y="865" width="9" height="9" fill="#b76ca4"/><rect x="386" y="865" width="9" height="9" fill="#b76ca4"/><rect x="395" y="865" width="9" height="9" fill="#b76ca5"/><rect x="404" y="865" width="9" height="9" fill="#b76ba4"/><rect x="413" y="865" width="9" height="9" fill="#b25999"/><rect x="422" y="865" width="9" height="9" fill="#ae4e91"/><rect x="431" y="865" width="9" height="9" fill="#a5568f"/><rect x="440" y="865" width="9" height="9" fill="#8d6d8a"/><rect x="449" y="865" width="9" height="9" fill="#6f827f"/><rect x="458" y="865" width="9" height="9" fill="#6c8177"/><rect x="467" y="865" width="9" height="9" fill="#916171"/><rect x="476" y="865" width="9" height="9" fill="#be3565"/><rect x="485" y="865" width="9" height="9" fill="#ca2a61"/><rect x="494" y="865" width="9" height="9" fill="#c22f68"/><rect x="503" y="865" width="9" height="9" fill="#825299"/><rect x="512" y="865" width="9" height="9" fill="#4160bc"/><rect x="521" y="865" width="9" height="9" fill="#3c61bf"/><rect x="530" y="865" width="9" height="9" fill="#3f61be"/><rect x="539" y="865" width="9" height="9" fill="#6059ba"/><rect x="548" y="865" width="9" height="9" fill="#8250bc"/><rect x="557" y="865" width="9" height="9" fill="#864fbd"/><rect x="566" y="865" width="9" height="9" fill="#864fbc"/><rect x="575" y="865" width="9" height="9" fill="#8650b9"/><rect x="377" y="874" width="9" height="9" fill="#b66ba4"/><rect x="386" y="874" width="9" height="9" fill="#b76ba4"/><rect x="395" y="874" width="9" height="9" fill="#b76ba4"/><rect x="404" y="874" width="9" height="9" fill="#b5609d"/><rect x="413" y="874" width="9" height="9" fill="#b0428c"/><rect x="422" y="874" width="9" height="9" fill="#af408b"/><rect x="431" y="874" width="9" height="9" fill="#ad458b"/><rect x="440" y="874" width="9" height="9" fill="#a1538a"/><rect x="449" y="874" width="9" height="9" fill="#926283"/><rect x="458" y="874" width="9" height="9" fill="#965b78"/><rect x="467" y="874" width="9" height="9" fill="#b53d69"/><rect x="476" y="874" width="9" height="9" fill="#cb2960"/><rect x="485" y="874" width="9" height="9" fill="#cf265e"/><rect x="494" y="874" width="9" height="9" fill="#cc2760"/><rect x="503" y="874" width="9" height="9" fill="#994688"/><rect x="512" y="874" width="9" height="9" fill="#445fba"/><rect x="521" y="874" width="9" height="9" fill="#3c61bf"/><rect x="530" y="874" width="9" height="9" fill="#4060be"/><rect x="539" y="874" width="9" height="9" fill="#6757bc"/><rect x="548" y="874" width="9" height="9" fill="#864fbf"/><rect x="557" y="874" width="9" height="9" fill="#874ebf"/><rect x="566" y="874" width="9" height="9" fill="#874ebf"/><rect x="575" y="874" width="9" height="9" fill="#874ebc"/><rect x="377" y="883" width="9" height="9" fill="#b569a2"/><rect x="386" y="883" width="9" height="9" fill="#b667a1"/><rect x="395" y="883" width="9" height="9" fill="#b5609d"/><rect x="404" y="883" width="9" height="9" fill="#b14990"/><rect x="413" y="883" width="9" height="9" fill="#b03f8a"/><rect x="422" y="883" width="9" height="9" fill="#af3e8a"/><rect x="431" y="883" width="9" height="9" fill="#ae418a"/><rect x="440" y="883" width="9" height="9" fill="#a84889"/><rect x="449" y="883" width="9" height="9" fill="#a04e84"/><rect x="458" y="883" width="9" height="9" fill="#a24979"/><rect x="467" y="883" width="9" height="9" fill="#b5386a"/><rect x="476" y="883" width="9" height="9" fill="#c72a61"/><rect x="485" y="883" width="9" height="9" fill="#cd275f"/><rect x="494" y="883" width="9" height="9" fill="#c22b62"/><rect x="503" y="883" width="9" height="9" fill="#8b4379"/><rect x="512" y="883" width="9" height="9" fill="#5457a1"/><rect x="521" y="883" width="9" height="9" fill="#455eb6"/><rect x="530" y="883" width="9" height="9" fill="#4d5cb8"/><rect x="539" y="883" width="9" height="9" fill="#7154ba"/><rect x="548" y="883" width="9" height="9" fill="#854fbe"/><rect x="557" y="883" width="9" height="9" fill="#874ebf"/><rect x="566" y="883" width="9" height="9" fill="#874ebe"/><rect x="575" y="883" width="9" height="9" fill="#8a4cba"/><rect x="584" y="883" width="9" height="9" fill="#8c4ab6"/><rect x="377" y="892" width="9" height="9" fill="#b569a2"/><rect x="386" y="892" width="9" height="9" fill="#b5649f"/><rect x="395" y="892" width="9" height="9" fill="#b35899"/><rect x="404" y="892" width="9" height="9" fill="#b0478f"/><rect x="413" y="892" width="9" height="9" fill="#b0408b"/><rect x="422" y="892" width="9" height="9" fill="#af3f8a"/><rect x="431" y="892" width="9" height="9" fill="#ae408a"/><rect x="440" y="892" width="9" height="9" fill="#aa4086"/><rect x="449" y="892" width="9" height="9" fill="#a64081"/><rect x="458" y="892" width="9" height="9" fill="#a3417d"/><rect x="467" y="892" width="9" height="9" fill="#a53d73"/><rect x="476" y="892" width="9" height="9" fill="#aa3568"/><rect x="485" y="892" width="9" height="9" fill="#993765"/><rect x="494" y="892" width="9" height="9" fill="#624366"/><rect x="503" y="892" width="9" height="9" fill="#484665"/><rect x="512" y="892" width="9" height="9" fill="#4b4a72"/><rect x="521" y="892" width="9" height="9" fill="#535293"/><rect x="530" y="892" width="9" height="9" fill="#6055a8"/><rect x="539" y="892" width="9" height="9" fill="#7751b3"/><rect x="548" y="892" width="9" height="9" fill="#854eba"/><rect x="557" y="892" width="9" height="9" fill="#8a4cba"/><rect x="566" y="892" width="9" height="9" fill="#9047b7"/><rect x="575" y="892" width="9" height="9" fill="#9344b3"/><rect x="584" y="892" width="9" height="9" fill="#9244b2"/><rect x="377" y="901" width="9" height="9" fill="#b96fa6"/><rect x="386" y="901" width="9" height="9" fill="#b96ea5"/><rect x="395" y="901" width="9" height="9" fill="#b765a0"/><rect x="404" y="901" width="9" height="9" fill="#b35496"/><rect x="413" y="901" width="9" height="9" fill="#b0478f"/><rect x="422" y="901" width="9" height="9" fill="#af428b"/><rect x="431" y="901" width="9" height="9" fill="#ad3c84"/><rect x="440" y="901" width="9" height="9" fill="#ac347d"/><rect x="449" y="901" width="9" height="9" fill="#ab337c"/><rect x="458" y="901" width="9" height="9" fill="#a5397f"/><rect x="467" y="901" width="9" height="9" fill="#98417d"/><rect x="476" y="901" width="9" height="9" fill="#804472"/><rect x="485" y="901" width="9" height="9" fill="#554566"/><rect x="494" y="901" width="9" height="9" fill="#3c4660"/><rect x="503" y="901" width="9" height="9" fill="#3a4660"/><rect x="512" y="901" width="9" height="9" fill="#3f4664"/><rect x="521" y="901" width="9" height="9" fill="#554a7b"/><rect x="530" y="901" width="9" height="9" fill="#714e99"/><rect x="539" y="901" width="9" height="9" fill="#834dab"/><rect x="548" y="901" width="9" height="9" fill="#8e49b2"/><rect x="557" y="901" width="9" height="9" fill="#9643b2"/><rect x="566" y="901" width="9" height="9" fill="#9b3fb0"/><rect x="575" y="901" width="9" height="9" fill="#9b3fb0"/><rect x="584" y="901" width="9" height="9" fill="#9540b0"/><rect x="377" y="910" width="9" height="9" fill="#bc78aa"/><rect x="386" y="910" width="9" height="9" fill="#be7aab"/><rect x="395" y="910" width="9" height="9" fill="#bd78aa"/><rect x="404" y="910" width="9" height="9" fill="#ba6ba3"/><rect x="413" y="910" width="9" height="9" fill="#b35598"/><rect x="422" y="910" width="9" height="9" fill="#ae438b"/><rect x="431" y="910" width="9" height="9" fill="#ad337d"/><rect x="440" y="910" width="9" height="9" fill="#af2d78"/><rect x="449" y="910" width="9" height="9" fill="#af2d78"/><rect x="458" y="910" width="9" height="9" fill="#a9347e"/><rect x="467" y="910" width="9" height="9" fill="#974488"/><rect x="476" y="910" width="9" height="9" fill="#764a7e"/><rect x="485" y="910" width="9" height="9" fill="#4d4768"/><rect x="494" y="910" width="9" height="9" fill="#3c4661"/><rect x="503" y="910" width="9" height="9" fill="#3b4660"/><rect x="512" y="910" width="9" height="9" fill="#444666"/><rect x="521" y="910" width="9" height="9" fill="#6b4782"/><rect x="530" y="910" width="9" height="9" fill="#8d489c"/><rect x="539" y="910" width="9" height="9" fill="#9549a9"/><rect x="548" y="910" width="9" height="9" fill="#9646af"/><rect x="557" y="910" width="9" height="9" fill="#9a40b0"/><rect x="566" y="910" width="9" height="9" fill="#9c3eb0"/><rect x="575" y="910" width="9" height="9" fill="#9c3eb0"/><rect x="584" y="910" width="9" height="9" fill="#8f40b0"/><rect x="593" y="910" width="9" height="9" fill="#8742b1"/><rect x="377" y="919" width="9" height="9" fill="#be7bac"/><rect x="386" y="919" width="9" height="9" fill="#bf7fac"/><rect x="395" y="919" width="9" height="9" fill="#bf7eac"/><rect x="404" y="919" width="9" height="9" fill="#bd73a9"/><rect x="413" y="919" width="9" height="9" fill="#b85a9e"/><rect x="422" y="919" width="9" height="9" fill="#af448d"/><rect x="431" y="919" width="9" height="9" fill="#ad327d"/><rect x="440" y="919" width="9" height="9" fill="#af2c78"/><rect x="449" y="919" width="9" height="9" fill="#af2c78"/><rect x="458" y="919" width="9" height="9" fill="#a23e89"/><rect x="467" y="919" width="9" height="9" fill="#8c529b"/><rect x="476" y="919" width="9" height="9" fill="#7c5291"/><rect x="485" y="919" width="9" height="9" fill="#5d4b77"/><rect x="494" y="919" width="9" height="9" fill="#4a4769"/><rect x="503" y="919" width="9" height="9" fill="#4c466a"/><rect x="512" y="919" width="9" height="9" fill="#714581"/><rect x="521" y="919" width="9" height="9" fill="#a542a0"/><rect x="530" y="919" width="9" height="9" fill="#b240a8"/><rect x="539" y="919" width="9" height="9" fill="#ac45ab"/><rect x="548" y="919" width="9" height="9" fill="#9c47af"/><rect x="557" y="919" width="9" height="9" fill="#9743b2"/><rect x="566" y="919" width="9" height="9" fill="#9740b1"/><rect x="575" y="919" width="9" height="9" fill="#873fb0"/><rect x="584" y="919" width="9" height="9" fill="#7b3fb0"/><rect x="593" y="919" width="9" height="9" fill="#7e41b1"/><rect x="377" y="928" width="9" height="9" fill="#bd7aac"/><rect x="386" y="928" width="9" height="9" fill="#bf7fad"/><rect x="395" y="928" width="9" height="9" fill="#bf7eac"/><rect x="404" y="928" width="9" height="9" fill="#be64a5"/><rect x="413" y="928" width="9" height="9" fill="#bb4d9d"/><rect x="422" y="928" width="9" height="9" fill="#b24695"/><rect x="431" y="928" width="9" height="9" fill="#aa3a86"/><rect x="440" y="928" width="9" height="9" fill="#a93580"/><rect x="449" y="928" width="9" height="9" fill="#9b4793"/><rect x="458" y="928" width="9" height="9" fill="#7c60ac"/><rect x="467" y="928" width="9" height="9" fill="#7b61ac"/><rect x="476" y="928" width="9" height="9" fill="#7c5ca3"/><rect x="485" y="928" width="9" height="9" fill="#73538e"/><rect x="494" y="928" width="9" height="9" fill="#6b4b81"/><rect x="503" y="928" width="9" height="9" fill="#80478b"/><rect x="512" y="928" width="9" height="9" fill="#ad40a3"/><rect x="521" y="928" width="9" height="9" fill="#bd3cac"/><rect x="530" y="928" width="9" height="9" fill="#be3cac"/><rect x="539" y="928" width="9" height="9" fill="#b840ac"/><rect x="548" y="928" width="9" height="9" fill="#a34aaf"/><rect x="557" y="928" width="9" height="9" fill="#974ab7"/><rect x="566" y="928" width="9" height="9" fill="#944bbb"/><rect x="575" y="928" width="9" height="9" fill="#8243b4"/><rect x="584" y="928" width="9" height="9" fill="#783fb0"/><rect x="593" y="928" width="9" height="9" fill="#7d41b1"/><rect x="377" y="937" width="9" height="9" fill="#b467ad"/><rect x="386" y="937" width="9" height="9" fill="#ba6fab"/><rect x="395" y="937" width="9" height="9" fill="#bd5ca4"/><rect x="404" y="937" width="9" height="9" fill="#bf3e9b"/><rect x="413" y="937" width="9" height="9" fill="#be3e9b"/><rect x="422" y="937" width="9" height="9" fill="#b7439a"/><rect x="431" y="937" width="9" height="9" fill="#a44895"/><rect x="440" y="937" width="9" height="9" fill="#94519b"/><rect x="449" y="937" width="9" height="9" fill="#7c60ac"/><rect x="458" y="937" width="9" height="9" fill="#7764af"/><rect x="467" y="937" width="9" height="9" fill="#7863af"/><rect x="476" y="937" width="9" height="9" fill="#7b60a9"/><rect x="485" y="937" width="9" height="9" fill="#7d589c"/><rect x="494" y="937" width="9" height="9" fill="#865094"/><rect x="503" y="937" width="9" height="9" fill="#a0479e"/><rect x="512" y="937" width="9" height="9" fill="#b83fa9"/><rect x="521" y="937" width="9" height="9" fill="#bf3cac"/><rect x="530" y="937" width="9" height="9" fill="#bf3cac"/><rect x="539" y="937" width="9" height="9" fill="#ba40aa"/><rect x="548" y="937" width="9" height="9" fill="#a550ab"/><rect x="557" y="937" width="9" height="9" fill="#984fb9"/><rect x="566" y="937" width="9" height="9" fill="#994ebf"/><rect x="575" y="937" width="9" height="9" fill="#984ebf"/><rect x="584" y="937" width="9" height="9" fill="#8847b7"/><rect x="593" y="937" width="9" height="9" fill="#8548b5"/><rect x="377" y="946" width="9" height="9" fill="#a14caf"/><rect x="386" y="946" width="9" height="9" fill="#a14aae"/><rect x="395" y="946" width="9" height="9" fill="#b544a2"/><rect x="404" y="946" width="9" height="9" fill="#bf3c9a"/><rect x="413" y="946" width="9" height="9" fill="#bf3c9a"/><rect x="422" y="946" width="9" height="9" fill="#b5439b"/><rect x="431" y="946" width="9" height="9" fill="#9d519b"/><rect x="440" y="946" width="9" height="9" fill="#8959a0"/><rect x="449" y="946" width="9" height="9" fill="#7c60aa"/><rect x="458" y="946" width="9" height="9" fill="#7863ae"/><rect x="467" y="946" width="9" height="9" fill="#7962ad"/><rect x="476" y="946" width="9" height="9" fill="#7c60a8"/><rect x="485" y="946" width="9" height="9" fill="#825a9f"/><rect x="494" y="946" width="9" height="9" fill="#8e549b"/><rect x="503" y="946" width="9" height="9" fill="#a34ca0"/><rect x="512" y="946" width="9" height="9" fill="#b443a6"/><rect x="521" y="946" width="9" height="9" fill="#bb3fa9"/><rect x="530" y="946" width="9" height="9" fill="#ba41a7"/><rect x="539" y="946" width="9" height="9" fill="#a95495"/><rect x="548" y="946" width="9" height="9" fill="#9a6590"/><rect x="557" y="946" width="9" height="9" fill="#995bad"/><rect x="566" y="946" width="9" height="9" fill="#9951bc"/><rect x="575" y="946" width="9" height="9" fill="#9850be"/><rect x="584" y="946" width="9" height="9" fill="#9453bc"/><rect x="593" y="946" width="9" height="9" fill="#935dbc"/><rect x="602" y="946" width="9" height="9" fill="#996ec0"/><rect x="377" y="955" width="9" height="9" fill="#9d48af"/><rect x="386" y="955" width="9" height="9" fill="#9d48af"/><rect x="395" y="955" width="9" height="9" fill="#a348ad"/><rect x="404" y="955" width="9" height="9" fill="#b9409e"/><rect x="413" y="955" width="9" height="9" fill="#b8419c"/><rect x="422" y="955" width="9" height="9" fill="#a34e9b"/><rect x="431" y="955" width="9" height="9" fill="#875b96"/><rect x="440" y="955" width="9" height="9" fill="#7f5e96"/><rect x="449" y="955" width="9" height="9" fill="#7e5f9f"/><rect x="458" y="955" width="9" height="9" fill="#7c60a6"/><rect x="467" y="955" width="9" height="9" fill="#7d60a6"/><rect x="476" y="955" width="9" height="9" fill="#7f5ea2"/><rect x="485" y="955" width="9" height="9" fill="#845b9d"/><rect x="494" y="955" width="9" height="9" fill="#8c589a"/><rect x="503" y="955" width="9" height="9" fill="#9a569b"/><rect x="512" y="955" width="9" height="9" fill="#a4539a"/><rect x="521" y="955" width="9" height="9" fill="#a45891"/><rect x="530" y="955" width="9" height="9" fill="#926c76"/><rect x="539" y="955" width="9" height="9" fill="#857b62"/><rect x="548" y="955" width="9" height="9" fill="#867c67"/><rect x="557" y="955" width="9" height="9" fill="#98768d"/><rect x="566" y="955" width="9" height="9" fill="#a36db3"/><rect x="575" y="955" width="9" height="9" fill="#a46cbe"/><rect x="584" y="955" width="9" height="9" fill="#a67dc5"/><rect x="593" y="955" width="9" height="9" fill="#ab93cb"/><rect x="602" y="955" width="9" height="9" fill="#ae9ecf"/><rect x="377" y="964" width="9" height="9" fill="#9d48b0"/><rect x="386" y="964" width="9" height="9" fill="#9d48b0"/><rect x="395" y="964" width="9" height="9" fill="#9f49af"/><rect x="404" y="964" width="9" height="9" fill="#a849a9"/><rect x="413" y="964" width="9" height="9" fill="#a24fa0"/><rect x="422" y="964" width="9" height="9" fill="#845d95"/><rect x="431" y="964" width="9" height="9" fill="#786290"/><rect x="440" y="964" width="9" height="9" fill="#776290"/><rect x="449" y="964" width="9" height="9" fill="#796193"/><rect x="458" y="964" width="9" height="9" fill="#7d5f98"/><rect x="467" y="964" width="9" height="9" fill="#7f5d9a"/><rect x="476" y="964" width="9" height="9" fill="#805c99"/><rect x="485" y="964" width="9" height="9" fill="#825c98"/><rect x="494" y="964" width="9" height="9" fill="#865c97"/><rect x="503" y="964" width="9" height="9" fill="#8c5e95"/><rect x="512" y="964" width="9" height="9" fill="#91648d"/><rect x="521" y="964" width="9" height="9" fill="#8c7077"/><rect x="530" y="964" width="9" height="9" fill="#837d60"/><rect x="539" y="964" width="9" height="9" fill="#807f5a"/><rect x="548" y="964" width="9" height="9" fill="#81805c"/><rect x="557" y="964" width="9" height="9" fill="#a2858b"/><rect x="566" y="964" width="9" height="9" fill="#c58fbc"/><rect x="575" y="964" width="9" height="9" fill="#c29bca"/><rect x="584" y="964" width="9" height="9" fill="#bbb5d5"/><rect x="593" y="964" width="9" height="9" fill="#bbc2da"/><rect x="602" y="964" width="9" height="9" fill="#bcc0db"/><rect x="377" y="973" width="9" height="9" fill="#954bb5"/><rect x="386" y="973" width="9" height="9" fill="#924cb7"/><rect x="395" y="973" width="9" height="9" fill="#914cb7"/><rect x="404" y="973" width="9" height="9" fill="#944eb1"/><rect x="413" y="973" width="9" height="9" fill="#8d56a1"/><rect x="422" y="973" width="9" height="9" fill="#7a6092"/><rect x="431" y="973" width="9" height="9" fill="#766390"/><rect x="440" y="973" width="9" height="9" fill="#766390"/><rect x="449" y="973" width="9" height="9" fill="#786290"/><rect x="458" y="973" width="9" height="9" fill="#7d5e90"/><rect x="467" y="973" width="9" height="9" fill="#7f5b8f"/><rect x="476" y="973" width="9" height="9" fill="#7f5b90"/><rect x="485" y="973" width="9" height="9" fill="#7f5b93"/><rect x="494" y="973" width="9" height="9" fill="#7d5d95"/><rect x="503" y="973" width="9" height="9" fill="#7c5f93"/><rect x="512" y="973" width="9" height="9" fill="#80678d"/><rect x="521" y="973" width="9" height="9" fill="#84747b"/><rect x="530" y="973" width="9" height="9" fill="#837d64"/><rect x="539" y="973" width="9" height="9" fill="#817f5d"/><rect x="548" y="973" width="9" height="9" fill="#8a8169"/><rect x="557" y="973" width="9" height="9" fill="#cf91bb"/><rect x="566" y="973" width="9" height="9" fill="#dd94cb"/><rect x="575" y="973" width="9" height="9" fill="#d3a3d1"/><rect x="584" y="973" width="9" height="9" fill="#becbdd"/><rect x="593" y="973" width="9" height="9" fill="#bdd0df"/><rect x="602" y="973" width="9" height="9" fill="#c1c8de"/><rect x="377" y="982" width="9" height="9" fill="#8b4ebd"/><rect x="386" y="982" width="9" height="9" fill="#884ebf"/><rect x="395" y="982" width="9" height="9" fill="#884ebf"/><rect x="404" y="982" width="9" height="9" fill="#8b4eba"/><rect x="413" y="982" width="9" height="9" fill="#8954a7"/><rect x="422" y="982" width="9" height="9" fill="#7c5f94"/><rect x="431" y="982" width="9" height="9" fill="#776290"/><rect x="440" y="982" width="9" height="9" fill="#766290"/><rect x="449" y="982" width="9" height="9" fill="#7a608f"/><rect x="458" y="982" width="9" height="9" fill="#7f5a8b"/><rect x="467" y="982" width="9" height="9" fill="#7f5989"/><rect x="476" y="982" width="9" height="9" fill="#7f598a"/><rect x="485" y="982" width="9" height="9" fill="#7c5a8f"/><rect x="494" y="982" width="9" height="9" fill="#745b93"/><rect x="503" y="982" width="9" height="9" fill="#6e5b93"/><rect x="512" y="982" width="9" height="9" fill="#6e5e93"/><rect x="521" y="982" width="9" height="9" fill="#76668f"/><rect x="530" y="982" width="9" height="9" fill="#827683"/><rect x="539" y="982" width="9" height="9" fill="#8b7e7c"/><rect x="548" y="982" width="9" height="9" fill="#b0899f"/><rect x="557" y="982" width="9" height="9" fill="#dc94ca"/><rect x="566" y="982" width="9" height="9" fill="#df94cd"/><rect x="575" y="982" width="9" height="9" fill="#d6a2d1"/><rect x="584" y="982" width="9" height="9" fill="#becede"/><rect x="593" y="982" width="9" height="9" fill="#c0cddf"/><rect x="602" y="982" width="9" height="9" fill="#c7c0df"/><rect x="611" y="982" width="9" height="9" fill="#c4c0de"/><rect x="377" y="991" width="9" height="9" fill="#894ebd"/><rect x="386" y="991" width="9" height="9" fill="#874ebf"/><rect x="395" y="991" width="9" height="9" fill="#874ebf"/><rect x="404" y="991" width="9" height="9" fill="#8b4dbb"/><rect x="413" y="991" width="9" height="9" fill="#904fac"/><rect x="422" y="991" width="9" height="9" fill="#865a9b"/><rect x="431" y="991" width="9" height="9" fill="#7e5f94"/><rect x="440" y="991" width="9" height="9" fill="#7f6093"/><rect x="449" y="991" width="9" height="9" fill="#825c8f"/><rect x="458" y="991" width="9" height="9" fill="#7f5988"/><rect x="467" y="991" width="9" height="9" fill="#7e5888"/><rect x="476" y="991" width="9" height="9" fill="#7e5989"/><rect x="485" y="991" width="9" height="9" fill="#7b598d"/><rect x="494" y="991" width="9" height="9" fill="#6d5992"/><rect x="503" y="991" width="9" height="9" fill="#655891"/><rect x="512" y="991" width="9" height="9" fill="#645892"/><rect x="521" y="991" width="9" height="9" fill="#675998"/><rect x="530" y="991" width="9" height="9" fill="#6e5ea5"/><rect x="539" y="991" width="9" height="9" fill="#7d69aa"/><rect x="548" y="991" width="9" height="9" fill="#a882b6"/><rect x="557" y="991" width="9" height="9" fill="#d193c8"/><rect x="566" y="991" width="9" height="9" fill="#d896cc"/><rect x="575" y="991" width="9" height="9" fill="#c7a8d1"/><rect x="584" y="991" width="9" height="9" fill="#bfc2dc"/><rect x="593" y="991" width="9" height="9" fill="#c9bedf"/><rect x="602" y="991" width="9" height="9" fill="#c9bddf"/><rect x="611" y="991" width="9" height="9" fill="#c2bedd"/><rect x="377" y="1000" width="9" height="9" fill="#904bb9"/><rect x="386" y="1000" width="9" height="9" fill="#8e4bbb"/><rect x="395" y="1000" width="9" height="9" fill="#9249b9"/><rect x="404" y="1000" width="9" height="9" fill="#9f43b0"/><rect x="413" y="1000" width="9" height="9" fill="#a245a9"/><rect x="422" y="1000" width="9" height="9" fill="#9851a2"/><rect x="431" y="1000" width="9" height="9" fill="#925c9e"/><rect x="440" y="1000" width="9" height="9" fill="#965f9f"/><rect x="449" y="1000" width="9" height="9" fill="#915d98"/><rect x="458" y="1000" width="9" height="9" fill="#81598a"/><rect x="467" y="1000" width="9" height="9" fill="#7e5888"/><rect x="476" y="1000" width="9" height="9" fill="#7f5989"/><rect x="485" y="1000" width="9" height="9" fill="#7a598e"/><rect x="494" y="1000" width="9" height="9" fill="#695892"/><rect x="503" y="1000" width="9" height="9" fill="#635790"/><rect x="512" y="1000" width="9" height="9" fill="#635790"/><rect x="521" y="1000" width="9" height="9" fill="#635697"/><rect x="530" y="1000" width="9" height="9" fill="#6351b8"/><rect x="539" y="1000" width="9" height="9" fill="#6553bc"/><rect x="548" y="1000" width="9" height="9" fill="#7866bb"/><rect x="557" y="1000" width="9" height="9" fill="#9989c0"/><rect x="566" y="1000" width="9" height="9" fill="#9399c3"/><rect x="575" y="1000" width="9" height="9" fill="#75a4c3"/><rect x="584" y="1000" width="9" height="9" fill="#86b1cc"/><rect x="593" y="1000" width="9" height="9" fill="#adbad7"/><rect x="602" y="1000" width="9" height="9" fill="#b7bbd9"/><rect x="611" y="1000" width="9" height="9" fill="#b2bad7"/><rect x="377" y="1009" width="9" height="9" fill="#a541ac"/><rect x="386" y="1009" width="9" height="9" fill="#b038a5"/><rect x="395" y="1009" width="9" height="9" fill="#bb2d9d"/><rect x="404" y="1009" width="9" height="9" fill="#bb2d9c"/><rect x="413" y="1009" width="9" height="9" fill="#b3369f"/><rect x="422" y="1009" width="9" height="9" fill="#a54aa3"/><rect x="431" y="1009" width="9" height="9" fill="#a25ca7"/><rect x="440" y="1009" width="9" height="9" fill="#aa62ac"/><rect x="449" y="1009" width="9" height="9" fill="#ac63ad"/><rect x="458" y="1009" width="9" height="9" fill="#a060a3"/><rect x="467" y="1009" width="9" height="9" fill="#895b91"/><rect x="476" y="1009" width="9" height="9" fill="#835a8f"/><rect x="485" y="1009" width="9" height="9" fill="#795a93"/><rect x="494" y="1009" width="9" height="9" fill="#685893"/><rect x="503" y="1009" width="9" height="9" fill="#635791"/><rect x="512" y="1009" width="9" height="9" fill="#635790"/><rect x="521" y="1009" width="9" height="9" fill="#6254a2"/><rect x="530" y="1009" width="9" height="9" fill="#614ebf"/><rect x="539" y="1009" width="9" height="9" fill="#614fbf"/><rect x="548" y="1009" width="9" height="9" fill="#6459bd"/><rect x="557" y="1009" width="9" height="9" fill="#5f80b8"/><rect x="566" y="1009" width="9" height="9" fill="#3299b4"/><rect x="575" y="1009" width="9" height="9" fill="#139db1"/><rect x="584" y="1009" width="9" height="9" fill="#159eb2"/><rect x="593" y="1009" width="9" height="9" fill="#40a5ba"/><rect x="602" y="1009" width="9" height="9" fill="#72adc4"/><rect x="377" y="1018" width="9" height="9" fill="#ad3da3"/><rect x="386" y="1018" width="9" height="9" fill="#b8319e"/><rect x="395" y="1018" width="9" height="9" fill="#bf299a"/><rect x="404" y="1018" width="9" height="9" fill="#bf299a"/><rect x="413" y="1018" width="9" height="9" fill="#b7329c"/><rect x="422" y="1018" width="9" height="9" fill="#a849a2"/><rect x="431" y="1018" width="9" height="9" fill="#a75eaa"/><rect x="440" y="1018" width="9" height="9" fill="#ae64af"/><rect x="449" y="1018" width="9" height="9" fill="#af64af"/><rect x="458" y="1018" width="9" height="9" fill="#ae64af"/><rect x="467" y="1018" width="9" height="9" fill="#a161a5"/><rect x="476" y="1018" width="9" height="9" fill="#8d5d9b"/><rect x="485" y="1018" width="9" height="9" fill="#7a5b9a"/><rect x="494" y="1018" width="9" height="9" fill="#69599a"/><rect x="503" y="1018" width="9" height="9" fill="#635897"/><rect x="512" y="1018" width="9" height="9" fill="#625799"/><rect x="521" y="1018" width="9" height="9" fill="#6153af"/><rect x="530" y="1018" width="9" height="9" fill="#614fbe"/><rect x="539" y="1018" width="9" height="9" fill="#6150bf"/><rect x="548" y="1018" width="9" height="9" fill="#605dbb"/><rect x="557" y="1018" width="9" height="9" fill="#4986b3"/><rect x="566" y="1018" width="9" height="9" fill="#1a9baf"/><rect x="575" y="1018" width="9" height="9" fill="#079daf"/><rect x="584" y="1018" width="9" height="9" fill="#079daf"/><rect x="593" y="1018" width="9" height="9" fill="#1b9fae"/><rect x="602" y="1018" width="9" height="9" fill="#3ca3b1"/><rect x="377" y="1027" width="9" height="9" fill="#aa41a4"/><rect x="386" y="1027" width="9" height="9" fill="#af3da4"/><rect x="395" y="1027" width="9" height="9" fill="#b535a0"/><rect x="404" y="1027" width="9" height="9" fill="#b7319c"/><rect x="413" y="1027" width="9" height="9" fill="#aa3e9e"/><rect x="422" y="1027" width="9" height="9" fill="#9b51a1"/><rect x="431" y="1027" width="9" height="9" fill="#a15fa8"/><rect x="440" y="1027" width="9" height="9" fill="#ac63ae"/><rect x="449" y="1027" width="9" height="9" fill="#af64af"/><rect x="458" y="1027" width="9" height="9" fill="#ad63ae"/><rect x="467" y="1027" width="9" height="9" fill="#a561a9"/><rect x="476" y="1027" width="9" height="9" fill="#925da2"/><rect x="485" y="1027" width="9" height="9" fill="#7a5ba3"/><rect x="494" y="1027" width="9" height="9" fill="#625ba7"/><rect x="503" y="1027" width="9" height="9" fill="#555baa"/><rect x="512" y="1027" width="9" height="9" fill="#545aad"/><rect x="521" y="1027" width="9" height="9" fill="#5959b5"/><rect x="530" y="1027" width="9" height="9" fill="#5e57bb"/><rect x="539" y="1027" width="9" height="9" fill="#5f5cbb"/><rect x="548" y="1027" width="9" height="9" fill="#5e71b7"/><rect x="557" y="1027" width="9" height="9" fill="#5193ae"/><rect x="566" y="1027" width="9" height="9" fill="#31a0ab"/><rect x="575" y="1027" width="9" height="9" fill="#179fab"/><rect x="584" y="1027" width="9" height="9" fill="#209fa6"/><rect x="593" y="1027" width="9" height="9" fill="#29a0a4"/><rect x="602" y="1027" width="9" height="9" fill="#33a1a7"/><rect x="377" y="1036" width="9" height="9" fill="#a646a5"/><rect x="386" y="1036" width="9" height="9" fill="#ae3fa6"/><rect x="395" y="1036" width="9" height="9" fill="#ac41a6"/><rect x="404" y="1036" width="9" height="9" fill="#8758a0"/><rect x="413" y="1036" width="9" height="9" fill="#76619c"/><rect x="422" y="1036" width="9" height="9" fill="#79639c"/><rect x="431" y="1036" width="9" height="9" fill="#8a64a1"/><rect x="440" y="1036" width="9" height="9" fill="#9f63a8"/><rect x="449" y="1036" width="9" height="9" fill="#a763ab"/><rect x="458" y="1036" width="9" height="9" fill="#a761a8"/><rect x="467" y="1036" width="9" height="9" fill="#a35ba2"/><rect x="476" y="1036" width="9" height="9" fill="#9956a0"/><rect x="485" y="1036" width="9" height="9" fill="#7c57a7"/><rect x="494" y="1036" width="9" height="9" fill="#515bb6"/><rect x="503" y="1036" width="9" height="9" fill="#325dc2"/><rect x="512" y="1036" width="9" height="9" fill="#2c5ec5"/><rect x="521" y="1036" width="9" height="9" fill="#3960c2"/><rect x="530" y="1036" width="9" height="9" fill="#4e66bd"/><rect x="539" y="1036" width="9" height="9" fill="#5770bb"/><rect x="548" y="1036" width="9" height="9" fill="#5f81b5"/><rect x="557" y="1036" width="9" height="9" fill="#70a2aa"/><rect x="566" y="1036" width="9" height="9" fill="#75b2a0"/><rect x="575" y="1036" width="9" height="9" fill="#4ca8a0"/><rect x="584" y="1036" width="9" height="9" fill="#2fa0a0"/><rect x="593" y="1036" width="9" height="9" fill="#2fa0a0"/><rect x="602" y="1036" width="9" height="9" fill="#35a1a3"/><rect x="377" y="1045" width="9" height="9" fill="#8b56a2"/><rect x="386" y="1045" width="9" height="9" fill="#855aa1"/><rect x="395" y="1045" width="9" height="9" fill="#378896"/><rect x="404" y="1045" width="9" height="9" fill="#1e9691"/><rect x="413" y="1045" width="9" height="9" fill="#348994"/><rect x="422" y="1045" width="9" height="9" fill="#4d7994"/><rect x="431" y="1045" width="9" height="9" fill="#636f96"/><rect x="440" y="1045" width="9" height="9" fill="#7d689a"/><rect x="449" y="1045" width="9" height="9" fill="#93619d"/><rect x="458" y="1045" width="9" height="9" fill="#a45598"/><rect x="467" y="1045" width="9" height="9" fill="#ae4991"/><rect x="476" y="1045" width="9" height="9" fill="#ad4792"/><rect x="485" y="1045" width="9" height="9" fill="#9150a2"/><rect x="494" y="1045" width="9" height="9" fill="#445abd"/><rect x="503" y="1045" width="9" height="9" fill="#1b5ecc"/><rect x="512" y="1045" width="9" height="9" fill="#165ece"/><rect x="521" y="1045" width="9" height="9" fill="#2060cb"/><rect x="530" y="1045" width="9" height="9" fill="#466dc1"/><rect x="539" y="1045" width="9" height="9" fill="#5074be"/><rect x="548" y="1045" width="9" height="9" fill="#577bbb"/><rect x="557" y="1045" width="9" height="9" fill="#80a7a9"/><rect x="566" y="1045" width="9" height="9" fill="#96be9b"/><rect x="575" y="1045" width="9" height="9" fill="#94be9a"/><rect x="584" y="1045" width="9" height="9" fill="#4ba89f"/><rect x="593" y="1045" width="9" height="9" fill="#39a2a0"/><rect x="602" y="1045" width="9" height="9" fill="#3ea2a2"/><rect x="377" y="1054" width="9" height="9" fill="#5a739a"/><rect x="386" y="1054" width="9" height="9" fill="#2d8e94"/><rect x="395" y="1054" width="9" height="9" fill="#0b9e8d"/><rect x="404" y="1054" width="9" height="9" fill="#0b9e8d"/><rect x="413" y="1054" width="9" height="9" fill="#1e948f"/><rect x="422" y="1054" width="9" height="9" fill="#31828b"/><rect x="431" y="1054" width="9" height="9" fill="#3d7a89"/><rect x="440" y="1054" width="9" height="9" fill="#55718c"/><rect x="449" y="1054" width="9" height="9" fill="#816190"/><rect x="458" y="1054" width="9" height="9" fill="#aa4a8d"/><rect x="467" y="1054" width="9" height="9" fill="#bb3e89"/><rect x="476" y="1054" width="9" height="9" fill="#bd3d88"/><rect x="485" y="1054" width="9" height="9" fill="#ad4594"/><rect x="494" y="1054" width="9" height="9" fill="#4e58bb"/><rect x="503" y="1054" width="9" height="9" fill="#175ece"/><rect x="512" y="1054" width="9" height="9" fill="#135ecf"/><rect x="521" y="1054" width="9" height="9" fill="#1c5fcd"/><rect x="530" y="1054" width="9" height="9" fill="#4b6fc0"/><rect x="539" y="1054" width="9" height="9" fill="#4e74bf"/><rect x="548" y="1054" width="9" height="9" fill="#5075bf"/><rect x="557" y="1054" width="9" height="9" fill="#7594af"/><rect x="566" y="1054" width="9" height="9" fill="#96bc9c"/><rect x="575" y="1054" width="9" height="9" fill="#97be9a"/><rect x="584" y="1054" width="9" height="9" fill="#7db59d"/><rect x="593" y="1054" width="9" height="9" fill="#59a9a1"/><rect x="386" y="1063" width="9" height="9" fill="#269293"/><rect x="395" y="1063" width="9" height="9" fill="#139b8e"/><rect x="404" y="1063" width="9" height="9" fill="#13998e"/><rect x="413" y="1063" width="9" height="9" fill="#218a88"/><rect x="422" y="1063" width="9" height="9" fill="#248082"/><rect x="431" y="1063" width="9" height="9" fill="#277e81"/><rect x="440" y="1063" width="9" height="9" fill="#387984"/><rect x="449" y="1063" width="9" height="9" fill="#656a89"/><rect x="458" y="1063" width="9" height="9" fill="#a64b8a"/><rect x="467" y="1063" width="9" height="9" fill="#be3c87"/><rect x="476" y="1063" width="9" height="9" fill="#bf3b87"/><rect x="485" y="1063" width="9" height="9" fill="#b7408d"/><rect x="494" y="1063" width="9" height="9" fill="#7453b0"/><rect x="503" y="1063" width="9" height="9" fill="#2c5cc8"/><rect x="512" y="1063" width="9" height="9" fill="#1f5ecc"/><rect x="521" y="1063" width="9" height="9" fill="#455dc3"/><rect x="530" y="1063" width="9" height="9" fill="#6167bb"/><rect x="539" y="1063" width="9" height="9" fill="#5173bf"/><rect x="548" y="1063" width="9" height="9" fill="#5772bc"/><rect x="557" y="1063" width="9" height="9" fill="#7172b1"/><rect x="566" y="1063" width="9" height="9" fill="#8595a9"/><rect x="575" y="1063" width="9" height="9" fill="#8caea1"/><rect x="584" y="1063" width="9" height="9" fill="#80ada1"/><rect x="593" y="1063" width="9" height="9" fill="#6ca7a3"/><rect x="395" y="1072" width="9" height="9" fill="#22918f"/><rect x="404" y="1072" width="9" height="9" fill="#228b8a"/><rect x="413" y="1072" width="9" height="9" fill="#238182"/><rect x="422" y="1072" width="9" height="9" fill="#218080"/><rect x="431" y="1072" width="9" height="9" fill="#227f80"/><rect x="440" y="1072" width="9" height="9" fill="#2d7d81"/><rect x="449" y="1072" width="9" height="9" fill="#417982"/><rect x="458" y="1072" width="9" height="9" fill="#716788"/><rect x="467" y="1072" width="9" height="9" fill="#b54288"/><rect x="476" y="1072" width="9" height="9" fill="#bc3e89"/><rect x="485" y="1072" width="9" height="9" fill="#af4696"/><rect x="494" y="1072" width="9" height="9" fill="#9551ad"/><rect x="503" y="1072" width="9" height="9" fill="#7d55b5"/><rect x="512" y="1072" width="9" height="9" fill="#7456b8"/><rect x="521" y="1072" width="9" height="9" fill="#9553b1"/><rect x="530" y="1072" width="9" height="9" fill="#9853b0"/><rect x="539" y="1072" width="9" height="9" fill="#7a61b5"/><rect x="548" y="1072" width="9" height="9" fill="#7565b1"/><rect x="557" y="1072" width="9" height="9" fill="#7764b0"/><rect x="566" y="1072" width="9" height="9" fill="#776aaf"/><rect x="575" y="1072" width="9" height="9" fill="#7c84ab"/><rect x="584" y="1072" width="9" height="9" fill="#7b97a8"/><rect x="404" y="1081" width="9" height="9" fill="#278386"/><rect x="413" y="1081" width="9" height="9" fill="#238081"/><rect x="422" y="1081" width="9" height="9" fill="#217f80"/><rect x="431" y="1081" width="9" height="9" fill="#227f80"/><rect x="440" y="1081" width="9" height="9" fill="#317f80"/><rect x="449" y="1081" width="9" height="9" fill="#357f80"/><rect x="458" y="1081" width="9" height="9" fill="#3a7d81"/><rect x="467" y="1081" width="9" height="9" fill="#75658a"/><rect x="476" y="1081" width="9" height="9" fill="#a24f96"/><rect x="485" y="1081" width="9" height="9" fill="#9e51ab"/><rect x="494" y="1081" width="9" height="9" fill="#9c51af"/><rect x="503" y="1081" width="9" height="9" fill="#9b51b0"/><rect x="512" y="1081" width="9" height="9" fill="#9453b1"/><rect x="521" y="1081" width="9" height="9" fill="#9c51b0"/><rect x="530" y="1081" width="9" height="9" fill="#9c51b0"/><rect x="539" y="1081" width="9" height="9" fill="#8e58b1"/><rect x="548" y="1081" width="9" height="9" fill="#7764b0"/><rect x="557" y="1081" width="9" height="9" fill="#7764b0"/><rect x="566" y="1081" width="9" height="9" fill="#7766af"/><rect x="422" y="1090" width="9" height="9" fill="#257f80"/><rect x="431" y="1090" width="9" height="9" fill="#297f80"/><rect x="440" y="1090" width="9" height="9" fill="#337f80"/><rect x="449" y="1090" width="9" height="9" fill="#347f80"/><rect x="458" y="1090" width="9" height="9" fill="#367f80"/><rect x="467" y="1090" width="9" height="9" fill="#507487"/><rect x="476" y="1090" width="9" height="9" fill="#895a9e"/><rect x="485" y="1090" width="9" height="9" fill="#9b52ae"/><rect x="494" y="1090" width="9" height="9" fill="#9d51af"/><rect x="503" y="1090" width="9" height="9" fill="#9c51af"/><rect x="512" y="1090" width="9" height="9" fill="#9852b0"/><rect x="521" y="1090" width="9" height="9" fill="#9952b0"/><rect x="530" y="1090" width="9" height="9" fill="#9953b0"/><rect x="539" y="1090" width="9" height="9" fill="#8d59b0"/><rect x="548" y="1090" width="9" height="9" fill="#7b63b0"/><rect x="557" y="1090" width="9" height="9" fill="#7765b0"/><rect x="440" y="1099" width="9" height="9" fill="#357e81"/><rect x="449" y="1099" width="9" height="9" fill="#367f80"/><rect x="458" y="1099" width="9" height="9" fill="#3a7d81"/><rect x="467" y="1099" width="9" height="9" fill="#507389"/><rect x="476" y="1099" width="9" height="9" fill="#7f5e9e"/><rect x="485" y="1099" width="9" height="9" fill="#9753ac"/><rect x="494" y="1099" width="9" height="9" fill="#9b52af"/><rect x="503" y="1099" width="9" height="9" fill="#9a52af"/><rect x="512" y="1099" width="9" height="9" fill="#9653b0"/><rect x="521" y="1099" width="9" height="9" fill="#9455b0"/><rect x="530" y="1099" width="9" height="9" fill="#9156b0"/><rect x="539" y="1099" width="9" height="9" fill="#895bb0"/><rect x="458" y="1108" width="9" height="9" fill="#437985"/><rect x="467" y="1108" width="9" height="9" fill="#58708e"/><rect x="476" y="1108" width="9" height="9" fill="#79619d"/><rect x="485" y="1108" width="9" height="9" fill="#8f57a9"/><rect x="494" y="1108" width="9" height="9" fill="#9654ad"/><rect x="503" y="1108" width="9" height="9" fill="#9654ae"/><rect x="512" y="1108" width="9" height="9" fill="#9355af"/><rect x="521" y="1108" width="9" height="9" fill="#8f57b0"/><rect x="476" y="1117" width="9" height="9" fill="#75639c"/><rect x="485" y="1117" width="9" height="9" fill="#865ba5"/><rect x="494" y="1117" width="9" height="9" fill="#8e58aa"/><rect x="503" y="1117" width="9" height="9" fill="#8f57ad"/>
</g>
<rect x="130" y="740" width="500" height="400" fill="url(#tex)" mask="url(#mtex)" opacity="0.65"/>
<rect x="130" y="740" width="500" height="400" fill="url(#tex2)" mask="url(#mtex)" opacity="0.4"/>
<path d="M386,779 L393.5,770.6 L408,769 L432,764.7 L470,766 L496.5,779.4 L517,797 L546.5,829.4 L570,867.6 L587.6,914.7 L596.5,950 L605.3,985.3 L602.4,1029.4 L587.6,1067.6 L558.2,1088.2 L523,1106 L496.5,1114.7 L458.2,1103 L414,1079.4 L387.6,1061.8 L387.6,853 L384.7,808.8 Z" fill="none" stroke="#f4f0e0" stroke-width="3" opacity="0.6"/>
</g>
<g><rect x="322" y="872" width="1" height="2" fill="#e8f4e8" opacity="0.8"/><rect x="351" y="1040" width="1" height="2" fill="#f4e8f4" opacity="0.8"/><rect x="307" y="966" width="3" height="2" fill="#ffffff" opacity="0.8"/><rect x="269" y="1014" width="1" height="1" fill="#ffffff" opacity="0.8"/><rect x="223" y="992" width="2" height="2" fill="#c8e0d8" opacity="0.8"/><rect x="291" y="875" width="2" height="1" fill="#ffffff" opacity="0.8"/><rect x="239" y="868" width="2" height="2" fill="#ffffff" opacity="0.8"/><rect x="335" y="911" width="2" height="2" fill="#e0c8e8" opacity="0.8"/><rect x="271" y="975" width="2" height="1" fill="#e0c8e8" opacity="0.8"/><rect x="226" y="827" width="1" height="2" fill="#e8f4e8" opacity="0.8"/><rect x="230" y="815" width="1" height="2" fill="#f4e8f4" opacity="0.8"/><rect x="312" y="1030" width="3" height="2" fill="#e8f4e8" opacity="0.8"/><rect x="237" y="893" width="3" height="2" fill="#ffffff" opacity="0.8"/><rect x="255" y="1095" width="3" height="2" fill="#ffffff" opacity="0.8"/><rect x="195" y="972" width="2" height="1" fill="#ffffff" opacity="0.8"/><rect x="279" y="801" width="3" height="2" fill="#f4e8f4" opacity="0.8"/><rect x="276" y="937" width="1" height="2" fill="#ffffff" opacity="0.8"/><rect x="279" y="879" width="1" height="2" fill="#e0c8e8" opacity="0.8"/><rect x="163" y="909" width="2" height="2" fill="#ffffff" opacity="0.8"/><rect x="224" y="1060" width="2" height="1" fill="#e0c8e8" opacity="0.8"/><rect x="307" y="1048" width="1" height="1" fill="#e8f4e8" opacity="0.8"/><rect x="215" y="1034" width="3" height="2" fill="#c8e0d8" opacity="0.8"/><rect x="209" y="1038" width="3" height="1" fill="#e8f4e8" opacity="0.8"/><rect x="241" y="910" width="2" height="1" fill="#e0c8e8" opacity="0.8"/><rect x="332" y="813" width="1" height="2" fill="#e0c8e8" opacity="0.8"/><rect x="204" y="844" width="2" height="2" fill="#ffffff" opacity="0.8"/><rect x="240" y="864" width="1" height="2" fill="#ffffff" opacity="0.8"/><rect x="189" y="902" width="2" height="2" fill="#e0c8e8" opacity="0.8"/><rect x="251" y="996" width="1" height="1" fill="#ffffff" opacity="0.8"/><rect x="321" y="883" width="1" height="2" fill="#e8f4e8" opacity="0.8"/><rect x="346" y="796" width="1" height="2" fill="#c8e0d8" opacity="0.8"/><rect x="218" y="1091" width="1" height="2" fill="#e0c8e8" opacity="0.8"/><rect x="315" y="905" width="3" height="2" fill="#ffffff" opacity="0.8"/><rect x="237" y="921" width="1" height="2" fill="#ffffff" opacity="0.8"/><rect x="194" y="1075" width="2" height="2" fill="#e8f4e8" opacity="0.8"/><rect x="258" y="819" width="2" height="2" fill="#e8f4e8" opacity="0.8"/><rect x="198" y="922" width="3" height="2" fill="#ffffff" opacity="0.8"/><rect x="333" y="949" width="3" height="2" fill="#c8e0d8" opacity="0.8"/><rect x="244" y="1097" width="1" height="2" fill="#ffffff" opacity="0.8"/><rect x="159" y="1014" width="2" height="2" fill="#c8e0d8" opacity="0.8"/><rect x="172" y="988" width="2" height="1" fill="#e0c8e8" opacity="0.8"/><rect x="213" y="837" width="2" height="2" fill="#c8e0d8" opacity="0.8"/><rect x="305" y="788" width="3" height="2" fill="#c8e0d8" opacity="0.8"/><rect x="232" y="1085" width="2" height="2" fill="#c8e0d8" opacity="0.8"/><rect x="350" y="964" width="1" height="1" fill="#e0c8e8" opacity="0.8"/><rect x="265" y="935" width="2" height="2" fill="#f4e8f4" opacity="0.8"/><rect x="277" y="798" width="2" height="2" fill="#e8f4e8" opacity="0.8"/><rect x="180" y="1049" width="1" height="2" fill="#ffffff" opacity="0.8"/><rect x="188" y="985" width="2" height="1" fill="#c8e0d8" opacity="0.8"/><rect x="320" y="986" width="2" height="1" fill="#e0c8e8" opacity="0.8"/><rect x="286" y="864" width="2" height="2" fill="#e0c8e8" opacity="0.8"/><rect x="224" y="1095" width="3" height="1" fill="#e0c8e8" opacity="0.8"/><rect x="335" y="840" width="1" height="2" fill="#c8e0d8" opacity="0.8"/><rect x="276" y="798" width="2" height="2" fill="#ffffff" opacity="0.8"/><rect x="359" y="796" width="2" height="1" fill="#c8e0d8" opacity="0.8"/><rect x="345" y="856" width="3" height="2" fill="#ffffff" opacity="0.8"/><rect x="238" y="943" width="2" height="2" fill="#f4e8f4" opacity="0.8"/><rect x="273" y="1024" width="2" height="2" fill="#e0c8e8" opacity="0.8"/><rect x="329" y="1012" width="1" height="1" fill="#c8e0d8" opacity="0.8"/><rect x="235" y="1007" width="1" height="2" fill="#f4e8f4" opacity="0.8"/><rect x="182" y="918" width="3" height="2" fill="#f4e8f4" opacity="0.8"/><rect x="280" y="1075" width="2" height="2" fill="#ffffff" opacity="0.8"/><rect x="275" y="946" width="2" height="2" fill="#e8f4e8" opacity="0.8"/><rect x="337" y="1058" width="3" height="2" fill="#c8e0d8" opacity="0.8"/><rect x="214" y="936" width="1" height="2" fill="#e0c8e8" opacity="0.8"/><rect x="160" y="950" width="3" height="1" fill="#f4e8f4" opacity="0.8"/><rect x="219" y="820" width="2" height="2" fill="#e0c8e8" opacity="0.8"/><rect x="344" y="869" width="1" height="2" fill="#c8e0d8" opacity="0.8"/><rect x="348" y="1004" width="1" height="2" fill="#c8e0d8" opacity="0.8"/><rect x="355" y="916" width="3" height="2" fill="#e8f4e8" opacity="0.8"/><rect x="171" y="881" width="1" height="2" fill="#e8f4e8" opacity="0.8"/><rect x="325" y="771" width="1" height="2" fill="#f4e8f4" opacity="0.8"/><rect x="242" y="903" width="3" height="1" fill="#e0c8e8" opacity="0.8"/><rect x="265" y="792" width="2" height="2" fill="#e0c8e8" opacity="0.8"/><rect x="235" y="967" width="1" height="1" fill="#c8e0d8" opacity="0.8"/><rect x="343" y="1050" width="2" height="1" fill="#ffffff" opacity="0.8"/><rect x="313" y="1075" width="2" height="2" fill="#e0c8e8" opacity="0.8"/><rect x="324" y="958" width="1" height="1" fill="#e0c8e8" opacity="0.8"/><rect x="278" y="1050" width="1" height="2" fill="#e0c8e8" opacity="0.8"/><rect x="243" y="996" width="2" height="1" fill="#ffffff" opacity="0.8"/><rect x="290" y="1064" width="1" height="2" fill="#ffffff" opacity="0.8"/><rect x="241" y="868" width="3" height="2" fill="#c8e0d8" opacity="0.8"/><rect x="351" y="785" width="2" height="2" fill="#ffffff" opacity="0.8"/><rect x="316" y="907" width="2" height="2" fill="#e0c8e8" opacity="0.8"/><rect x="181" y="881" width="2" height="2" fill="#ffffff" opacity="0.8"/><rect x="356" y="794" width="3" height="2" fill="#ffffff" opacity="0.8"/><rect x="247" y="861" width="2" height="2" fill="#c8e0d8" opacity="0.8"/><rect x="183" y="941" width="3" height="2" fill="#f4e8f4" opacity="0.8"/><rect x="340" y="806" width="3" height="2" fill="#ffffff" opacity="0.8"/><rect x="283" y="890" width="1" height="1" fill="#ffffff" opacity="0.8"/><rect x="349" y="1021" width="1" height="2" fill="#ffffff" opacity="0.8"/><rect x="278" y="864" width="3" height="2" fill="#f4e8f4" opacity="0.8"/><rect x="156" y="922" width="2" height="2" fill="#e8f4e8" opacity="0.8"/><rect x="181" y="915" width="2" height="2" fill="#e8f4e8" opacity="0.8"/><rect x="323" y="1065" width="2" height="1" fill="#f4e8f4" opacity="0.8"/><rect x="221" y="906" width="3" height="2" fill="#e8f4e8" opacity="0.8"/><rect x="231" y="815" width="3" height="1" fill="#e8f4e8" opacity="0.8"/><rect x="317" y="829" width="2" height="2" fill="#e0c8e8" opacity="0.8"/><rect x="254" y="937" width="1" height="1" fill="#c8e0d8" opacity="0.8"/><rect x="284" y="880" width="2" height="1" fill="#ffffff" opacity="0.8"/><rect x="161" y="937" width="2" height="2" fill="#c8e0d8" opacity="0.8"/><rect x="236" y="1087" width="2" height="2" fill="#f4e8f4" opacity="0.8"/><rect x="313" y="766" width="1" height="1" fill="#ffffff" opacity="0.8"/><rect x="256" y="783" width="1" height="2" fill="#c8e0d8" opacity="0.8"/><rect x="219" y="856" width="1" height="2" fill="#f4e8f4" opacity="0.8"/><rect x="165" y="1025" width="2" height="2" fill="#c8e0d8" opacity="0.8"/><rect x="185" y="932" width="2" height="1" fill="#e0c8e8" opacity="0.8"/><rect x="209" y="1023" width="2" height="2" fill="#e8f4e8" opacity="0.8"/><rect x="253" y="978" width="1" height="2" fill="#ffffff" opacity="0.8"/><rect x="324" y="872" width="2" height="2" fill="#e8f4e8" opacity="0.8"/><rect x="352" y="1004" width="2" height="1" fill="#ffffff" opacity="0.8"/><rect x="251" y="896" width="2" height="2" fill="#f4e8f4" opacity="0.8"/><rect x="237" y="1087" width="1" height="2" fill="#c8e0d8" opacity="0.8"/><rect x="346" y="868" width="2" height="1" fill="#c8e0d8" opacity="0.8"/><rect x="227" y="925" width="1" height="2" fill="#e8f4e8" opacity="0.8"/><rect x="215" y="1040" width="3" height="2" fill="#e0c8e8" opacity="0.8"/><rect x="298" y="829" width="2" height="2" fill="#ffffff" opacity="0.8"/><rect x="192" y="846" width="2" height="2" fill="#e0c8e8" opacity="0.8"/><rect x="347" y="851" width="3" height="2" fill="#e0c8e8" opacity="0.8"/><rect x="342" y="1047" width="2" height="2" fill="#f4e8f4" opacity="0.8"/><rect x="222" y="1048" width="3" height="2" fill="#e0c8e8" opacity="0.8"/><rect x="251" y="1012" width="2" height="1" fill="#ffffff" opacity="0.8"/><rect x="197" y="918" width="3" height="2" fill="#ffffff" opacity="0.8"/><rect x="170" y="911" width="2" height="1" fill="#ffffff" opacity="0.8"/><rect x="296" y="1034" width="2" height="2" fill="#f4e8f4" opacity="0.8"/><rect x="229" y="1090" width="2" height="2" fill="#f4e8f4" opacity="0.8"/><rect x="294" y="852" width="2" height="2" fill="#ffffff" opacity="0.8"/><rect x="287" y="1041" width="2" height="2" fill="#e8f4e8" opacity="0.8"/><rect x="306" y="848" width="2" height="1" fill="#c8e0d8" opacity="0.8"/><rect x="207" y="1039" width="1" height="1" fill="#e0c8e8" opacity="0.8"/><rect x="281" y="811" width="2" height="2" fill="#e8f4e8" opacity="0.8"/><rect x="283" y="789" width="3" height="2" fill="#ffffff" opacity="0.8"/><rect x="353" y="870" width="3" height="1" fill="#e8f4e8" opacity="0.8"/><rect x="230" y="999" width="3" height="2" fill="#c8e0d8" opacity="0.8"/><rect x="312" y="812" width="1" height="1" fill="#ffffff" opacity="0.8"/><rect x="246" y="933" width="2" height="1" fill="#e8f4e8" opacity="0.8"/><rect x="340" y="1057" width="2" height="1" fill="#e8f4e8" opacity="0.8"/><rect x="291" y="1089" width="2" height="1" fill="#c8e0d8" opacity="0.8"/><rect x="271" y="993" width="2" height="2" fill="#c8e0d8" opacity="0.8"/><rect x="302" y="820" width="2" height="2" fill="#c8e0d8" opacity="0.8"/><rect x="333" y="974" width="3" height="2" fill="#f4e8f4" opacity="0.8"/><rect x="232" y="1023" width="3" height="2" fill="#ffffff" opacity="0.8"/><rect x="341" y="829" width="2" height="2" fill="#ffffff" opacity="0.8"/><rect x="287" y="840" width="2" height="2" fill="#e8f4e8" opacity="0.8"/><rect x="271" y="1038" width="3" height="2" fill="#f4e8f4" opacity="0.8"/><rect x="248" y="1078" width="1" height="2" fill="#e8f4e8" opacity="0.8"/><rect x="243" y="987" width="2" height="2" fill="#ffffff" opacity="0.8"/><rect x="282" y="976" width="3" height="2" fill="#f4e8f4" opacity="0.8"/><rect x="346" y="1041" width="1" height="2" fill="#c8e0d8" opacity="0.8"/><rect x="230" y="908" width="2" height="2" fill="#ffffff" opacity="0.8"/><rect x="193" y="947" width="2" height="2" fill="#c8e0d8" opacity="0.8"/><rect x="325" y="817" width="3" height="2" fill="#c8e0d8" opacity="0.8"/><rect x="326" y="921" width="2" height="2" fill="#e8f4e8" opacity="0.8"/><rect x="326" y="976" width="2" height="2" fill="#ffffff" opacity="0.8"/><rect x="188" y="905" width="1" height="2" fill="#f4e8f4" opacity="0.8"/><rect x="201" y="1020" width="2" height="2" fill="#f4e8f4" opacity="0.8"/><rect x="191" y="919" width="1" height="1" fill="#e0c8e8" opacity="0.8"/><rect x="248" y="955" width="2" height="2" fill="#c8e0d8" opacity="0.8"/><rect x="205" y="1067" width="2" height="1" fill="#ffffff" opacity="0.8"/><rect x="321" y="773" width="2" height="2" fill="#c8e0d8" opacity="0.8"/><rect x="293" y="884" width="3" height="1" fill="#ffffff" opacity="0.8"/><rect x="349" y="809" width="2" height="2" fill="#e0c8e8" opacity="0.8"/><rect x="323" y="804" width="1" height="1" fill="#c8e0d8" opacity="0.8"/><rect x="208" y="827" width="3" height="2" fill="#e8f4e8" opacity="0.8"/><rect x="319" y="973" width="2" height="1" fill="#ffffff" opacity="0.8"/><rect x="235" y="984" width="1" height="1" fill="#e8f4e8" opacity="0.8"/><rect x="221" y="1047" width="1" height="2" fill="#ffffff" opacity="0.8"/><rect x="193" y="1068" width="1" height="2" fill="#f4e8f4" opacity="0.8"/><rect x="193" y="1032" width="2" height="2" fill="#e8f4e8" opacity="0.8"/><rect x="267" y="889" width="3" height="2" fill="#f4e8f4" opacity="0.8"/><rect x="250" y="828" width="2" height="1" fill="#ffffff" opacity="0.8"/><rect x="268" y="971" width="2" height="1" fill="#f4e8f4" opacity="0.8"/><rect x="320" y="1070" width="2" height="2" fill="#c8e0d8" opacity="0.8"/><rect x="189" y="872" width="2" height="2" fill="#c8e0d8" opacity="0.8"/><rect x="226" y="913" width="2" height="2" fill="#f4e8f4" opacity="0.8"/><rect x="166" y="916" width="2" height="2" fill="#e0c8e8" opacity="0.8"/><rect x="222" y="817" width="2" height="2" fill="#f4e8f4" opacity="0.8"/><rect x="336" y="891" width="1" height="2" fill="#e0c8e8" opacity="0.8"/><rect x="292" y="941" width="1" height="2" fill="#e0c8e8" opacity="0.8"/><rect x="240" y="911" width="2" height="1" fill="#ffffff" opacity="0.8"/><rect x="310" y="912" width="2" height="2" fill="#e8f4e8" opacity="0.8"/><rect x="177" y="892" width="1" height="1" fill="#c8e0d8" opacity="0.8"/><rect x="265" y="910" width="3" height="2" fill="#e0c8e8" opacity="0.8"/><rect x="264" y="817" width="2" height="2" fill="#e0c8e8" opacity="0.8"/><rect x="301" y="940" width="2" height="2" fill="#e0c8e8" opacity="0.8"/><rect x="193" y="1074" width="2" height="1" fill="#ffffff" opacity="0.8"/><rect x="232" y="917" width="1" height="2" fill="#e8f4e8" opacity="0.8"/><rect x="294" y="844" width="3" height="2" fill="#ffffff" opacity="0.8"/><rect x="280" y="927" width="3" height="2" fill="#e8f4e8" opacity="0.8"/><rect x="256" y="1088" width="2" height="2" fill="#f4e8f4" opacity="0.8"/><rect x="262" y="934" width="3" height="2" fill="#f4e8f4" opacity="0.8"/><rect x="221" y="1040" width="2" height="1" fill="#e8f4e8" opacity="0.8"/><rect x="201" y="917" width="2" height="1" fill="#e0c8e8" opacity="0.8"/><rect x="169" y="1009" width="2" height="2" fill="#e0c8e8" opacity="0.8"/><rect x="230" y="1003" width="2" height="2" fill="#e0c8e8" opacity="0.8"/><rect x="189" y="1003" width="3" height="2" fill="#f4e8f4" opacity="0.8"/><rect x="249" y="1031" width="3" height="2" fill="#e0c8e8" opacity="0.8"/><rect x="284" y="847" width="1" height="1" fill="#ffffff" opacity="0.8"/><rect x="302" y="1076" width="1" height="2" fill="#c8e0d8" opacity="0.8"/><rect x="318" y="926" width="3" height="1" fill="#e8f4e8" opacity="0.8"/><rect x="225" y="1045" width="2" height="1" fill="#e0c8e8" opacity="0.8"/><rect x="342" y="1058" width="2" height="2" fill="#e8f4e8" opacity="0.8"/><rect x="264" y="1003" width="2" height="1" fill="#ffffff" opacity="0.8"/><rect x="316" y="1038" width="3" height="2" fill="#e8f4e8" opacity="0.8"/><rect x="287" y="809" width="2" height="2" fill="#f4e8f4" opacity="0.8"/><rect x="298" y="900" width="2" height="1" fill="#c8e0d8" opacity="0.8"/><rect x="283" y="937" width="2" height="2" fill="#f4e8f4" opacity="0.8"/><rect x="182" y="1052" width="2" height="1" fill="#e0c8e8" opacity="0.8"/><rect x="238" y="1056" width="1" height="2" fill="#e0c8e8" opacity="0.8"/><rect x="211" y="891" width="1" height="1" fill="#e8f4e8" opacity="0.8"/><rect x="159" y="972" width="3" height="2" fill="#c8e0d8" opacity="0.8"/><rect x="309" y="905" width="1" height="2" fill="#ffffff" opacity="0.8"/><rect x="218" y="895" width="2" height="2" fill="#ffffff" opacity="0.8"/><rect x="204" y="1026" width="2" height="2" fill="#e8f4e8" opacity="0.8"/><rect x="224" y="863" width="2" height="2" fill="#f4e8f4" opacity="0.8"/><rect x="243" y="1089" width="2" height="2" fill="#c8e0d8" opacity="0.8"/><rect x="227" y="1074" width="2" height="2" fill="#e8f4e8" opacity="0.8"/><rect x="232" y="934" width="2" height="1" fill="#f4e8f4" opacity="0.8"/><rect x="223" y="989" width="2" height="2" fill="#c8e0d8" opacity="0.8"/><rect x="325" y="908" width="2" height="2" fill="#c8e0d8" opacity="0.8"/><rect x="206" y="973" width="2" height="2" fill="#f4e8f4" opacity="0.8"/><rect x="301" y="1007" width="2" height="2" fill="#e8f4e8" opacity="0.8"/><rect x="277" y="1017" width="1" height="1" fill="#c8e0d8" opacity="0.8"/><rect x="178" y="1005" width="2" height="2" fill="#e0c8e8" opacity="0.8"/><rect x="341" y="829" width="2" height="2" fill="#e0c8e8" opacity="0.8"/><rect x="260" y="921" width="3" height="2" fill="#e8f4e8" opacity="0.8"/><rect x="239" y="898" width="3" height="2" fill="#ffffff" opacity="0.8"/><rect x="281" y="1081" width="3" height="2" fill="#e0c8e8" opacity="0.8"/><rect x="278" y="1076" width="2" height="2" fill="#e0c8e8" opacity="0.8"/><rect x="328" y="794" width="2" height="1" fill="#ffffff" opacity="0.8"/><rect x="288" y="809" width="3" height="1" fill="#f4e8f4" opacity="0.8"/><rect x="311" y="987" width="1" height="2" fill="#c8e0d8" opacity="0.8"/><rect x="152" y="1001" width="3" height="2" fill="#e8f4e8" opacity="0.8"/><rect x="314" y="1026" width="2" height="1" fill="#c8e0d8" opacity="0.8"/><rect x="232" y="1055" width="3" height="2" fill="#ffffff" opacity="0.8"/><rect x="251" y="1044" width="1" height="1" fill="#f4e8f4" opacity="0.8"/><rect x="155" y="927" width="1" height="2" fill="#e0c8e8" opacity="0.8"/><rect x="198" y="965" width="2" height="2" fill="#e8f4e8" opacity="0.8"/><rect x="318" y="979" width="3" height="1" fill="#e0c8e8" opacity="0.8"/><rect x="321" y="962" width="1" height="2" fill="#e0c8e8" opacity="0.8"/><rect x="168" y="895" width="1" height="1" fill="#e0c8e8" opacity="0.8"/><rect x="264" y="849" width="3" height="1" fill="#f4e8f4" opacity="0.8"/><rect x="191" y="953" width="2" height="1" fill="#f4e8f4" opacity="0.8"/><rect x="190" y="961" width="1" height="2" fill="#e8f4e8" opacity="0.8"/><rect x="273" y="1037" width="3" height="2" fill="#ffffff" opacity="0.8"/><rect x="184" y="892" width="2" height="2" fill="#e8f4e8" opacity="0.8"/><rect x="271" y="901" width="1" height="2" fill="#e0c8e8" opacity="0.8"/><rect x="172" y="1009" width="1" height="2" fill="#e0c8e8" opacity="0.8"/><rect x="298" y="1058" width="1" height="2" fill="#ffffff" opacity="0.8"/><rect x="306" y="887" width="3" height="1" fill="#f4e8f4" opacity="0.8"/><rect x="231" y="889" width="2" height="1" fill="#c8e0d8" opacity="0.8"/><rect x="172" y="881" width="2" height="1" fill="#ffffff" opacity="0.8"/><rect x="311" y="799" width="1" height="2" fill="#f4e8f4" opacity="0.8"/><rect x="349" y="1050" width="1" height="1" fill="#e0c8e8" opacity="0.8"/><rect x="259" y="1073" width="3" height="2" fill="#f4e8f4" opacity="0.8"/><rect x="220" y="1088" width="2" height="2" fill="#f4e8f4" opacity="0.8"/><rect x="213" y="954" width="3" height="2" fill="#c8e0d8" opacity="0.8"/><rect x="299" y="978" width="2" height="1" fill="#c8e0d8" opacity="0.8"/><rect x="225" y="973" width="1" height="2" fill="#ffffff" opacity="0.8"/><rect x="285" y="836" width="3" height="2" fill="#ffffff" opacity="0.8"/><rect x="297" y="938" width="1" height="2" fill="#e0c8e8" opacity="0.8"/><rect x="288" y="858" width="2" height="2" fill="#f4e8f4" opacity="0.8"/><rect x="295" y="890" width="2" height="2" fill="#c8e0d8" opacity="0.8"/><rect x="209" y="1027" width="2" height="2" fill="#ffffff" opacity="0.8"/><rect x="350" y="969" width="3" height="1" fill="#f4e8f4" opacity="0.8"/><rect x="226" y="1028" width="2" height="2" fill="#c8e0d8" opacity="0.8"/><rect x="147" y="1005" width="2" height="1" fill="#e8f4e8" opacity="0.8"/><rect x="162" y="988" width="2" height="2" fill="#f4e8f4" opacity="0.8"/><rect x="221" y="864" width="3" height="2" fill="#e0c8e8" opacity="0.8"/><rect x="298" y="1060" width="2" height="1" fill="#f4e8f4" opacity="0.8"/><rect x="159" y="1005" width="1" height="2" fill="#e8f4e8" opacity="0.8"/><rect x="281" y="1020" width="1" height="1" fill="#e0c8e8" opacity="0.8"/><rect x="349" y="1008" width="2" height="1" fill="#f4e8f4" opacity="0.8"/><rect x="202" y="977" width="2" height="2" fill="#e8f4e8" opacity="0.8"/><rect x="295" y="930" width="2" height="2" fill="#e8f4e8" opacity="0.8"/><rect x="197" y="904" width="2" height="2" fill="#ffffff" opacity="0.8"/><rect x="191" y="878" width="3" height="2" fill="#c8e0d8" opacity="0.8"/><rect x="326" y="792" width="2" height="2" fill="#c8e0d8" opacity="0.8"/><rect x="232" y="953" width="2" height="1" fill="#c8e0d8" opacity="0.8"/><rect x="242" y="829" width="1" height="2" fill="#ffffff" opacity="0.8"/><rect x="280" y="1030" width="1" height="1" fill="#c8e0d8" opacity="0.8"/><rect x="331" y="1062" width="1" height="2" fill="#ffffff" opacity="0.8"/><rect x="294" y="1073" width="2" height="2" fill="#ffffff" opacity="0.8"/><rect x="193" y="882" width="1" height="2" fill="#e0c8e8" opacity="0.8"/><rect x="242" y="884" width="2" height="1" fill="#e0c8e8" opacity="0.8"/><rect x="146" y="977" width="3" height="2" fill="#c8e0d8" opacity="0.8"/><rect x="348" y="854" width="1" height="1" fill="#c8e0d8" opacity="0.8"/><rect x="221" y="884" width="2" height="2" fill="#ffffff" opacity="0.8"/><rect x="263" y="947" width="2" height="1" fill="#e8f4e8" opacity="0.8"/><rect x="216" y="938" width="3" height="2" fill="#ffffff" opacity="0.8"/><rect x="200" y="865" width="2" height="1" fill="#c8e0d8" opacity="0.8"/><rect x="234" y="1080" width="2" height="2" fill="#c8e0d8" opacity="0.8"/><rect x="315" y="843" width="2" height="1" fill="#ffffff" opacity="0.8"/><rect x="303" y="950" width="2" height="1" fill="#c8e0d8" opacity="0.8"/><rect x="349" y="846" width="1" height="2" fill="#f4e8f4" opacity="0.8"/><rect x="178" y="971" width="2" height="2" fill="#ffffff" opacity="0.8"/><rect x="195" y="1067" width="3" height="2" fill="#f4e8f4" opacity="0.8"/><rect x="228" y="894" width="2" height="2" fill="#e0c8e8" opacity="0.8"/><rect x="187" y="1038" width="2" height="1" fill="#c8e0d8" opacity="0.8"/><rect x="309" y="1029" width="3" height="1" fill="#c8e0d8" opacity="0.8"/><rect x="550" y="1024" width="3" height="2" fill="#ffffff" opacity="0.8"/><rect x="389" y="1009" width="2" height="2" fill="#ffffff" opacity="0.8"/><rect x="459" y="1073" width="2" height="1" fill="#e8f4e8" opacity="0.8"/><rect x="415" y="888" width="2" height="2" fill="#ffffff" opacity="0.8"/><rect x="422" y="1061" width="2" height="2" fill="#e8f4e8" opacity="0.8"/><rect x="528" y="1089" width="2" height="1" fill="#c8e0d8" opacity="0.8"/><rect x="492" y="1072" width="1" height="1" fill="#c8e0d8" opacity="0.8"/><rect x="408" y="836" width="2" height="2" fill="#f4e8f4" opacity="0.8"/><rect x="470" y="794" width="3" height="1" fill="#c8e0d8" opacity="0.8"/><rect x="396" y="964" width="2" height="2" fill="#e8f4e8" opacity="0.8"/><rect x="394" y="839" width="2" height="2" fill="#e0c8e8" opacity="0.8"/><rect x="550" y="1027" width="1" height="2" fill="#f4e8f4" opacity="0.8"/><rect x="389" y="871" width="3" height="2" fill="#c8e0d8" opacity="0.8"/><rect x="486" y="893" width="1" height="1" fill="#f4e8f4" opacity="0.8"/><rect x="487" y="1072" width="2" height="2" fill="#e0c8e8" opacity="0.8"/><rect x="510" y="822" width="2" height="2" fill="#e0c8e8" opacity="0.8"/><rect x="434" y="973" width="3" height="2" fill="#e8f4e8" opacity="0.8"/><rect x="452" y="1026" width="2" height="1" fill="#e8f4e8" opacity="0.8"/><rect x="572" y="969" width="3" height="1" fill="#c8e0d8" opacity="0.8"/><rect x="489" y="812" width="2" height="1" fill="#c8e0d8" opacity="0.8"/><rect x="425" y="834" width="1" height="2" fill="#e8f4e8" opacity="0.8"/><rect x="527" y="926" width="1" height="2" fill="#e8f4e8" opacity="0.8"/><rect x="440" y="881" width="3" height="1" fill="#f4e8f4" opacity="0.8"/><rect x="405" y="881" width="2" height="1" fill="#c8e0d8" opacity="0.8"/><rect x="533" y="1057" width="2" height="1" fill="#c8e0d8" opacity="0.8"/><rect x="529" y="1012" width="2" height="2" fill="#f4e8f4" opacity="0.8"/><rect x="400" y="875" width="2" height="2" fill="#f4e8f4" opacity="0.8"/><rect x="478" y="844" width="1" height="1" fill="#e0c8e8" opacity="0.8"/><rect x="429" y="800" width="1" height="2" fill="#c8e0d8" opacity="0.8"/><rect x="539" y="1044" width="3" height="2" fill="#ffffff" opacity="0.8"/><rect x="396" y="1062" width="3" height="2" fill="#ffffff" opacity="0.8"/><rect x="442" y="1013" width="3" height="1" fill="#c8e0d8" opacity="0.8"/><rect x="404" y="988" width="1" height="1" fill="#f4e8f4" opacity="0.8"/><rect x="566" y="1001" width="1" height="1" fill="#ffffff" opacity="0.8"/><rect x="427" y="935" width="1" height="1" fill="#c8e0d8" opacity="0.8"/><rect x="468" y="1031" width="1" height="2" fill="#f4e8f4" opacity="0.8"/><rect x="491" y="957" width="1" height="1" fill="#c8e0d8" opacity="0.8"/><rect x="546" y="1041" width="1" height="2" fill="#ffffff" opacity="0.8"/><rect x="439" y="885" width="2" height="2" fill="#ffffff" opacity="0.8"/><rect x="441" y="828" width="2" height="1" fill="#ffffff" opacity="0.8"/><rect x="428" y="918" width="2" height="2" fill="#ffffff" opacity="0.8"/><rect x="406" y="950" width="2" height="2" fill="#c8e0d8" opacity="0.8"/><rect x="424" y="898" width="1" height="2" fill="#e8f4e8" opacity="0.8"/><rect x="453" y="829" width="2" height="2" fill="#c8e0d8" opacity="0.8"/><rect x="441" y="989" width="2" height="2" fill="#e8f4e8" opacity="0.8"/><rect x="533" y="883" width="3" height="1" fill="#c8e0d8" opacity="0.8"/><rect x="470" y="980" width="2" height="1" fill="#e0c8e8" opacity="0.8"/><rect x="433" y="773" width="2" height="2" fill="#c8e0d8" opacity="0.8"/><rect x="434" y="946" width="3" height="2" fill="#e0c8e8" opacity="0.8"/><rect x="476" y="820" width="2" height="1" fill="#ffffff" opacity="0.8"/><rect x="533" y="1043" width="1" height="1" fill="#e8f4e8" opacity="0.8"/><rect x="486" y="1111" width="3" height="2" fill="#e0c8e8" opacity="0.8"/><rect x="551" y="942" width="2" height="2" fill="#f4e8f4" opacity="0.8"/><rect x="421" y="936" width="1" height="2" fill="#e0c8e8" opacity="0.8"/><rect x="504" y="858" width="2" height="1" fill="#ffffff" opacity="0.8"/><rect x="504" y="1021" width="1" height="2" fill="#ffffff" opacity="0.8"/><rect x="532" y="942" width="1" height="2" fill="#e0c8e8" opacity="0.8"/><rect x="388" y="785" width="1" height="1" fill="#f4e8f4" opacity="0.8"/><rect x="432" y="852" width="2" height="1" fill="#c8e0d8" opacity="0.8"/><rect x="499" y="856" width="1" height="1" fill="#e8f4e8" opacity="0.8"/><rect x="549" y="872" width="2" height="2" fill="#c8e0d8" opacity="0.8"/><rect x="418" y="1069" width="2" height="2" fill="#c8e0d8" opacity="0.8"/><rect x="465" y="890" width="2" height="1" fill="#c8e0d8" opacity="0.8"/><rect x="450" y="1033" width="2" height="2" fill="#ffffff" opacity="0.8"/><rect x="426" y="938" width="3" height="2" fill="#f4e8f4" opacity="0.8"/><rect x="418" y="936" width="1" height="2" fill="#f4e8f4" opacity="0.8"/><rect x="509" y="875" width="2" height="2" fill="#c8e0d8" opacity="0.8"/><rect x="547" y="916" width="2" height="2" fill="#ffffff" opacity="0.8"/><rect x="470" y="1019" width="2" height="2" fill="#c8e0d8" opacity="0.8"/><rect x="479" y="819" width="2" height="2" fill="#f4e8f4" opacity="0.8"/><rect x="463" y="1077" width="1" height="1" fill="#e0c8e8" opacity="0.8"/><rect x="547" y="906" width="3" height="2" fill="#e0c8e8" opacity="0.8"/><rect x="435" y="1076" width="3" height="1" fill="#e0c8e8" opacity="0.8"/><rect x="531" y="845" width="2" height="2" fill="#f4e8f4" opacity="0.8"/><rect x="419" y="912" width="2" height="1" fill="#c8e0d8" opacity="0.8"/><rect x="567" y="1007" width="2" height="2" fill="#ffffff" opacity="0.8"/><rect x="515" y="971" width="1" height="2" fill="#e8f4e8" opacity="0.8"/><rect x="501" y="1081" width="1" height="2" fill="#c8e0d8" opacity="0.8"/><rect x="548" y="1015" width="2" height="2" fill="#e0c8e8" opacity="0.8"/><rect x="476" y="837" width="2" height="1" fill="#f4e8f4" opacity="0.8"/><rect x="433" y="967" width="2" height="1" fill="#f4e8f4" opacity="0.8"/><rect x="453" y="791" width="2" height="2" fill="#ffffff" opacity="0.8"/><rect x="436" y="965" width="3" height="1" fill="#e8f4e8" opacity="0.8"/><rect x="580" y="1013" width="3" height="2" fill="#f4e8f4" opacity="0.8"/><rect x="486" y="911" width="1" height="1" fill="#e8f4e8" opacity="0.8"/><rect x="512" y="1105" width="3" height="2" fill="#e0c8e8" opacity="0.8"/><rect x="490" y="784" width="2" height="1" fill="#c8e0d8" opacity="0.8"/><rect x="479" y="860" width="1" height="2" fill="#e8f4e8" opacity="0.8"/><rect x="426" y="1023" width="3" height="2" fill="#c8e0d8" opacity="0.8"/><rect x="488" y="845" width="2" height="1" fill="#e8f4e8" opacity="0.8"/><rect x="400" y="793" width="2" height="2" fill="#e8f4e8" opacity="0.8"/><rect x="531" y="992" width="2" height="2" fill="#e0c8e8" opacity="0.8"/><rect x="390" y="966" width="3" height="2" fill="#ffffff" opacity="0.8"/><rect x="591" y="1002" width="1" height="2" fill="#e8f4e8" opacity="0.8"/><rect x="518" y="1071" width="2" height="2" fill="#c8e0d8" opacity="0.8"/><rect x="497" y="1086" width="2" height="2" fill="#e0c8e8" opacity="0.8"/><rect x="506" y="986" width="2" height="1" fill="#c8e0d8" opacity="0.8"/><rect x="563" y="886" width="2" height="1" fill="#e8f4e8" opacity="0.8"/><rect x="499" y="970" width="2" height="2" fill="#f4e8f4" opacity="0.8"/><rect x="484" y="928" width="2" height="1" fill="#ffffff" opacity="0.8"/><rect x="468" y="1026" width="3" height="2" fill="#f4e8f4" opacity="0.8"/><rect x="424" y="1080" width="2" height="2" fill="#e8f4e8" opacity="0.8"/><rect x="449" y="919" width="3" height="2" fill="#f4e8f4" opacity="0.8"/><rect x="406" y="863" width="3" height="1" fill="#c8e0d8" opacity="0.8"/><rect x="420" y="905" width="1" height="2" fill="#e8f4e8" opacity="0.8"/><rect x="475" y="909" width="1" height="2" fill="#ffffff" opacity="0.8"/><rect x="516" y="822" width="2" height="1" fill="#e0c8e8" opacity="0.8"/><rect x="467" y="848" width="2" height="2" fill="#c8e0d8" opacity="0.8"/><rect x="561" y="1020" width="2" height="2" fill="#e0c8e8" opacity="0.8"/><rect x="502" y="890" width="2" height="2" fill="#f4e8f4" opacity="0.8"/><rect x="541" y="1043" width="2" height="2" fill="#ffffff" opacity="0.8"/><rect x="472" y="800" width="1" height="2" fill="#e0c8e8" opacity="0.8"/><rect x="583" y="952" width="3" height="2" fill="#e8f4e8" opacity="0.8"/><rect x="568" y="987" width="2" height="2" fill="#c8e0d8" opacity="0.8"/><rect x="490" y="918" width="2" height="2" fill="#e8f4e8" opacity="0.8"/><rect x="539" y="829" width="2" height="1" fill="#e8f4e8" opacity="0.8"/><rect x="556" y="1078" width="1" height="1" fill="#c8e0d8" opacity="0.8"/><rect x="516" y="880" width="2" height="1" fill="#c8e0d8" opacity="0.8"/><rect x="508" y="877" width="2" height="2" fill="#f4e8f4" opacity="0.8"/><rect x="428" y="1040" width="1" height="2" fill="#ffffff" opacity="0.8"/><rect x="414" y="1068" width="2" height="1" fill="#ffffff" opacity="0.8"/><rect x="466" y="909" width="2" height="1" fill="#c8e0d8" opacity="0.8"/><rect x="460" y="870" width="2" height="1" fill="#f4e8f4" opacity="0.8"/><rect x="391" y="1035" width="1" height="1" fill="#c8e0d8" opacity="0.8"/><rect x="520" y="923" width="1" height="1" fill="#f4e8f4" opacity="0.8"/><rect x="487" y="916" width="2" height="2" fill="#f4e8f4" opacity="0.8"/><rect x="413" y="838" width="2" height="1" fill="#e0c8e8" opacity="0.8"/><rect x="503" y="1033" width="2" height="2" fill="#f4e8f4" opacity="0.8"/><rect x="479" y="1089" width="2" height="2" fill="#e8f4e8" opacity="0.8"/><rect x="572" y="984" width="2" height="1" fill="#c8e0d8" opacity="0.8"/><rect x="414" y="986" width="3" height="1" fill="#c8e0d8" opacity="0.8"/><rect x="548" y="1024" width="2" height="2" fill="#f4e8f4" opacity="0.8"/><rect x="481" y="1086" width="2" height="1" fill="#e8f4e8" opacity="0.8"/><rect x="409" y="947" width="2" height="2" fill="#e8f4e8" opacity="0.8"/><rect x="532" y="905" width="3" height="1" fill="#c8e0d8" opacity="0.8"/><rect x="469" y="782" width="1" height="2" fill="#c8e0d8" opacity="0.8"/><rect x="453" y="950" width="3" height="1" fill="#f4e8f4" opacity="0.8"/><rect x="559" y="1086" width="3" height="1" fill="#e8f4e8" opacity="0.8"/><rect x="508" y="811" width="2" height="2" fill="#e8f4e8" opacity="0.8"/><rect x="393" y="951" width="2" height="2" fill="#e0c8e8" opacity="0.8"/><rect x="447" y="1085" width="2" height="1" fill="#c8e0d8" opacity="0.8"/><rect x="435" y="845" width="2" height="2" fill="#e8f4e8" opacity="0.8"/><rect x="529" y="979" width="1" height="1" fill="#e0c8e8" opacity="0.8"/><rect x="390" y="968" width="2" height="1" fill="#e8f4e8" opacity="0.8"/><rect x="590" y="951" width="2" height="2" fill="#e0c8e8" opacity="0.8"/><rect x="574" y="896" width="2" height="2" fill="#ffffff" opacity="0.8"/><rect x="410" y="808" width="2" height="2" fill="#c8e0d8" opacity="0.8"/><rect x="470" y="830" width="2" height="1" fill="#e8f4e8" opacity="0.8"/><rect x="502" y="866" width="3" height="2" fill="#f4e8f4" opacity="0.8"/><rect x="580" y="963" width="2" height="2" fill="#e0c8e8" opacity="0.8"/><rect x="499" y="888" width="2" height="2" fill="#c8e0d8" opacity="0.8"/><rect x="394" y="865" width="2" height="1" fill="#e8f4e8" opacity="0.8"/><rect x="428" y="907" width="2" height="1" fill="#f4e8f4" opacity="0.8"/><rect x="473" y="829" width="2" height="2" fill="#c8e0d8" opacity="0.8"/><rect x="546" y="967" width="3" height="2" fill="#f4e8f4" opacity="0.8"/><rect x="461" y="1029" width="1" height="2" fill="#f4e8f4" opacity="0.8"/><rect x="508" y="811" width="1" height="2" fill="#c8e0d8" opacity="0.8"/><rect x="412" y="816" width="3" height="2" fill="#f4e8f4" opacity="0.8"/><rect x="440" y="853" width="3" height="2" fill="#e8f4e8" opacity="0.8"/><rect x="515" y="843" width="2" height="2" fill="#e0c8e8" opacity="0.8"/><rect x="535" y="887" width="1" height="1" fill="#f4e8f4" opacity="0.8"/><rect x="418" y="792" width="2" height="2" fill="#e0c8e8" opacity="0.8"/><rect x="406" y="902" width="1" height="2" fill="#c8e0d8" opacity="0.8"/><rect x="410" y="784" width="1" height="2" fill="#f4e8f4" opacity="0.8"/><rect x="514" y="961" width="2" height="1" fill="#e0c8e8" opacity="0.8"/><rect x="469" y="1058" width="3" height="2" fill="#e8f4e8" opacity="0.8"/><rect x="441" y="937" width="2" height="1" fill="#c8e0d8" opacity="0.8"/><rect x="502" y="835" width="3" height="1" fill="#ffffff" opacity="0.8"/><rect x="413" y="793" width="2" height="2" fill="#ffffff" opacity="0.8"/><rect x="439" y="934" width="2" height="2" fill="#e8f4e8" opacity="0.8"/><rect x="405" y="867" width="2" height="1" fill="#c8e0d8" opacity="0.8"/><rect x="509" y="1072" width="2" height="2" fill="#f4e8f4" opacity="0.8"/><rect x="454" y="823" width="3" height="1" fill="#ffffff" opacity="0.8"/><rect x="501" y="991" width="3" height="2" fill="#e8f4e8" opacity="0.8"/><rect x="397" y="1014" width="2" height="2" fill="#f4e8f4" opacity="0.8"/><rect x="584" y="911" width="1" height="2" fill="#e0c8e8" opacity="0.8"/><rect x="572" y="1075" width="1" height="1" fill="#f4e8f4" opacity="0.8"/><rect x="448" y="880" width="1" height="2" fill="#c8e0d8" opacity="0.8"/><rect x="561" y="1021" width="2" height="1" fill="#c8e0d8" opacity="0.8"/><rect x="601" y="981" width="2" height="2" fill="#f4e8f4" opacity="0.8"/><rect x="510" y="904" width="2" height="2" fill="#f4e8f4" opacity="0.8"/><rect x="551" y="1021" width="2" height="1" fill="#f4e8f4" opacity="0.8"/><rect x="565" y="1005" width="2" height="2" fill="#f4e8f4" opacity="0.8"/><rect x="414" y="931" width="1" height="1" fill="#e8f4e8" opacity="0.8"/><rect x="539" y="1032" width="3" height="2" fill="#f4e8f4" opacity="0.8"/><rect x="424" y="952" width="2" height="2" fill="#ffffff" opacity="0.8"/><rect x="402" y="807" width="2" height="1" fill="#ffffff" opacity="0.8"/><rect x="447" y="936" width="3" height="2" fill="#e0c8e8" opacity="0.8"/><rect x="549" y="891" width="2" height="1" fill="#e0c8e8" opacity="0.8"/><rect x="468" y="976" width="1" height="2" fill="#e0c8e8" opacity="0.8"/><rect x="487" y="801" width="1" height="2" fill="#e0c8e8" opacity="0.8"/><rect x="438" y="884" width="2" height="2" fill="#ffffff" opacity="0.8"/><rect x="483" y="813" width="3" height="2" fill="#e8f4e8" opacity="0.8"/><rect x="471" y="841" width="2" height="2" fill="#e0c8e8" opacity="0.8"/><rect x="596" y="993" width="3" height="2" fill="#e8f4e8" opacity="0.8"/><rect x="457" y="1081" width="1" height="1" fill="#ffffff" opacity="0.8"/><rect x="596" y="1015" width="2" height="2" fill="#c8e0d8" opacity="0.8"/><rect x="530" y="831" width="1" height="2" fill="#c8e0d8" opacity="0.8"/><rect x="538" y="987" width="3" height="2" fill="#ffffff" opacity="0.8"/><rect x="531" y="1029" width="1" height="1" fill="#ffffff" opacity="0.8"/><rect x="546" y="922" width="2" height="2" fill="#e8f4e8" opacity="0.8"/><rect x="434" y="949" width="2" height="2" fill="#ffffff" opacity="0.8"/><rect x="535" y="1003" width="1" height="2" fill="#e8f4e8" opacity="0.8"/><rect x="562" y="1000" width="2" height="2" fill="#e0c8e8" opacity="0.8"/><rect x="522" y="1052" width="3" height="1" fill="#e0c8e8" opacity="0.8"/><rect x="457" y="794" width="2" height="1" fill="#f4e8f4" opacity="0.8"/><rect x="474" y="987" width="3" height="1" fill="#ffffff" opacity="0.8"/><rect x="412" y="969" width="2" height="2" fill="#ffffff" opacity="0.8"/><rect x="540" y="979" width="3" height="2" fill="#e8f4e8" opacity="0.8"/><rect x="496" y="889" width="3" height="2" fill="#e0c8e8" opacity="0.8"/><rect x="479" y="880" width="2" height="2" fill="#e0c8e8" opacity="0.8"/><rect x="444" y="993" width="3" height="2" fill="#ffffff" opacity="0.8"/><rect x="394" y="993" width="1" height="2" fill="#f4e8f4" opacity="0.8"/><rect x="570" y="974" width="3" height="1" fill="#ffffff" opacity="0.8"/><rect x="447" y="1064" width="3" height="1" fill="#c8e0d8" opacity="0.8"/><rect x="489" y="1110" width="1" height="2" fill="#e0c8e8" opacity="0.8"/><rect x="418" y="896" width="1" height="2" fill="#f4e8f4" opacity="0.8"/><rect x="570" y="976" width="1" height="2" fill="#c8e0d8" opacity="0.8"/><rect x="533" y="867" width="3" height="2" fill="#c8e0d8" opacity="0.8"/><rect x="571" y="887" width="1" height="2" fill="#e8f4e8" opacity="0.8"/><rect x="425" y="839" width="2" height="2" fill="#e0c8e8" opacity="0.8"/><rect x="557" y="951" width="1" height="1" fill="#f4e8f4" opacity="0.8"/><rect x="500" y="872" width="1" height="2" fill="#f4e8f4" opacity="0.8"/><rect x="393" y="899" width="3" height="2" fill="#c8e0d8" opacity="0.8"/><rect x="447" y="1038" width="2" height="1" fill="#ffffff" opacity="0.8"/><rect x="446" y="978" width="3" height="2" fill="#ffffff" opacity="0.8"/><rect x="573" y="1031" width="1" height="1" fill="#f4e8f4" opacity="0.8"/><rect x="447" y="991" width="3" height="1" fill="#e0c8e8" opacity="0.8"/><rect x="492" y="1089" width="2" height="2" fill="#e0c8e8" opacity="0.8"/><rect x="553" y="872" width="1" height="2" fill="#f4e8f4" opacity="0.8"/><rect x="406" y="799" width="3" height="2" fill="#e0c8e8" opacity="0.8"/><rect x="439" y="801" width="2" height="2" fill="#c8e0d8" opacity="0.8"/><rect x="549" y="883" width="2" height="2" fill="#ffffff" opacity="0.8"/><rect x="524" y="870" width="3" height="2" fill="#e0c8e8" opacity="0.8"/><rect x="421" y="788" width="1" height="2" fill="#ffffff" opacity="0.8"/><rect x="438" y="1038" width="1" height="1" fill="#f4e8f4" opacity="0.8"/><rect x="432" y="1019" width="2" height="1" fill="#c8e0d8" opacity="0.8"/><rect x="398" y="894" width="3" height="2" fill="#ffffff" opacity="0.8"/><rect x="399" y="975" width="2" height="1" fill="#f4e8f4" opacity="0.8"/><rect x="412" y="1056" width="3" height="2" fill="#e8f4e8" opacity="0.8"/><rect x="442" y="789" width="1" height="1" fill="#e8f4e8" opacity="0.8"/><rect x="522" y="930" width="3" height="1" fill="#c8e0d8" opacity="0.8"/><rect x="528" y="929" width="2" height="2" fill="#e0c8e8" opacity="0.8"/><rect x="410" y="971" width="1" height="2" fill="#c8e0d8" opacity="0.8"/><rect x="440" y="911" width="1" height="2" fill="#e8f4e8" opacity="0.8"/><rect x="505" y="969" width="2" height="2" fill="#e8f4e8" opacity="0.8"/><rect x="508" y="801" width="2" height="1" fill="#e0c8e8" opacity="0.8"/><rect x="429" y="1018" width="2" height="1" fill="#c8e0d8" opacity="0.8"/><rect x="528" y="972" width="2" height="2" fill="#ffffff" opacity="0.8"/><rect x="450" y="1028" width="2" height="2" fill="#e0c8e8" opacity="0.8"/><rect x="511" y="1078" width="2" height="1" fill="#c8e0d8" opacity="0.8"/><rect x="407" y="787" width="2" height="2" fill="#e0c8e8" opacity="0.8"/><rect x="446" y="849" width="3" height="1" fill="#f4e8f4" opacity="0.8"/><rect x="518" y="1072" width="2" height="2" fill="#e0c8e8" opacity="0.8"/><rect x="594" y="1044" width="3" height="2" fill="#e0c8e8" opacity="0.8"/><rect x="581" y="1027" width="2" height="1" fill="#e0c8e8" opacity="0.8"/><rect x="430" y="795" width="1" height="1" fill="#ffffff" opacity="0.8"/><rect x="514" y="990" width="3" height="1" fill="#ffffff" opacity="0.8"/><rect x="412" y="797" width="1" height="1" fill="#e0c8e8" opacity="0.8"/><rect x="513" y="973" width="3" height="2" fill="#f4e8f4" opacity="0.8"/><rect x="455" y="957" width="2" height="2" fill="#ffffff" opacity="0.8"/><rect x="455" y="863" width="1" height="2" fill="#f4e8f4" opacity="0.8"/><rect x="597" y="977" width="2" height="2" fill="#ffffff" opacity="0.8"/><rect x="501" y="1039" width="2" height="2" fill="#f4e8f4" opacity="0.8"/><rect x="387" y="811" width="3" height="2" fill="#e8f4e8" opacity="0.8"/><rect x="524" y="924" width="1" height="2" fill="#c8e0d8" opacity="0.8"/><rect x="393" y="1035" width="2" height="2" fill="#c8e0d8" opacity="0.8"/><rect x="465" y="887" width="2" height="2" fill="#c8e0d8" opacity="0.8"/><rect x="432" y="1076" width="2" height="2" fill="#c8e0d8" opacity="0.8"/><rect x="456" y="997" width="2" height="2" fill="#e0c8e8" opacity="0.8"/><rect x="413" y="940" width="3" height="1" fill="#e8f4e8" opacity="0.8"/><rect x="408" y="959" width="2" height="2" fill="#e0c8e8" opacity="0.8"/><rect x="521" y="897" width="2" height="1" fill="#ffffff" opacity="0.8"/><rect x="428" y="867" width="2" height="1" fill="#c8e0d8" opacity="0.8"/><rect x="450" y="894" width="2" height="2" fill="#e0c8e8" opacity="0.8"/><rect x="449" y="767" width="2" height="2" fill="#e8f4e8" opacity="0.8"/><rect x="402" y="949" width="2" height="1" fill="#c8e0d8" opacity="0.8"/><rect x="481" y="1060" width="2" height="2" fill="#e8f4e8" opacity="0.8"/><rect x="486" y="775" width="2" height="1" fill="#ffffff" opacity="0.8"/><rect x="553" y="1000" width="2" height="1" fill="#f4e8f4" opacity="0.8"/><rect x="523" y="1040" width="2" height="2" fill="#e0c8e8" opacity="0.8"/><rect x="574" y="1046" width="3" height="1" fill="#ffffff" opacity="0.8"/><rect x="492" y="807" width="3" height="2" fill="#f4e8f4" opacity="0.8"/><rect x="431" y="1039" width="3" height="1" fill="#f4e8f4" opacity="0.8"/><rect x="594" y="1009" width="3" height="2" fill="#e0c8e8" opacity="0.8"/><rect x="602" y="1017" width="1" height="1" fill="#f4e8f4" opacity="0.8"/><rect x="497" y="897" width="2" height="2" fill="#f4e8f4" opacity="0.8"/><rect x="397" y="854" width="3" height="1" fill="#f4e8f4" opacity="0.8"/><rect x="468" y="1073" width="2" height="1" fill="#f4e8f4" opacity="0.8"/><rect x="408" y="979" width="1" height="1" fill="#c8e0d8" opacity="0.8"/><rect x="471" y="974" width="2" height="2" fill="#f4e8f4" opacity="0.8"/><rect x="561" y="1077" width="3" height="1" fill="#e0c8e8" opacity="0.8"/><rect x="551" y="960" width="2" height="2" fill="#e0c8e8" opacity="0.8"/><rect x="406" y="1061" width="1" height="1" fill="#c8e0d8" opacity="0.8"/><rect x="514" y="961" width="1" height="1" fill="#e8f4e8" opacity="0.8"/><rect x="537" y="929" width="2" height="1" fill="#e8f4e8" opacity="0.8"/><rect x="534" y="917" width="2" height="1" fill="#ffffff" opacity="0.8"/><rect x="531" y="902" width="1" height="2" fill="#e0c8e8" opacity="0.8"/><rect x="430" y="1081" width="3" height="1" fill="#e0c8e8" opacity="0.8"/><rect x="473" y="949" width="3" height="1" fill="#ffffff" opacity="0.8"/></g>
<path d="M308,762 L278,767 L250,783 L214,808 L194,834 L166,889 L152,931 L144,967 L142.5,1001 L160,1034 L158,1050 L180,1065 L208,1093 L247,1104 L283,1096 L325,1073 L358.5,1051 L358.5,875 L352,847 L345,815 L360,813 L361,781 L356,778 L343,781 L333,772 L316,762 Z" fill="none" stroke="#0a1a10" stroke-width="2"/>
<path d="M386,779 L393.5,770.6 L408,769 L432,764.7 L470,766 L496.5,779.4 L517,797 L546.5,829.4 L570,867.6 L587.6,914.7 L596.5,950 L605.3,985.3 L602.4,1029.4 L587.6,1067.6 L558.2,1088.2 L523,1106 L496.5,1114.7 L458.2,1103 L414,1079.4 L387.6,1061.8 L387.6,853 L384.7,808.8 Z" fill="none" stroke="#0a1a10" stroke-width="2"/>
<defs><linearGradient id="cbar" x1="0" y1="0" x2="0" y2="1"><stop offset="0" stop-color="#ff1e30"/><stop offset="0.11" stop-color="#ff40b8"/><stop offset="0.17" stop-color="#ff44ff"/><stop offset="0.26" stop-color="#8c40f0"/><stop offset="0.33" stop-color="#0040f0"/><stop offset="0.42" stop-color="#0090f0"/><stop offset="0.50" stop-color="#00ffff"/><stop offset="0.58" stop-color="#00f0a8"/><stop offset="0.68" stop-color="#00f040"/><stop offset="0.76" stop-color="#a0f050"/><stop offset="0.83" stop-color="#ffff48"/><stop offset="0.92" stop-color="#ff8830"/><stop offset="1" stop-color="#ff2020"/></linearGradient></defs>
<rect x="642" y="768.5" width="42" height="344" fill="url(#cbar)"/>
<line x1="642" y1="769.5" x2="646" y2="769.5" stroke="#000" stroke-width="2"/><line x1="680" y1="769.5" x2="684" y2="769.5" stroke="#000" stroke-width="2"/>
<line x1="642" y1="838.0" x2="646" y2="838.0" stroke="#000" stroke-width="2"/><line x1="680" y1="838.0" x2="684" y2="838.0" stroke="#000" stroke-width="2"/>
<line x1="642" y1="906.5" x2="646" y2="906.5" stroke="#000" stroke-width="2"/><line x1="680" y1="906.5" x2="684" y2="906.5" stroke="#000" stroke-width="2"/>
<line x1="642" y1="975.0" x2="646" y2="975.0" stroke="#000" stroke-width="2"/><line x1="680" y1="975.0" x2="684" y2="975.0" stroke="#000" stroke-width="2"/>
<line x1="642" y1="1043.5" x2="646" y2="1043.5" stroke="#000" stroke-width="2"/><line x1="680" y1="1043.5" x2="684" y2="1043.5" stroke="#000" stroke-width="2"/>
<text x="747.5" y="784.2" font-size="25.5" text-anchor="end" fill="#000">3000</text>
<text x="747.5" y="846.6" font-size="25.5" text-anchor="end" fill="#000">2400</text>
<text x="747.5" y="917.2" font-size="25.5" text-anchor="end" fill="#000">1800</text>
<text x="747.5" y="983.6" font-size="25.5" text-anchor="end" fill="#000">1200</text>
<text x="747.5" y="1053.2" font-size="25.5" text-anchor="end" fill="#000">600</text>
<text transform="translate(926,696.5) scale(1.02,1)" font-size="76.5" font-weight="bold" fill="#231f20">d</text>
<rect x="1068.70" y="905.75" width="14.84" height="157.25" fill="#00008c" stroke="#000" stroke-width="1.15"/>
<rect x="1083.54" y="732.32" width="14.84" height="330.68" fill="#00008c" stroke="#000" stroke-width="1.15"/>
<rect x="1098.37" y="834.65" width="14.84" height="228.35" fill="#00008c" stroke="#000" stroke-width="1.15"/>
<rect x="1113.21" y="931.71" width="14.84" height="131.29" fill="#00008c" stroke="#000" stroke-width="1.15"/>
<rect x="1128.04" y="965.94" width="14.84" height="97.06" fill="#00008c" stroke="#000" stroke-width="1.15"/>
<rect x="1142.88" y="1009.96" width="14.84" height="53.04" fill="#00008c" stroke="#000" stroke-width="1.15"/>
<rect x="1157.71" y="1023.88" width="14.84" height="39.12" fill="#00008c" stroke="#000" stroke-width="1.15"/>
<rect x="1172.55" y="1034.79" width="14.84" height="28.22" fill="#00008c" stroke="#000" stroke-width="1.15"/>
<rect x="1187.38" y="1046.82" width="14.84" height="16.18" fill="#00008c" stroke="#000" stroke-width="1.15"/>
<rect x="1202.22" y="1047.58" width="14.84" height="15.42" fill="#00008c" stroke="#000" stroke-width="1.15"/>
<rect x="1217.05" y="1055.48" width="14.84" height="7.52" fill="#00008c" stroke="#000" stroke-width="1.15"/>
<rect x="1231.88" y="1054.72" width="14.84" height="8.28" fill="#00008c" stroke="#000" stroke-width="1.15"/>
<rect x="1246.72" y="1057.73" width="14.84" height="5.27" fill="#00008c" stroke="#000" stroke-width="1.15"/>
<rect x="1261.56" y="1060.37" width="14.84" height="2.63" fill="#00008c" stroke="#000" stroke-width="1.15"/>
<rect x="1276.39" y="1060.89" width="14.84" height="2.11" fill="#00008c" stroke="#000" stroke-width="1.15"/>
<rect x="1291.23" y="1061.12" width="14.84" height="1.88" fill="#00008c" stroke="#000" stroke-width="1.15"/>
<rect x="1306.06" y="1060.37" width="14.84" height="2.63" fill="#00008c" stroke="#000" stroke-width="1.15"/>
<rect x="1320.89" y="1061.87" width="14.84" height="1.13" fill="#00008c" stroke="#000" stroke-width="1.15"/>
<rect x="1335.73" y="1061.87" width="14.84" height="1.13" fill="#00008c" stroke="#000" stroke-width="1.15"/>
<rect x="1350.57" y="1061.68" width="14.84" height="1.32" fill="#00008c" stroke="#000" stroke-width="1.15"/>
<rect x="1066.0" y="686.8" width="375.79999999999995" height="376.20000000000005" fill="none" stroke="#000" stroke-width="1.7"/>
<text x="1057.0" y="1076.2" font-size="32.4" text-anchor="end" fill="#231f20">0</text>
<line x1="1066.0" y1="987.8" x2="1070.0" y2="987.8" stroke="#000" stroke-width="2"/><line x1="1437.8" y1="987.8" x2="1441.8" y2="987.8" stroke="#000" stroke-width="2"/>
<text x="1057.0" y="1001.0" font-size="32.4" text-anchor="end" fill="#231f20">200</text>
<line x1="1066.0" y1="912.5" x2="1070.0" y2="912.5" stroke="#000" stroke-width="2"/><line x1="1437.8" y1="912.5" x2="1441.8" y2="912.5" stroke="#000" stroke-width="2"/>
<text x="1057.0" y="925.7" font-size="32.4" text-anchor="end" fill="#231f20">400</text>
<line x1="1066.0" y1="837.3" x2="1070.0" y2="837.3" stroke="#000" stroke-width="2"/><line x1="1437.8" y1="837.3" x2="1441.8" y2="837.3" stroke="#000" stroke-width="2"/>
<text x="1057.0" y="850.5" font-size="32.4" text-anchor="end" fill="#231f20">600</text>
<line x1="1066.0" y1="762.0" x2="1070.0" y2="762.0" stroke="#000" stroke-width="2"/><line x1="1437.8" y1="762.0" x2="1441.8" y2="762.0" stroke="#000" stroke-width="2"/>
<text x="1057.0" y="775.2" font-size="32.4" text-anchor="end" fill="#231f20">800</text>
<text x="1057.0" y="700.0" font-size="32.4" text-anchor="end" fill="#231f20">1000</text>
<text x="1066.0" y="1102.6" font-size="32.4" text-anchor="middle" fill="#231f20">0</text>
<line x1="1191.3" y1="686.8" x2="1191.3" y2="690.8" stroke="#000" stroke-width="2"/><line x1="1191.3" y1="1059.0" x2="1191.3" y2="1063.0" stroke="#000" stroke-width="2"/>
<text x="1191.3" y="1102.6" font-size="32.4" text-anchor="middle" fill="#231f20">1000</text>
<line x1="1316.5" y1="686.8" x2="1316.5" y2="690.8" stroke="#000" stroke-width="2"/><line x1="1316.5" y1="1059.0" x2="1316.5" y2="1063.0" stroke="#000" stroke-width="2"/>
<text x="1316.5" y="1102.6" font-size="32.4" text-anchor="middle" fill="#231f20">2000</text>
<text x="1441.8" y="1102.6" font-size="32.4" text-anchor="middle" fill="#231f20">3000</text>
<rect x="1584.80" y="694.17" width="18.12" height="368.83" fill="#00008c" stroke="#000" stroke-width="1.15"/>
<rect x="1602.92" y="1011.84" width="18.12" height="51.16" fill="#00008c" stroke="#000" stroke-width="1.15"/>
<rect x="1621.04" y="1047.05" width="18.12" height="15.95" fill="#00008c" stroke="#000" stroke-width="1.15"/>
<rect x="1639.16" y="1055.93" width="18.12" height="7.07" fill="#00008c" stroke="#000" stroke-width="1.15"/>
<rect x="1657.28" y="1059.99" width="18.12" height="3.01" fill="#00008c" stroke="#000" stroke-width="1.15"/>
<rect x="1675.40" y="1060.74" width="18.12" height="2.26" fill="#00008c" stroke="#000" stroke-width="1.15"/>
<rect x="1693.52" y="1060.44" width="18.12" height="2.56" fill="#00008c" stroke="#000" stroke-width="1.15"/>
<rect x="1711.64" y="1062.70" width="18.12" height="0.30" fill="#00008c" stroke="#000" stroke-width="1.15"/>
<rect x="1729.76" y="1062.70" width="18.12" height="0.30" fill="#00008c" stroke="#000" stroke-width="1.15"/>
<rect x="1747.88" y="1062.55" width="18.12" height="0.45" fill="#00008c" stroke="#000" stroke-width="1.15"/>
<rect x="1766.00" y="1062.55" width="18.12" height="0.45" fill="#00008c" stroke="#000" stroke-width="1.15"/>
<rect x="1784.12" y="1062.55" width="18.12" height="0.45" fill="#00008c" stroke="#000" stroke-width="1.15"/>
<rect x="1802.24" y="1062.70" width="18.12" height="0.30" fill="#00008c" stroke="#000" stroke-width="1.15"/>
<rect x="1820.36" y="1062.55" width="18.12" height="0.45" fill="#00008c" stroke="#000" stroke-width="1.15"/>
<rect x="1838.48" y="1062.70" width="18.12" height="0.30" fill="#00008c" stroke="#000" stroke-width="1.15"/>
<rect x="1856.60" y="1062.70" width="18.12" height="0.30" fill="#00008c" stroke="#000" stroke-width="1.15"/>
<rect x="1874.72" y="1062.85" width="18.12" height="0.15" fill="#00008c" stroke="#000" stroke-width="1.15"/>
<rect x="1579.8" y="686.8" width="375.70000000000005" height="376.20000000000005" fill="none" stroke="#000" stroke-width="1.7"/>
<text x="1570.8" y="1076.2" font-size="32.4" text-anchor="end" fill="#231f20">0</text>
<line x1="1579.8" y1="987.8" x2="1583.8" y2="987.8" stroke="#000" stroke-width="2"/><line x1="1951.5" y1="987.8" x2="1955.5" y2="987.8" stroke="#000" stroke-width="2"/>
<text x="1570.8" y="1001.0" font-size="32.4" text-anchor="end" fill="#231f20">500</text>
<line x1="1579.8" y1="912.5" x2="1583.8" y2="912.5" stroke="#000" stroke-width="2"/><line x1="1951.5" y1="912.5" x2="1955.5" y2="912.5" stroke="#000" stroke-width="2"/>
<text x="1570.8" y="925.7" font-size="32.4" text-anchor="end" fill="#231f20">1000</text>
<line x1="1579.8" y1="837.3" x2="1583.8" y2="837.3" stroke="#000" stroke-width="2"/><line x1="1951.5" y1="837.3" x2="1955.5" y2="837.3" stroke="#000" stroke-width="2"/>
<text x="1570.8" y="850.5" font-size="32.4" text-anchor="end" fill="#231f20">1500</text>
<line x1="1579.8" y1="762.0" x2="1583.8" y2="762.0" stroke="#000" stroke-width="2"/><line x1="1951.5" y1="762.0" x2="1955.5" y2="762.0" stroke="#000" stroke-width="2"/>
<text x="1570.8" y="775.2" font-size="32.4" text-anchor="end" fill="#231f20">2000</text>
<text x="1570.8" y="700.0" font-size="32.4" text-anchor="end" fill="#231f20">2500</text>
<text x="1579.8" y="1102.6" font-size="32.4" text-anchor="middle" fill="#231f20">0</text>
<line x1="1705.0" y1="686.8" x2="1705.0" y2="690.8" stroke="#000" stroke-width="2"/><line x1="1705.0" y1="1059.0" x2="1705.0" y2="1063.0" stroke="#000" stroke-width="2"/>
<text x="1705.0" y="1102.6" font-size="32.4" text-anchor="middle" fill="#231f20">5</text>
<line x1="1830.3" y1="686.8" x2="1830.3" y2="690.8" stroke="#000" stroke-width="2"/><line x1="1830.3" y1="1059.0" x2="1830.3" y2="1063.0" stroke="#000" stroke-width="2"/>
<text x="1830.3" y="1102.6" font-size="32.4" text-anchor="middle" fill="#231f20">10</text>
<text x="1955.5" y="1102.6" font-size="32.4" text-anchor="middle" fill="#231f20">15</text>
<text x="1106.5" y="1158.8" font-size="47.5" textLength="301" lengthAdjust="spacingAndGlyphs" fill="#000">Diameter (μm)</text>
<text x="1632" y="1158.8" font-size="47.5" textLength="246" lengthAdjust="spacingAndGlyphs" fill="#000">Duration (s)</text>
</svg></body></html>
